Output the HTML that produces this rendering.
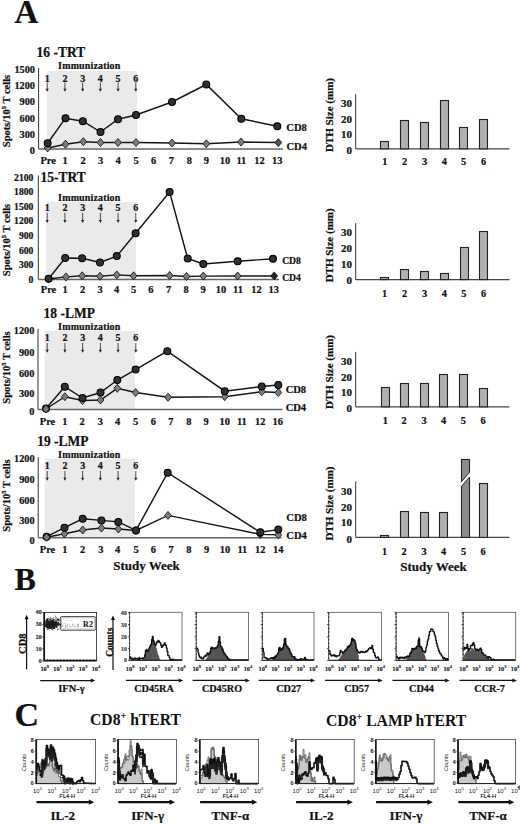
<!DOCTYPE html>
<html><head><meta charset="utf-8"><style>
html,body{margin:0;padding:0;background:#fff;}
svg{display:block;}
</style></head><body>
<svg width="520" height="824" viewBox="0 0 520 824">
<rect width="520" height="824" fill="#fff"/>
<text x="14.50" y="22.89" font-size="33" text-anchor="start" font-weight="bold" font-family="'Liberation Serif', serif" fill="#111" stroke="#111" stroke-width="0.22" >A</text>
<text x="0" y="0" transform="translate(36.60,56.59) scale(1,1.1)" font-size="13.5" text-anchor="start" font-weight="bold" font-family="'Liberation Serif', serif" fill="#111" stroke="#111" stroke-width="0.22" >16 -TRT</text>
<rect x="46.80" y="71.00" width="90.20" height="78.00" fill="#eaeaea" stroke="none" stroke-width="1" />
<line x1="38.60" y1="68.00" x2="38.60" y2="149.00" stroke="#333" stroke-width="1" />
<line x1="38.60" y1="149.00" x2="283.00" y2="149.00" stroke="#666" stroke-width="1.6" />
<text x="35.00" y="73.30" font-size="10.3" text-anchor="end" font-weight="bold" font-family="'Liberation Serif', serif" fill="#111" stroke="#111" stroke-width="0.22" >1500</text>
<text x="35.00" y="89.30" font-size="10.3" text-anchor="end" font-weight="bold" font-family="'Liberation Serif', serif" fill="#111" stroke="#111" stroke-width="0.22" >1200</text>
<text x="35.00" y="105.40" font-size="10.3" text-anchor="end" font-weight="bold" font-family="'Liberation Serif', serif" fill="#111" stroke="#111" stroke-width="0.22" >900</text>
<text x="35.00" y="121.50" font-size="10.3" text-anchor="end" font-weight="bold" font-family="'Liberation Serif', serif" fill="#111" stroke="#111" stroke-width="0.22" >600</text>
<text x="35.00" y="137.50" font-size="10.3" text-anchor="end" font-weight="bold" font-family="'Liberation Serif', serif" fill="#111" stroke="#111" stroke-width="0.22" >300</text>
<text x="35.00" y="153.70" font-size="10.3" text-anchor="end" font-weight="bold" font-family="'Liberation Serif', serif" fill="#111" stroke="#111" stroke-width="0.22" >0</text>
<text x="48.10" y="163.54" font-size="10.4" text-anchor="middle" font-weight="bold" font-family="'Liberation Serif', serif" fill="#111" stroke="#111" stroke-width="0.22" >Pre</text>
<text x="65.10" y="163.54" font-size="10.4" text-anchor="middle" font-weight="bold" font-family="'Liberation Serif', serif" fill="#111" stroke="#111" stroke-width="0.22" >1</text>
<text x="83.00" y="163.54" font-size="10.4" text-anchor="middle" font-weight="bold" font-family="'Liberation Serif', serif" fill="#111" stroke="#111" stroke-width="0.22" >2</text>
<text x="100.50" y="163.54" font-size="10.4" text-anchor="middle" font-weight="bold" font-family="'Liberation Serif', serif" fill="#111" stroke="#111" stroke-width="0.22" >3</text>
<text x="118.00" y="163.54" font-size="10.4" text-anchor="middle" font-weight="bold" font-family="'Liberation Serif', serif" fill="#111" stroke="#111" stroke-width="0.22" >4</text>
<text x="136.00" y="163.54" font-size="10.4" text-anchor="middle" font-weight="bold" font-family="'Liberation Serif', serif" fill="#111" stroke="#111" stroke-width="0.22" >5</text>
<text x="153.70" y="163.54" font-size="10.4" text-anchor="middle" font-weight="bold" font-family="'Liberation Serif', serif" fill="#111" stroke="#111" stroke-width="0.22" >6</text>
<text x="171.30" y="163.54" font-size="10.4" text-anchor="middle" font-weight="bold" font-family="'Liberation Serif', serif" fill="#111" stroke="#111" stroke-width="0.22" >7</text>
<text x="189.30" y="163.54" font-size="10.4" text-anchor="middle" font-weight="bold" font-family="'Liberation Serif', serif" fill="#111" stroke="#111" stroke-width="0.22" >8</text>
<text x="206.30" y="163.54" font-size="10.4" text-anchor="middle" font-weight="bold" font-family="'Liberation Serif', serif" fill="#111" stroke="#111" stroke-width="0.22" >9</text>
<text x="225.00" y="163.54" font-size="10.4" text-anchor="middle" font-weight="bold" font-family="'Liberation Serif', serif" fill="#111" stroke="#111" stroke-width="0.22" >10</text>
<text x="241.30" y="163.54" font-size="10.4" text-anchor="middle" font-weight="bold" font-family="'Liberation Serif', serif" fill="#111" stroke="#111" stroke-width="0.22" >11</text>
<text x="259.50" y="163.54" font-size="10.4" text-anchor="middle" font-weight="bold" font-family="'Liberation Serif', serif" fill="#111" stroke="#111" stroke-width="0.22" >12</text>
<text x="277.20" y="163.54" font-size="10.4" text-anchor="middle" font-weight="bold" font-family="'Liberation Serif', serif" fill="#111" stroke="#111" stroke-width="0.22" >13</text>
<text x="89.30" y="68.90" font-size="10" text-anchor="middle" font-weight="bold" font-family="'Liberation Serif', serif" fill="#111" stroke="#111" stroke-width="0.22" letter-spacing="0.15">Immunization</text>
<text x="47.20" y="81.70" font-size="10" text-anchor="middle" font-weight="bold" font-family="'Liberation Serif', serif" fill="#111" stroke="#111" stroke-width="0.22" >1</text>
<line x1="47.20" y1="82.50" x2="47.20" y2="89.20" stroke="#222" stroke-width="0.8" />
<path d="M45.60,88.70 L48.80,88.70 L47.20,91.70 Z" fill="#222"/>
<text x="64.92" y="81.70" font-size="10" text-anchor="middle" font-weight="bold" font-family="'Liberation Serif', serif" fill="#111" stroke="#111" stroke-width="0.22" >2</text>
<line x1="64.92" y1="82.50" x2="64.92" y2="89.20" stroke="#222" stroke-width="0.8" />
<path d="M63.32,88.70 L66.52,88.70 L64.92,91.70 Z" fill="#222"/>
<text x="82.64" y="81.70" font-size="10" text-anchor="middle" font-weight="bold" font-family="'Liberation Serif', serif" fill="#111" stroke="#111" stroke-width="0.22" >3</text>
<line x1="82.64" y1="82.50" x2="82.64" y2="89.20" stroke="#222" stroke-width="0.8" />
<path d="M81.04,88.70 L84.24,88.70 L82.64,91.70 Z" fill="#222"/>
<text x="100.36" y="81.70" font-size="10" text-anchor="middle" font-weight="bold" font-family="'Liberation Serif', serif" fill="#111" stroke="#111" stroke-width="0.22" >4</text>
<line x1="100.36" y1="82.50" x2="100.36" y2="89.20" stroke="#222" stroke-width="0.8" />
<path d="M98.76,88.70 L101.96,88.70 L100.36,91.70 Z" fill="#222"/>
<text x="118.08" y="81.70" font-size="10" text-anchor="middle" font-weight="bold" font-family="'Liberation Serif', serif" fill="#111" stroke="#111" stroke-width="0.22" >5</text>
<line x1="118.08" y1="82.50" x2="118.08" y2="89.20" stroke="#222" stroke-width="0.8" />
<path d="M116.48,88.70 L119.68,88.70 L118.08,91.70 Z" fill="#222"/>
<text x="135.80" y="81.70" font-size="10" text-anchor="middle" font-weight="bold" font-family="'Liberation Serif', serif" fill="#111" stroke="#111" stroke-width="0.22" >6</text>
<line x1="135.80" y1="82.50" x2="135.80" y2="89.20" stroke="#222" stroke-width="0.8" />
<path d="M134.20,88.70 L137.40,88.70 L135.80,91.70 Z" fill="#222"/>
<polyline points="47.60,148.00 65.50,144.20 83.30,141.70 100.50,142.50 118.00,142.50 136.00,142.50 172.00,143.00 206.30,143.75 241.00,142.00 278.30,142.50" fill="none" stroke="#151515" stroke-width="1.45"/>
<polyline points="47.60,143.25 65.50,118.20 82.85,121.20 100.50,132.00 118.00,119.25 136.00,115.00 172.00,102.00 206.30,84.50 241.30,118.80 277.30,126.30" fill="none" stroke="#151515" stroke-width="1.45"/>
<path d="M47.60,144.00 L51.00,148.00 L47.60,152.00 L44.20,148.00 Z" fill="#7d7d7d" stroke="#1a1a1a" stroke-width="0.9"/>
<path d="M65.50,140.20 L68.90,144.20 L65.50,148.20 L62.10,144.20 Z" fill="#7d7d7d" stroke="#1a1a1a" stroke-width="0.9"/>
<path d="M83.30,137.70 L86.70,141.70 L83.30,145.70 L79.90,141.70 Z" fill="#7d7d7d" stroke="#1a1a1a" stroke-width="0.9"/>
<path d="M100.50,138.50 L103.90,142.50 L100.50,146.50 L97.10,142.50 Z" fill="#7d7d7d" stroke="#1a1a1a" stroke-width="0.9"/>
<path d="M118.00,138.50 L121.40,142.50 L118.00,146.50 L114.60,142.50 Z" fill="#7d7d7d" stroke="#1a1a1a" stroke-width="0.9"/>
<path d="M136.00,138.50 L139.40,142.50 L136.00,146.50 L132.60,142.50 Z" fill="#7d7d7d" stroke="#1a1a1a" stroke-width="0.9"/>
<path d="M172.00,139.00 L175.40,143.00 L172.00,147.00 L168.60,143.00 Z" fill="#7d7d7d" stroke="#1a1a1a" stroke-width="0.9"/>
<path d="M206.30,139.75 L209.70,143.75 L206.30,147.75 L202.90,143.75 Z" fill="#7d7d7d" stroke="#1a1a1a" stroke-width="0.9"/>
<path d="M241.00,138.00 L244.40,142.00 L241.00,146.00 L237.60,142.00 Z" fill="#7d7d7d" stroke="#1a1a1a" stroke-width="0.9"/>
<path d="M278.30,138.50 L281.70,142.50 L278.30,146.50 L274.90,142.50 Z" fill="#555" stroke="#1a1a1a" stroke-width="0.9"/>
<circle cx="47.60" cy="143.25" r="3.45" fill="#303030" stroke="#000" stroke-width="1.1"/>
<circle cx="65.50" cy="118.20" r="3.45" fill="#303030" stroke="#000" stroke-width="1.1"/>
<circle cx="82.85" cy="121.20" r="3.45" fill="#303030" stroke="#000" stroke-width="1.1"/>
<circle cx="100.50" cy="132.00" r="3.45" fill="#303030" stroke="#000" stroke-width="1.1"/>
<circle cx="118.00" cy="119.25" r="3.45" fill="#303030" stroke="#000" stroke-width="1.1"/>
<circle cx="136.00" cy="115.00" r="3.45" fill="#303030" stroke="#000" stroke-width="1.1"/>
<circle cx="172.00" cy="102.00" r="3.45" fill="#303030" stroke="#000" stroke-width="1.1"/>
<circle cx="206.30" cy="84.50" r="3.45" fill="#303030" stroke="#000" stroke-width="1.1"/>
<circle cx="241.30" cy="118.80" r="3.45" fill="#303030" stroke="#000" stroke-width="1.1"/>
<circle cx="277.30" cy="126.30" r="3.45" fill="#303030" stroke="#000" stroke-width="1.1"/>
<text x="286.30" y="131.47" font-size="10.5" text-anchor="start" font-weight="bold" font-family="'Liberation Serif', serif" fill="#111" stroke="#111" stroke-width="0.22" >CD8</text>
<text x="286.50" y="149.57" font-size="10.5" text-anchor="start" font-weight="bold" font-family="'Liberation Serif', serif" fill="#111" stroke="#111" stroke-width="0.22" >CD4</text>
<text x="0" y="0" transform="translate(10.07,111.00) rotate(-90)" font-size="10.5" text-anchor="middle" font-weight="bold" font-family="'Liberation Serif', serif" fill="#111" stroke="#111" stroke-width="0.22" >Spots/10<tspan font-size="6.5" dy="-4">5</tspan><tspan dy="4"> T cells</tspan></text>
<text x="0" y="0" transform="translate(40.60,182.19) scale(1,1.1)" font-size="13.5" text-anchor="start" font-weight="bold" font-family="'Liberation Serif', serif" fill="#111" stroke="#111" stroke-width="0.22" >15-TRT</text>
<rect x="46.30" y="202.00" width="89.70" height="77.50" fill="#eaeaea" stroke="none" stroke-width="1" />
<line x1="38.30" y1="175.50" x2="38.30" y2="279.50" stroke="#333" stroke-width="1" />
<line x1="38.30" y1="279.50" x2="279.00" y2="279.50" stroke="#666" stroke-width="1.6" />
<text x="33.30" y="180.96" font-size="9.6" text-anchor="end" font-weight="bold" font-family="'Liberation Serif', serif" fill="#111" stroke="#111" stroke-width="0.22" >2100</text>
<text x="33.30" y="195.16" font-size="9.6" text-anchor="end" font-weight="bold" font-family="'Liberation Serif', serif" fill="#111" stroke="#111" stroke-width="0.22" >1800</text>
<text x="33.30" y="209.86" font-size="9.6" text-anchor="end" font-weight="bold" font-family="'Liberation Serif', serif" fill="#111" stroke="#111" stroke-width="0.22" >1500</text>
<text x="33.30" y="224.26" font-size="9.6" text-anchor="end" font-weight="bold" font-family="'Liberation Serif', serif" fill="#111" stroke="#111" stroke-width="0.22" >1200</text>
<text x="33.30" y="239.26" font-size="9.6" text-anchor="end" font-weight="bold" font-family="'Liberation Serif', serif" fill="#111" stroke="#111" stroke-width="0.22" >900</text>
<text x="33.30" y="253.56" font-size="9.6" text-anchor="end" font-weight="bold" font-family="'Liberation Serif', serif" fill="#111" stroke="#111" stroke-width="0.22" >600</text>
<text x="33.30" y="268.46" font-size="9.6" text-anchor="end" font-weight="bold" font-family="'Liberation Serif', serif" fill="#111" stroke="#111" stroke-width="0.22" >300</text>
<text x="33.30" y="283.06" font-size="9.6" text-anchor="end" font-weight="bold" font-family="'Liberation Serif', serif" fill="#111" stroke="#111" stroke-width="0.22" >0</text>
<text x="48.50" y="293.04" font-size="10.4" text-anchor="middle" font-weight="bold" font-family="'Liberation Serif', serif" fill="#111" stroke="#111" stroke-width="0.22" >Pre</text>
<text x="65.00" y="293.04" font-size="10.4" text-anchor="middle" font-weight="bold" font-family="'Liberation Serif', serif" fill="#111" stroke="#111" stroke-width="0.22" >1</text>
<text x="82.50" y="293.04" font-size="10.4" text-anchor="middle" font-weight="bold" font-family="'Liberation Serif', serif" fill="#111" stroke="#111" stroke-width="0.22" >2</text>
<text x="100.00" y="293.04" font-size="10.4" text-anchor="middle" font-weight="bold" font-family="'Liberation Serif', serif" fill="#111" stroke="#111" stroke-width="0.22" >3</text>
<text x="116.60" y="293.04" font-size="10.4" text-anchor="middle" font-weight="bold" font-family="'Liberation Serif', serif" fill="#111" stroke="#111" stroke-width="0.22" >4</text>
<text x="133.60" y="293.04" font-size="10.4" text-anchor="middle" font-weight="bold" font-family="'Liberation Serif', serif" fill="#111" stroke="#111" stroke-width="0.22" >5</text>
<text x="150.80" y="293.04" font-size="10.4" text-anchor="middle" font-weight="bold" font-family="'Liberation Serif', serif" fill="#111" stroke="#111" stroke-width="0.22" >6</text>
<text x="168.50" y="293.04" font-size="10.4" text-anchor="middle" font-weight="bold" font-family="'Liberation Serif', serif" fill="#111" stroke="#111" stroke-width="0.22" >7</text>
<text x="186.00" y="293.04" font-size="10.4" text-anchor="middle" font-weight="bold" font-family="'Liberation Serif', serif" fill="#111" stroke="#111" stroke-width="0.22" >8</text>
<text x="203.00" y="293.04" font-size="10.4" text-anchor="middle" font-weight="bold" font-family="'Liberation Serif', serif" fill="#111" stroke="#111" stroke-width="0.22" >9</text>
<text x="221.00" y="293.04" font-size="10.4" text-anchor="middle" font-weight="bold" font-family="'Liberation Serif', serif" fill="#111" stroke="#111" stroke-width="0.22" >10</text>
<text x="238.00" y="293.04" font-size="10.4" text-anchor="middle" font-weight="bold" font-family="'Liberation Serif', serif" fill="#111" stroke="#111" stroke-width="0.22" >11</text>
<text x="256.50" y="293.04" font-size="10.4" text-anchor="middle" font-weight="bold" font-family="'Liberation Serif', serif" fill="#111" stroke="#111" stroke-width="0.22" >12</text>
<text x="273.80" y="293.04" font-size="10.4" text-anchor="middle" font-weight="bold" font-family="'Liberation Serif', serif" fill="#111" stroke="#111" stroke-width="0.22" >13</text>
<text x="89.30" y="201.40" font-size="10" text-anchor="middle" font-weight="bold" font-family="'Liberation Serif', serif" fill="#111" stroke="#111" stroke-width="0.22" letter-spacing="0.15">Immunization</text>
<text x="47.20" y="210.90" font-size="10" text-anchor="middle" font-weight="bold" font-family="'Liberation Serif', serif" fill="#111" stroke="#111" stroke-width="0.22" >1</text>
<line x1="47.20" y1="212.80" x2="47.20" y2="220.50" stroke="#222" stroke-width="0.8" />
<path d="M45.60,220.00 L48.80,220.00 L47.20,223.00 Z" fill="#222"/>
<text x="64.92" y="210.90" font-size="10" text-anchor="middle" font-weight="bold" font-family="'Liberation Serif', serif" fill="#111" stroke="#111" stroke-width="0.22" >2</text>
<line x1="64.92" y1="212.80" x2="64.92" y2="220.50" stroke="#222" stroke-width="0.8" />
<path d="M63.32,220.00 L66.52,220.00 L64.92,223.00 Z" fill="#222"/>
<text x="82.64" y="210.90" font-size="10" text-anchor="middle" font-weight="bold" font-family="'Liberation Serif', serif" fill="#111" stroke="#111" stroke-width="0.22" >3</text>
<line x1="82.64" y1="212.80" x2="82.64" y2="220.50" stroke="#222" stroke-width="0.8" />
<path d="M81.04,220.00 L84.24,220.00 L82.64,223.00 Z" fill="#222"/>
<text x="100.36" y="210.90" font-size="10" text-anchor="middle" font-weight="bold" font-family="'Liberation Serif', serif" fill="#111" stroke="#111" stroke-width="0.22" >4</text>
<line x1="100.36" y1="212.80" x2="100.36" y2="220.50" stroke="#222" stroke-width="0.8" />
<path d="M98.76,220.00 L101.96,220.00 L100.36,223.00 Z" fill="#222"/>
<text x="118.08" y="210.90" font-size="10" text-anchor="middle" font-weight="bold" font-family="'Liberation Serif', serif" fill="#111" stroke="#111" stroke-width="0.22" >5</text>
<line x1="118.08" y1="212.80" x2="118.08" y2="220.50" stroke="#222" stroke-width="0.8" />
<path d="M116.48,220.00 L119.68,220.00 L118.08,223.00 Z" fill="#222"/>
<text x="135.80" y="210.90" font-size="10" text-anchor="middle" font-weight="bold" font-family="'Liberation Serif', serif" fill="#111" stroke="#111" stroke-width="0.22" >6</text>
<line x1="135.80" y1="212.80" x2="135.80" y2="220.50" stroke="#222" stroke-width="0.8" />
<path d="M134.20,220.00 L137.40,220.00 L135.80,223.00 Z" fill="#222"/>
<polyline points="48.60,279.00 66.00,276.90 82.20,275.80 100.00,276.25 116.80,274.90 133.60,275.80 169.60,275.50 186.50,276.50 203.30,276.10 237.70,276.00 274.20,275.90" fill="none" stroke="#151515" stroke-width="1.45"/>
<polyline points="48.60,278.75 65.20,258.00 82.10,258.20 100.00,262.50 116.80,256.10 135.60,233.30 169.60,192.00 187.70,258.50 203.30,264.00 237.70,261.30 273.00,258.80" fill="none" stroke="#151515" stroke-width="1.45"/>
<path d="M48.60,275.00 L52.00,279.00 L48.60,283.00 L45.20,279.00 Z" fill="#7d7d7d" stroke="#1a1a1a" stroke-width="0.9"/>
<path d="M66.00,272.90 L69.40,276.90 L66.00,280.90 L62.60,276.90 Z" fill="#7d7d7d" stroke="#1a1a1a" stroke-width="0.9"/>
<path d="M82.20,271.80 L85.60,275.80 L82.20,279.80 L78.80,275.80 Z" fill="#7d7d7d" stroke="#1a1a1a" stroke-width="0.9"/>
<path d="M100.00,272.25 L103.40,276.25 L100.00,280.25 L96.60,276.25 Z" fill="#7d7d7d" stroke="#1a1a1a" stroke-width="0.9"/>
<path d="M116.80,270.90 L120.20,274.90 L116.80,278.90 L113.40,274.90 Z" fill="#7d7d7d" stroke="#1a1a1a" stroke-width="0.9"/>
<path d="M133.60,271.80 L137.00,275.80 L133.60,279.80 L130.20,275.80 Z" fill="#7d7d7d" stroke="#1a1a1a" stroke-width="0.9"/>
<path d="M169.60,271.50 L173.00,275.50 L169.60,279.50 L166.20,275.50 Z" fill="#7d7d7d" stroke="#1a1a1a" stroke-width="0.9"/>
<path d="M186.50,272.50 L189.90,276.50 L186.50,280.50 L183.10,276.50 Z" fill="#7d7d7d" stroke="#1a1a1a" stroke-width="0.9"/>
<path d="M203.30,272.10 L206.70,276.10 L203.30,280.10 L199.90,276.10 Z" fill="#7d7d7d" stroke="#1a1a1a" stroke-width="0.9"/>
<path d="M237.70,272.00 L241.10,276.00 L237.70,280.00 L234.30,276.00 Z" fill="#7d7d7d" stroke="#1a1a1a" stroke-width="0.9"/>
<path d="M274.20,271.90 L277.60,275.90 L274.20,279.90 L270.80,275.90 Z" fill="#222" stroke="#1a1a1a" stroke-width="0.9"/>
<circle cx="48.60" cy="278.75" r="3.45" fill="#303030" stroke="#000" stroke-width="1.1"/>
<circle cx="65.20" cy="258.00" r="3.45" fill="#303030" stroke="#000" stroke-width="1.1"/>
<circle cx="82.10" cy="258.20" r="3.45" fill="#303030" stroke="#000" stroke-width="1.1"/>
<circle cx="100.00" cy="262.50" r="3.45" fill="#303030" stroke="#000" stroke-width="1.1"/>
<circle cx="116.80" cy="256.10" r="3.45" fill="#303030" stroke="#000" stroke-width="1.1"/>
<circle cx="135.60" cy="233.30" r="3.45" fill="#303030" stroke="#000" stroke-width="1.1"/>
<circle cx="169.60" cy="192.00" r="3.45" fill="#303030" stroke="#000" stroke-width="1.1"/>
<circle cx="187.70" cy="258.50" r="3.45" fill="#303030" stroke="#000" stroke-width="1.1"/>
<circle cx="203.30" cy="264.00" r="3.45" fill="#303030" stroke="#000" stroke-width="1.1"/>
<circle cx="237.70" cy="261.30" r="3.45" fill="#303030" stroke="#000" stroke-width="1.1"/>
<circle cx="273.00" cy="258.80" r="3.45" fill="#303030" stroke="#000" stroke-width="1.1"/>
<text x="282.20" y="264.06" font-size="9.6" text-anchor="start" font-weight="bold" font-family="'Liberation Serif', serif" fill="#111" stroke="#111" stroke-width="0.22" >CD8</text>
<text x="282.20" y="280.66" font-size="9.6" text-anchor="start" font-weight="bold" font-family="'Liberation Serif', serif" fill="#111" stroke="#111" stroke-width="0.22" >CD4</text>
<text x="0" y="0" transform="translate(10.07,240.00) rotate(-90)" font-size="10.5" text-anchor="middle" font-weight="bold" font-family="'Liberation Serif', serif" fill="#111" stroke="#111" stroke-width="0.22" >Spots/10<tspan font-size="6.5" dy="-4">5</tspan><tspan dy="4"> T cells</tspan></text>
<text x="0" y="0" transform="translate(43.60,317.79) scale(1,1.1)" font-size="13.5" text-anchor="start" font-weight="bold" font-family="'Liberation Serif', serif" fill="#111" stroke="#111" stroke-width="0.22" >18 -LMP</text>
<rect x="44.60" y="331.00" width="90.40" height="78.50" fill="#eaeaea" stroke="none" stroke-width="1" />
<line x1="38.00" y1="329.00" x2="38.00" y2="409.50" stroke="#333" stroke-width="1" />
<line x1="38.00" y1="409.50" x2="282.50" y2="409.50" stroke="#666" stroke-width="1.6" />
<text x="34.40" y="334.00" font-size="10.3" text-anchor="end" font-weight="bold" font-family="'Liberation Serif', serif" fill="#111" stroke="#111" stroke-width="0.22" >1200</text>
<text x="34.40" y="355.50" font-size="10.3" text-anchor="end" font-weight="bold" font-family="'Liberation Serif', serif" fill="#111" stroke="#111" stroke-width="0.22" >900</text>
<text x="34.40" y="376.80" font-size="10.3" text-anchor="end" font-weight="bold" font-family="'Liberation Serif', serif" fill="#111" stroke="#111" stroke-width="0.22" >600</text>
<text x="34.40" y="396.50" font-size="10.3" text-anchor="end" font-weight="bold" font-family="'Liberation Serif', serif" fill="#111" stroke="#111" stroke-width="0.22" >300</text>
<text x="34.40" y="414.80" font-size="10.3" text-anchor="end" font-weight="bold" font-family="'Liberation Serif', serif" fill="#111" stroke="#111" stroke-width="0.22" >0</text>
<text x="47.50" y="424.54" font-size="10.4" text-anchor="middle" font-weight="bold" font-family="'Liberation Serif', serif" fill="#111" stroke="#111" stroke-width="0.22" >Pre</text>
<text x="64.80" y="424.54" font-size="10.4" text-anchor="middle" font-weight="bold" font-family="'Liberation Serif', serif" fill="#111" stroke="#111" stroke-width="0.22" >1</text>
<text x="82.20" y="424.54" font-size="10.4" text-anchor="middle" font-weight="bold" font-family="'Liberation Serif', serif" fill="#111" stroke="#111" stroke-width="0.22" >2</text>
<text x="100.40" y="424.54" font-size="10.4" text-anchor="middle" font-weight="bold" font-family="'Liberation Serif', serif" fill="#111" stroke="#111" stroke-width="0.22" >3</text>
<text x="117.50" y="424.54" font-size="10.4" text-anchor="middle" font-weight="bold" font-family="'Liberation Serif', serif" fill="#111" stroke="#111" stroke-width="0.22" >4</text>
<text x="135.60" y="424.54" font-size="10.4" text-anchor="middle" font-weight="bold" font-family="'Liberation Serif', serif" fill="#111" stroke="#111" stroke-width="0.22" >5</text>
<text x="153.30" y="424.54" font-size="10.4" text-anchor="middle" font-weight="bold" font-family="'Liberation Serif', serif" fill="#111" stroke="#111" stroke-width="0.22" >6</text>
<text x="170.80" y="424.54" font-size="10.4" text-anchor="middle" font-weight="bold" font-family="'Liberation Serif', serif" fill="#111" stroke="#111" stroke-width="0.22" >7</text>
<text x="188.80" y="424.54" font-size="10.4" text-anchor="middle" font-weight="bold" font-family="'Liberation Serif', serif" fill="#111" stroke="#111" stroke-width="0.22" >8</text>
<text x="206.10" y="424.54" font-size="10.4" text-anchor="middle" font-weight="bold" font-family="'Liberation Serif', serif" fill="#111" stroke="#111" stroke-width="0.22" >9</text>
<text x="224.75" y="424.54" font-size="10.4" text-anchor="middle" font-weight="bold" font-family="'Liberation Serif', serif" fill="#111" stroke="#111" stroke-width="0.22" >10</text>
<text x="241.90" y="424.54" font-size="10.4" text-anchor="middle" font-weight="bold" font-family="'Liberation Serif', serif" fill="#111" stroke="#111" stroke-width="0.22" >11</text>
<text x="260.30" y="424.54" font-size="10.4" text-anchor="middle" font-weight="bold" font-family="'Liberation Serif', serif" fill="#111" stroke="#111" stroke-width="0.22" >12</text>
<text x="277.80" y="424.54" font-size="10.4" text-anchor="middle" font-weight="bold" font-family="'Liberation Serif', serif" fill="#111" stroke="#111" stroke-width="0.22" >16</text>
<text x="89.30" y="330.40" font-size="10" text-anchor="middle" font-weight="bold" font-family="'Liberation Serif', serif" fill="#111" stroke="#111" stroke-width="0.22" letter-spacing="0.15">Immunization</text>
<text x="47.20" y="340.70" font-size="10" text-anchor="middle" font-weight="bold" font-family="'Liberation Serif', serif" fill="#111" stroke="#111" stroke-width="0.22" >1</text>
<line x1="47.20" y1="343.00" x2="47.20" y2="350.30" stroke="#222" stroke-width="0.8" />
<path d="M45.60,349.80 L48.80,349.80 L47.20,352.80 Z" fill="#222"/>
<text x="64.92" y="340.70" font-size="10" text-anchor="middle" font-weight="bold" font-family="'Liberation Serif', serif" fill="#111" stroke="#111" stroke-width="0.22" >2</text>
<line x1="64.92" y1="343.00" x2="64.92" y2="350.30" stroke="#222" stroke-width="0.8" />
<path d="M63.32,349.80 L66.52,349.80 L64.92,352.80 Z" fill="#222"/>
<text x="82.64" y="340.70" font-size="10" text-anchor="middle" font-weight="bold" font-family="'Liberation Serif', serif" fill="#111" stroke="#111" stroke-width="0.22" >3</text>
<line x1="82.64" y1="343.00" x2="82.64" y2="350.30" stroke="#222" stroke-width="0.8" />
<path d="M81.04,349.80 L84.24,349.80 L82.64,352.80 Z" fill="#222"/>
<text x="100.36" y="340.70" font-size="10" text-anchor="middle" font-weight="bold" font-family="'Liberation Serif', serif" fill="#111" stroke="#111" stroke-width="0.22" >4</text>
<line x1="100.36" y1="343.00" x2="100.36" y2="350.30" stroke="#222" stroke-width="0.8" />
<path d="M98.76,349.80 L101.96,349.80 L100.36,352.80 Z" fill="#222"/>
<text x="118.08" y="340.70" font-size="10" text-anchor="middle" font-weight="bold" font-family="'Liberation Serif', serif" fill="#111" stroke="#111" stroke-width="0.22" >5</text>
<line x1="118.08" y1="343.00" x2="118.08" y2="350.30" stroke="#222" stroke-width="0.8" />
<path d="M116.48,349.80 L119.68,349.80 L118.08,352.80 Z" fill="#222"/>
<text x="135.80" y="340.70" font-size="10" text-anchor="middle" font-weight="bold" font-family="'Liberation Serif', serif" fill="#111" stroke="#111" stroke-width="0.22" >6</text>
<line x1="135.80" y1="343.00" x2="135.80" y2="350.30" stroke="#222" stroke-width="0.8" />
<path d="M134.20,349.80 L137.40,349.80 L135.80,352.80 Z" fill="#222"/>
<polyline points="46.00,409.00 64.80,396.70 82.50,400.50 100.50,400.00 117.30,388.30 135.60,392.50 168.00,397.30 224.75,396.70 261.80,391.80 278.30,392.50" fill="none" stroke="#151515" stroke-width="1.45"/>
<polyline points="46.00,408.50 64.80,386.70 82.50,398.00 100.50,392.50 117.30,380.00 135.60,369.60 167.30,351.20 224.75,391.20 261.80,386.50 278.30,385.00" fill="none" stroke="#151515" stroke-width="1.45"/>
<path d="M46.00,405.00 L49.40,409.00 L46.00,413.00 L42.60,409.00 Z" fill="#7d7d7d" stroke="#1a1a1a" stroke-width="0.9"/>
<path d="M64.80,392.70 L68.20,396.70 L64.80,400.70 L61.40,396.70 Z" fill="#7d7d7d" stroke="#1a1a1a" stroke-width="0.9"/>
<path d="M82.50,396.50 L85.90,400.50 L82.50,404.50 L79.10,400.50 Z" fill="#7d7d7d" stroke="#1a1a1a" stroke-width="0.9"/>
<path d="M100.50,396.00 L103.90,400.00 L100.50,404.00 L97.10,400.00 Z" fill="#7d7d7d" stroke="#1a1a1a" stroke-width="0.9"/>
<path d="M117.30,384.30 L120.70,388.30 L117.30,392.30 L113.90,388.30 Z" fill="#7d7d7d" stroke="#1a1a1a" stroke-width="0.9"/>
<path d="M135.60,388.50 L139.00,392.50 L135.60,396.50 L132.20,392.50 Z" fill="#7d7d7d" stroke="#1a1a1a" stroke-width="0.9"/>
<path d="M168.00,393.30 L171.40,397.30 L168.00,401.30 L164.60,397.30 Z" fill="#7d7d7d" stroke="#1a1a1a" stroke-width="0.9"/>
<path d="M224.75,392.70 L228.15,396.70 L224.75,400.70 L221.35,396.70 Z" fill="#7d7d7d" stroke="#1a1a1a" stroke-width="0.9"/>
<path d="M261.80,387.80 L265.20,391.80 L261.80,395.80 L258.40,391.80 Z" fill="#7d7d7d" stroke="#1a1a1a" stroke-width="0.9"/>
<path d="M278.30,388.50 L281.70,392.50 L278.30,396.50 L274.90,392.50 Z" fill="#7d7d7d" stroke="#1a1a1a" stroke-width="0.9"/>
<circle cx="46.00" cy="408.50" r="3.45" fill="#303030" stroke="#000" stroke-width="1.1"/>
<circle cx="64.80" cy="386.70" r="3.45" fill="#303030" stroke="#000" stroke-width="1.1"/>
<circle cx="82.50" cy="398.00" r="3.45" fill="#303030" stroke="#000" stroke-width="1.1"/>
<circle cx="100.50" cy="392.50" r="3.45" fill="#303030" stroke="#000" stroke-width="1.1"/>
<circle cx="117.30" cy="380.00" r="3.45" fill="#303030" stroke="#000" stroke-width="1.1"/>
<circle cx="135.60" cy="369.60" r="3.45" fill="#303030" stroke="#000" stroke-width="1.1"/>
<circle cx="167.30" cy="351.20" r="3.45" fill="#303030" stroke="#000" stroke-width="1.1"/>
<circle cx="224.75" cy="391.20" r="3.45" fill="#303030" stroke="#000" stroke-width="1.1"/>
<circle cx="261.80" cy="386.50" r="3.45" fill="#303030" stroke="#000" stroke-width="1.1"/>
<circle cx="278.30" cy="385.00" r="3.45" fill="#303030" stroke="#000" stroke-width="1.1"/>
<path d="M46.00,405.00 L49.40,409.00 L46.00,413.00 L42.60,409.00 Z" fill="#7d7d7d" stroke="#1a1a1a" stroke-width="0.9"/>
<text x="285.70" y="392.57" font-size="10.5" text-anchor="start" font-weight="bold" font-family="'Liberation Serif', serif" fill="#111" stroke="#111" stroke-width="0.22" >CD8</text>
<text x="285.70" y="411.27" font-size="10.5" text-anchor="start" font-weight="bold" font-family="'Liberation Serif', serif" fill="#111" stroke="#111" stroke-width="0.22" >CD4</text>
<text x="0" y="0" transform="translate(10.07,367.50) rotate(-90)" font-size="10.5" text-anchor="middle" font-weight="bold" font-family="'Liberation Serif', serif" fill="#111" stroke="#111" stroke-width="0.22" >Spots/10<tspan font-size="6.5" dy="-4">5</tspan><tspan dy="4"> T cells</tspan></text>
<text x="0" y="0" transform="translate(37.20,446.39) scale(1,1.1)" font-size="13.5" text-anchor="start" font-weight="bold" font-family="'Liberation Serif', serif" fill="#111" stroke="#111" stroke-width="0.22" >19 -LMP</text>
<rect x="44.60" y="458.70" width="90.40" height="79.30" fill="#eaeaea" stroke="none" stroke-width="1" />
<line x1="38.20" y1="457.00" x2="38.20" y2="537.80" stroke="#333" stroke-width="1" />
<line x1="38.20" y1="537.80" x2="281.50" y2="537.80" stroke="#666" stroke-width="1.6" />
<text x="34.60" y="462.30" font-size="10.3" text-anchor="end" font-weight="bold" font-family="'Liberation Serif', serif" fill="#111" stroke="#111" stroke-width="0.22" >1200</text>
<text x="34.60" y="483.00" font-size="10.3" text-anchor="end" font-weight="bold" font-family="'Liberation Serif', serif" fill="#111" stroke="#111" stroke-width="0.22" >900</text>
<text x="34.60" y="504.00" font-size="10.3" text-anchor="end" font-weight="bold" font-family="'Liberation Serif', serif" fill="#111" stroke="#111" stroke-width="0.22" >600</text>
<text x="34.60" y="524.00" font-size="10.3" text-anchor="end" font-weight="bold" font-family="'Liberation Serif', serif" fill="#111" stroke="#111" stroke-width="0.22" >300</text>
<text x="34.60" y="543.50" font-size="10.3" text-anchor="end" font-weight="bold" font-family="'Liberation Serif', serif" fill="#111" stroke="#111" stroke-width="0.22" >0</text>
<text x="47.50" y="553.04" font-size="10.4" text-anchor="middle" font-weight="bold" font-family="'Liberation Serif', serif" fill="#111" stroke="#111" stroke-width="0.22" >Pre</text>
<text x="64.80" y="553.04" font-size="10.4" text-anchor="middle" font-weight="bold" font-family="'Liberation Serif', serif" fill="#111" stroke="#111" stroke-width="0.22" >1</text>
<text x="82.70" y="553.04" font-size="10.4" text-anchor="middle" font-weight="bold" font-family="'Liberation Serif', serif" fill="#111" stroke="#111" stroke-width="0.22" >2</text>
<text x="100.80" y="553.04" font-size="10.4" text-anchor="middle" font-weight="bold" font-family="'Liberation Serif', serif" fill="#111" stroke="#111" stroke-width="0.22" >3</text>
<text x="117.70" y="553.04" font-size="10.4" text-anchor="middle" font-weight="bold" font-family="'Liberation Serif', serif" fill="#111" stroke="#111" stroke-width="0.22" >4</text>
<text x="136.00" y="553.04" font-size="10.4" text-anchor="middle" font-weight="bold" font-family="'Liberation Serif', serif" fill="#111" stroke="#111" stroke-width="0.22" >5</text>
<text x="153.30" y="553.04" font-size="10.4" text-anchor="middle" font-weight="bold" font-family="'Liberation Serif', serif" fill="#111" stroke="#111" stroke-width="0.22" >6</text>
<text x="171.00" y="553.04" font-size="10.4" text-anchor="middle" font-weight="bold" font-family="'Liberation Serif', serif" fill="#111" stroke="#111" stroke-width="0.22" >7</text>
<text x="188.80" y="553.04" font-size="10.4" text-anchor="middle" font-weight="bold" font-family="'Liberation Serif', serif" fill="#111" stroke="#111" stroke-width="0.22" >8</text>
<text x="206.50" y="553.04" font-size="10.4" text-anchor="middle" font-weight="bold" font-family="'Liberation Serif', serif" fill="#111" stroke="#111" stroke-width="0.22" >9</text>
<text x="225.00" y="553.04" font-size="10.4" text-anchor="middle" font-weight="bold" font-family="'Liberation Serif', serif" fill="#111" stroke="#111" stroke-width="0.22" >10</text>
<text x="242.30" y="553.04" font-size="10.4" text-anchor="middle" font-weight="bold" font-family="'Liberation Serif', serif" fill="#111" stroke="#111" stroke-width="0.22" >11</text>
<text x="260.30" y="553.04" font-size="10.4" text-anchor="middle" font-weight="bold" font-family="'Liberation Serif', serif" fill="#111" stroke="#111" stroke-width="0.22" >12</text>
<text x="278.30" y="553.04" font-size="10.4" text-anchor="middle" font-weight="bold" font-family="'Liberation Serif', serif" fill="#111" stroke="#111" stroke-width="0.22" >14</text>
<text x="89.30" y="458.40" font-size="10" text-anchor="middle" font-weight="bold" font-family="'Liberation Serif', serif" fill="#111" stroke="#111" stroke-width="0.22" letter-spacing="0.15">Immunization</text>
<text x="47.20" y="468.60" font-size="10" text-anchor="middle" font-weight="bold" font-family="'Liberation Serif', serif" fill="#111" stroke="#111" stroke-width="0.22" >1</text>
<line x1="47.20" y1="471.00" x2="47.20" y2="478.30" stroke="#222" stroke-width="0.8" />
<path d="M45.60,477.80 L48.80,477.80 L47.20,480.80 Z" fill="#222"/>
<text x="64.92" y="468.60" font-size="10" text-anchor="middle" font-weight="bold" font-family="'Liberation Serif', serif" fill="#111" stroke="#111" stroke-width="0.22" >2</text>
<line x1="64.92" y1="471.00" x2="64.92" y2="478.30" stroke="#222" stroke-width="0.8" />
<path d="M63.32,477.80 L66.52,477.80 L64.92,480.80 Z" fill="#222"/>
<text x="82.64" y="468.60" font-size="10" text-anchor="middle" font-weight="bold" font-family="'Liberation Serif', serif" fill="#111" stroke="#111" stroke-width="0.22" >3</text>
<line x1="82.64" y1="471.00" x2="82.64" y2="478.30" stroke="#222" stroke-width="0.8" />
<path d="M81.04,477.80 L84.24,477.80 L82.64,480.80 Z" fill="#222"/>
<text x="100.36" y="468.60" font-size="10" text-anchor="middle" font-weight="bold" font-family="'Liberation Serif', serif" fill="#111" stroke="#111" stroke-width="0.22" >4</text>
<line x1="100.36" y1="471.00" x2="100.36" y2="478.30" stroke="#222" stroke-width="0.8" />
<path d="M98.76,477.80 L101.96,477.80 L100.36,480.80 Z" fill="#222"/>
<text x="118.08" y="468.60" font-size="10" text-anchor="middle" font-weight="bold" font-family="'Liberation Serif', serif" fill="#111" stroke="#111" stroke-width="0.22" >5</text>
<line x1="118.08" y1="471.00" x2="118.08" y2="478.30" stroke="#222" stroke-width="0.8" />
<path d="M116.48,477.80 L119.68,477.80 L118.08,480.80 Z" fill="#222"/>
<text x="135.80" y="468.60" font-size="10" text-anchor="middle" font-weight="bold" font-family="'Liberation Serif', serif" fill="#111" stroke="#111" stroke-width="0.22" >6</text>
<line x1="135.80" y1="471.00" x2="135.80" y2="478.30" stroke="#222" stroke-width="0.8" />
<path d="M134.20,477.80 L137.40,477.80 L135.80,480.80 Z" fill="#222"/>
<polyline points="46.60,537.20 64.50,533.80 82.70,530.00 101.40,528.10 118.30,529.00 136.00,530.40 168.00,515.40 260.30,534.40 278.30,534.80" fill="none" stroke="#151515" stroke-width="1.45"/>
<polyline points="46.60,536.70 64.50,527.70 82.70,518.80 101.40,520.40 118.30,521.90 136.00,530.40 167.70,472.70 260.30,532.30 278.30,529.60" fill="none" stroke="#151515" stroke-width="1.45"/>
<path d="M46.60,533.20 L50.00,537.20 L46.60,541.20 L43.20,537.20 Z" fill="#7d7d7d" stroke="#1a1a1a" stroke-width="0.9"/>
<path d="M64.50,529.80 L67.90,533.80 L64.50,537.80 L61.10,533.80 Z" fill="#7d7d7d" stroke="#1a1a1a" stroke-width="0.9"/>
<path d="M82.70,526.00 L86.10,530.00 L82.70,534.00 L79.30,530.00 Z" fill="#7d7d7d" stroke="#1a1a1a" stroke-width="0.9"/>
<path d="M101.40,524.10 L104.80,528.10 L101.40,532.10 L98.00,528.10 Z" fill="#7d7d7d" stroke="#1a1a1a" stroke-width="0.9"/>
<path d="M118.30,525.00 L121.70,529.00 L118.30,533.00 L114.90,529.00 Z" fill="#7d7d7d" stroke="#1a1a1a" stroke-width="0.9"/>
<path d="M136.00,526.40 L139.40,530.40 L136.00,534.40 L132.60,530.40 Z" fill="#222" stroke="#1a1a1a" stroke-width="0.9"/>
<path d="M168.00,511.40 L171.40,515.40 L168.00,519.40 L164.60,515.40 Z" fill="#7d7d7d" stroke="#1a1a1a" stroke-width="0.9"/>
<path d="M260.30,530.40 L263.70,534.40 L260.30,538.40 L256.90,534.40 Z" fill="#333" stroke="#1a1a1a" stroke-width="0.9"/>
<path d="M278.30,530.80 L281.70,534.80 L278.30,538.80 L274.90,534.80 Z" fill="#7d7d7d" stroke="#1a1a1a" stroke-width="0.9"/>
<circle cx="46.60" cy="536.70" r="3.45" fill="#303030" stroke="#000" stroke-width="1.1"/>
<circle cx="64.50" cy="527.70" r="3.45" fill="#303030" stroke="#000" stroke-width="1.1"/>
<circle cx="82.70" cy="518.80" r="3.45" fill="#303030" stroke="#000" stroke-width="1.1"/>
<circle cx="101.40" cy="520.40" r="3.45" fill="#303030" stroke="#000" stroke-width="1.1"/>
<circle cx="118.30" cy="521.90" r="3.45" fill="#303030" stroke="#000" stroke-width="1.1"/>
<circle cx="136.00" cy="530.40" r="3.45" fill="#303030" stroke="#000" stroke-width="1.1"/>
<circle cx="167.70" cy="472.70" r="3.45" fill="#303030" stroke="#000" stroke-width="1.1"/>
<circle cx="260.30" cy="532.30" r="3.45" fill="#303030" stroke="#000" stroke-width="1.1"/>
<circle cx="278.30" cy="529.60" r="3.45" fill="#303030" stroke="#000" stroke-width="1.1"/>
<path d="M46.60,533.20 L50.00,537.20 L46.60,541.20 L43.20,537.20 Z" fill="#7d7d7d" stroke="#1a1a1a" stroke-width="0.9"/>
<text x="286.30" y="520.57" font-size="10.5" text-anchor="start" font-weight="bold" font-family="'Liberation Serif', serif" fill="#111" stroke="#111" stroke-width="0.22" >CD8</text>
<text x="286.30" y="539.07" font-size="10.5" text-anchor="start" font-weight="bold" font-family="'Liberation Serif', serif" fill="#111" stroke="#111" stroke-width="0.22" >CD4</text>
<text x="0" y="0" transform="translate(10.07,495.50) rotate(-90)" font-size="10.5" text-anchor="middle" font-weight="bold" font-family="'Liberation Serif', serif" fill="#111" stroke="#111" stroke-width="0.22" >Spots/10<tspan font-size="6.5" dy="-4">5</tspan><tspan dy="4"> T cells</tspan></text>
<line x1="355.70" y1="94.20" x2="355.70" y2="148.80" stroke="#333" stroke-width="1" />
<line x1="355.70" y1="148.80" x2="509.50" y2="148.80" stroke="#444" stroke-width="1.3" />
<text x="352.00" y="106.74" font-size="11" text-anchor="end" font-weight="bold" font-family="'Liberation Serif', serif" fill="#111" stroke="#111" stroke-width="0.22" >30</text>
<text x="352.00" y="122.64" font-size="11" text-anchor="end" font-weight="bold" font-family="'Liberation Serif', serif" fill="#111" stroke="#111" stroke-width="0.22" >20</text>
<text x="352.00" y="138.04" font-size="11" text-anchor="end" font-weight="bold" font-family="'Liberation Serif', serif" fill="#111" stroke="#111" stroke-width="0.22" >10</text>
<text x="352.00" y="153.54" font-size="11" text-anchor="end" font-weight="bold" font-family="'Liberation Serif', serif" fill="#111" stroke="#111" stroke-width="0.22" >0</text>
<text x="384.90" y="165.00" font-size="10.3" text-anchor="middle" font-weight="bold" font-family="'Liberation Serif', serif" fill="#111" stroke="#111" stroke-width="0.22" >1</text>
<rect x="380.50" y="141.50" width="8.00" height="7.30" fill="#b0b0b0" stroke="#222" stroke-width="1.1" />
<text x="404.70" y="165.00" font-size="10.3" text-anchor="middle" font-weight="bold" font-family="'Liberation Serif', serif" fill="#111" stroke="#111" stroke-width="0.22" >2</text>
<rect x="400.50" y="120.50" width="8.00" height="28.30" fill="#b0b0b0" stroke="#222" stroke-width="1.1" />
<text x="424.50" y="165.00" font-size="10.3" text-anchor="middle" font-weight="bold" font-family="'Liberation Serif', serif" fill="#111" stroke="#111" stroke-width="0.22" >3</text>
<rect x="420.50" y="122.50" width="8.00" height="26.30" fill="#b0b0b0" stroke="#222" stroke-width="1.1" />
<text x="444.40" y="165.00" font-size="10.3" text-anchor="middle" font-weight="bold" font-family="'Liberation Serif', serif" fill="#111" stroke="#111" stroke-width="0.22" >4</text>
<rect x="440.50" y="100.50" width="8.00" height="48.30" fill="#b0b0b0" stroke="#222" stroke-width="1.1" />
<text x="463.70" y="165.00" font-size="10.3" text-anchor="middle" font-weight="bold" font-family="'Liberation Serif', serif" fill="#111" stroke="#111" stroke-width="0.22" >5</text>
<rect x="459.50" y="127.50" width="8.00" height="21.30" fill="#b0b0b0" stroke="#222" stroke-width="1.1" />
<text x="483.70" y="165.00" font-size="10.3" text-anchor="middle" font-weight="bold" font-family="'Liberation Serif', serif" fill="#111" stroke="#111" stroke-width="0.22" >6</text>
<rect x="479.50" y="119.50" width="8.00" height="29.30" fill="#b0b0b0" stroke="#222" stroke-width="1.1" />
<text x="0" y="0" transform="translate(332.74,115.00) rotate(-90)" font-size="11" text-anchor="middle" font-weight="bold" font-family="'Liberation Serif', serif" fill="#111" stroke="#111" stroke-width="0.22" >DTH Size (mm)</text>
<line x1="355.70" y1="223.00" x2="355.70" y2="279.60" stroke="#333" stroke-width="1" />
<line x1="355.70" y1="279.60" x2="509.50" y2="279.60" stroke="#444" stroke-width="1.3" />
<text x="352.00" y="236.44" font-size="11" text-anchor="end" font-weight="bold" font-family="'Liberation Serif', serif" fill="#111" stroke="#111" stroke-width="0.22" >30</text>
<text x="352.00" y="252.24" font-size="11" text-anchor="end" font-weight="bold" font-family="'Liberation Serif', serif" fill="#111" stroke="#111" stroke-width="0.22" >20</text>
<text x="352.00" y="267.94" font-size="11" text-anchor="end" font-weight="bold" font-family="'Liberation Serif', serif" fill="#111" stroke="#111" stroke-width="0.22" >10</text>
<text x="352.00" y="283.94" font-size="11" text-anchor="end" font-weight="bold" font-family="'Liberation Serif', serif" fill="#111" stroke="#111" stroke-width="0.22" >0</text>
<text x="384.60" y="296.50" font-size="10.3" text-anchor="middle" font-weight="bold" font-family="'Liberation Serif', serif" fill="#111" stroke="#111" stroke-width="0.22" >1</text>
<rect x="380.50" y="277.50" width="8.00" height="2.10" fill="#b0b0b0" stroke="#222" stroke-width="1.1" />
<text x="404.70" y="296.50" font-size="10.3" text-anchor="middle" font-weight="bold" font-family="'Liberation Serif', serif" fill="#111" stroke="#111" stroke-width="0.22" >2</text>
<rect x="400.50" y="269.50" width="8.00" height="10.10" fill="#b0b0b0" stroke="#222" stroke-width="1.1" />
<text x="424.60" y="296.50" font-size="10.3" text-anchor="middle" font-weight="bold" font-family="'Liberation Serif', serif" fill="#111" stroke="#111" stroke-width="0.22" >3</text>
<rect x="420.50" y="271.50" width="8.00" height="8.10" fill="#b0b0b0" stroke="#222" stroke-width="1.1" />
<text x="444.30" y="296.50" font-size="10.3" text-anchor="middle" font-weight="bold" font-family="'Liberation Serif', serif" fill="#111" stroke="#111" stroke-width="0.22" >4</text>
<rect x="440.50" y="273.50" width="8.00" height="6.10" fill="#b0b0b0" stroke="#222" stroke-width="1.1" />
<text x="463.90" y="296.50" font-size="10.3" text-anchor="middle" font-weight="bold" font-family="'Liberation Serif', serif" fill="#111" stroke="#111" stroke-width="0.22" >5</text>
<rect x="460.50" y="247.50" width="8.00" height="32.10" fill="#b0b0b0" stroke="#222" stroke-width="1.1" />
<text x="483.70" y="296.50" font-size="10.3" text-anchor="middle" font-weight="bold" font-family="'Liberation Serif', serif" fill="#111" stroke="#111" stroke-width="0.22" >6</text>
<rect x="479.50" y="231.50" width="8.00" height="48.10" fill="#b0b0b0" stroke="#222" stroke-width="1.1" />
<text x="0" y="0" transform="translate(332.74,245.30) rotate(-90)" font-size="11" text-anchor="middle" font-weight="bold" font-family="'Liberation Serif', serif" fill="#111" stroke="#111" stroke-width="0.22" >DTH Size (mm)</text>
<line x1="355.70" y1="351.90" x2="355.70" y2="406.80" stroke="#333" stroke-width="1" />
<line x1="355.70" y1="406.80" x2="509.50" y2="406.80" stroke="#444" stroke-width="1.3" />
<text x="352.00" y="365.24" font-size="11" text-anchor="end" font-weight="bold" font-family="'Liberation Serif', serif" fill="#111" stroke="#111" stroke-width="0.22" >30</text>
<text x="352.00" y="381.04" font-size="11" text-anchor="end" font-weight="bold" font-family="'Liberation Serif', serif" fill="#111" stroke="#111" stroke-width="0.22" >20</text>
<text x="352.00" y="396.44" font-size="11" text-anchor="end" font-weight="bold" font-family="'Liberation Serif', serif" fill="#111" stroke="#111" stroke-width="0.22" >10</text>
<text x="352.00" y="412.24" font-size="11" text-anchor="end" font-weight="bold" font-family="'Liberation Serif', serif" fill="#111" stroke="#111" stroke-width="0.22" >0</text>
<text x="385.40" y="424.00" font-size="10.3" text-anchor="middle" font-weight="bold" font-family="'Liberation Serif', serif" fill="#111" stroke="#111" stroke-width="0.22" >1</text>
<rect x="381.50" y="387.50" width="8.00" height="19.30" fill="#b0b0b0" stroke="#222" stroke-width="1.1" />
<text x="404.10" y="424.00" font-size="10.3" text-anchor="middle" font-weight="bold" font-family="'Liberation Serif', serif" fill="#111" stroke="#111" stroke-width="0.22" >2</text>
<rect x="400.50" y="383.50" width="8.00" height="23.30" fill="#b0b0b0" stroke="#222" stroke-width="1.1" />
<text x="424.20" y="424.00" font-size="10.3" text-anchor="middle" font-weight="bold" font-family="'Liberation Serif', serif" fill="#111" stroke="#111" stroke-width="0.22" >3</text>
<rect x="420.50" y="383.50" width="8.00" height="23.30" fill="#b0b0b0" stroke="#222" stroke-width="1.1" />
<text x="443.70" y="424.00" font-size="10.3" text-anchor="middle" font-weight="bold" font-family="'Liberation Serif', serif" fill="#111" stroke="#111" stroke-width="0.22" >4</text>
<rect x="439.50" y="374.50" width="8.00" height="32.30" fill="#b0b0b0" stroke="#222" stroke-width="1.1" />
<text x="463.30" y="424.00" font-size="10.3" text-anchor="middle" font-weight="bold" font-family="'Liberation Serif', serif" fill="#111" stroke="#111" stroke-width="0.22" >5</text>
<rect x="459.50" y="374.50" width="8.00" height="32.30" fill="#b0b0b0" stroke="#222" stroke-width="1.1" />
<text x="483.20" y="424.00" font-size="10.3" text-anchor="middle" font-weight="bold" font-family="'Liberation Serif', serif" fill="#111" stroke="#111" stroke-width="0.22" >6</text>
<rect x="479.50" y="388.50" width="8.00" height="18.30" fill="#b0b0b0" stroke="#222" stroke-width="1.1" />
<text x="0" y="0" transform="translate(332.74,372.00) rotate(-90)" font-size="11" text-anchor="middle" font-weight="bold" font-family="'Liberation Serif', serif" fill="#111" stroke="#111" stroke-width="0.22" >DTH Size (mm)</text>
<line x1="355.70" y1="481.30" x2="355.70" y2="537.40" stroke="#333" stroke-width="1" />
<line x1="355.70" y1="537.40" x2="509.50" y2="537.40" stroke="#444" stroke-width="1.3" />
<text x="352.00" y="495.24" font-size="11" text-anchor="end" font-weight="bold" font-family="'Liberation Serif', serif" fill="#111" stroke="#111" stroke-width="0.22" >30</text>
<text x="352.00" y="511.04" font-size="11" text-anchor="end" font-weight="bold" font-family="'Liberation Serif', serif" fill="#111" stroke="#111" stroke-width="0.22" >20</text>
<text x="352.00" y="526.44" font-size="11" text-anchor="end" font-weight="bold" font-family="'Liberation Serif', serif" fill="#111" stroke="#111" stroke-width="0.22" >10</text>
<text x="352.00" y="542.74" font-size="11" text-anchor="end" font-weight="bold" font-family="'Liberation Serif', serif" fill="#111" stroke="#111" stroke-width="0.22" >0</text>
<text x="384.70" y="555.00" font-size="10.3" text-anchor="middle" font-weight="bold" font-family="'Liberation Serif', serif" fill="#111" stroke="#111" stroke-width="0.22" >1</text>
<rect x="380.50" y="535.50" width="8.00" height="1.90" fill="#b0b0b0" stroke="#222" stroke-width="1.1" />
<text x="404.00" y="555.00" font-size="10.3" text-anchor="middle" font-weight="bold" font-family="'Liberation Serif', serif" fill="#111" stroke="#111" stroke-width="0.22" >2</text>
<rect x="400.50" y="511.50" width="8.00" height="25.90" fill="#b0b0b0" stroke="#222" stroke-width="1.1" />
<text x="424.20" y="555.00" font-size="10.3" text-anchor="middle" font-weight="bold" font-family="'Liberation Serif', serif" fill="#111" stroke="#111" stroke-width="0.22" >3</text>
<rect x="420.50" y="512.50" width="8.00" height="24.90" fill="#b0b0b0" stroke="#222" stroke-width="1.1" />
<text x="443.70" y="555.00" font-size="10.3" text-anchor="middle" font-weight="bold" font-family="'Liberation Serif', serif" fill="#111" stroke="#111" stroke-width="0.22" >4</text>
<rect x="439.50" y="512.50" width="8.00" height="24.90" fill="#b0b0b0" stroke="#222" stroke-width="1.1" />
<text x="463.70" y="555.00" font-size="10.3" text-anchor="middle" font-weight="bold" font-family="'Liberation Serif', serif" fill="#111" stroke="#111" stroke-width="0.22" >5</text>
<rect x="461.50" y="459.50" width="8.00" height="77.90" fill="#8c8c8c" stroke="#222" stroke-width="1.1" />
<text x="483.20" y="555.00" font-size="10.3" text-anchor="middle" font-weight="bold" font-family="'Liberation Serif', serif" fill="#111" stroke="#111" stroke-width="0.22" >6</text>
<rect x="479.50" y="483.50" width="8.00" height="53.90" fill="#b0b0b0" stroke="#222" stroke-width="1.1" />
<text x="0" y="0" transform="translate(332.74,503.50) rotate(-90)" font-size="11" text-anchor="middle" font-weight="bold" font-family="'Liberation Serif', serif" fill="#111" stroke="#111" stroke-width="0.22" >DTH Size (mm)</text>
<path d="M459.5,484.0 L471.5,470.1 L471.5,474.7 L459.5,488.6 Z" fill="#fff"/>
<path d="M461,482.3 L469.8,472.1 M461,486.9 L469.8,476.7" stroke="#1a1a1a" stroke-width="0.9"/>
<text x="146.50" y="570.42" font-size="13" text-anchor="middle" font-weight="bold" font-family="'Liberation Serif', serif" fill="#111" stroke="#111" stroke-width="0.22" >Study Week</text>
<text x="433.50" y="571.42" font-size="13" text-anchor="middle" font-weight="bold" font-family="'Liberation Serif', serif" fill="#111" stroke="#111" stroke-width="0.22" >Study Week</text>
<text x="14.50" y="589.76" font-size="32" text-anchor="start" font-weight="bold" font-family="'Liberation Serif', serif" fill="#111" stroke="#111" stroke-width="0.22" >B</text>
<text x="14.50" y="725.72" font-size="34" text-anchor="start" font-weight="bold" font-family="'Liberation Serif', serif" fill="#111" stroke="#111" stroke-width="0.22" >C</text>
<rect x="44.20" y="612.50" width="52.40" height="48.10" fill="none" stroke="#333" stroke-width="0.9" />
<line x1="43.70" y1="660.60" x2="96.60" y2="660.60" stroke="#111" stroke-width="1.9" />
<line x1="44.20" y1="612.50" x2="44.20" y2="660.60" stroke="#111" stroke-width="1.7" />
<text x="41.60" y="614.47" font-size="5.8" text-anchor="end" font-weight="bold" font-family="'Liberation Serif', serif" fill="#333" stroke="#333" stroke-width="0.22" >40</text>
<line x1="42.40" y1="612.50" x2="44.20" y2="612.50" stroke="#222" stroke-width="0.9" />
<text x="41.60" y="626.47" font-size="5.8" text-anchor="end" font-weight="bold" font-family="'Liberation Serif', serif" fill="#333" stroke="#333" stroke-width="0.22" >30</text>
<line x1="42.40" y1="624.50" x2="44.20" y2="624.50" stroke="#222" stroke-width="0.9" />
<text x="41.60" y="638.97" font-size="5.8" text-anchor="end" font-weight="bold" font-family="'Liberation Serif', serif" fill="#333" stroke="#333" stroke-width="0.22" >20</text>
<line x1="42.40" y1="637.00" x2="44.20" y2="637.00" stroke="#222" stroke-width="0.9" />
<text x="41.60" y="650.77" font-size="5.8" text-anchor="end" font-weight="bold" font-family="'Liberation Serif', serif" fill="#333" stroke="#333" stroke-width="0.22" >10</text>
<line x1="42.40" y1="648.80" x2="44.20" y2="648.80" stroke="#222" stroke-width="0.9" />
<text x="41.60" y="662.77" font-size="5.8" text-anchor="end" font-weight="bold" font-family="'Liberation Serif', serif" fill="#333" stroke="#333" stroke-width="0.22" >0</text>
<line x1="42.40" y1="660.80" x2="44.20" y2="660.80" stroke="#222" stroke-width="0.9" />
<text x="44.70" y="670.84" font-size="6.3" text-anchor="middle" font-weight="bold" font-family="'Liberation Serif', serif" fill="#222" stroke="#222" stroke-width="0.15">10<tspan font-size="4.41" dy="-2.52">0</tspan></text>
<text x="57.50" y="670.84" font-size="6.3" text-anchor="middle" font-weight="bold" font-family="'Liberation Serif', serif" fill="#222" stroke="#222" stroke-width="0.15">10<tspan font-size="4.41" dy="-2.52">1</tspan></text>
<text x="70.30" y="670.84" font-size="6.3" text-anchor="middle" font-weight="bold" font-family="'Liberation Serif', serif" fill="#222" stroke="#222" stroke-width="0.15">10<tspan font-size="4.41" dy="-2.52">2</tspan></text>
<text x="83.10" y="670.84" font-size="6.3" text-anchor="middle" font-weight="bold" font-family="'Liberation Serif', serif" fill="#222" stroke="#222" stroke-width="0.15">10<tspan font-size="4.41" dy="-2.52">3</tspan></text>
<text x="95.90" y="670.84" font-size="6.3" text-anchor="middle" font-weight="bold" font-family="'Liberation Serif', serif" fill="#222" stroke="#222" stroke-width="0.15">10<tspan font-size="4.41" dy="-2.52">4</tspan></text>
<line x1="47.48" y1="658.80" x2="47.48" y2="660.60" stroke="#222" stroke-width="0.6" />
<line x1="50.75" y1="658.80" x2="50.75" y2="660.60" stroke="#222" stroke-width="0.6" />
<line x1="54.03" y1="658.80" x2="54.03" y2="660.60" stroke="#222" stroke-width="0.6" />
<line x1="57.30" y1="658.80" x2="57.30" y2="660.60" stroke="#222" stroke-width="0.6" />
<line x1="60.58" y1="658.80" x2="60.58" y2="660.60" stroke="#222" stroke-width="0.6" />
<line x1="63.85" y1="658.80" x2="63.85" y2="660.60" stroke="#222" stroke-width="0.6" />
<line x1="67.12" y1="658.80" x2="67.12" y2="660.60" stroke="#222" stroke-width="0.6" />
<line x1="70.40" y1="658.80" x2="70.40" y2="660.60" stroke="#222" stroke-width="0.6" />
<line x1="73.67" y1="658.80" x2="73.67" y2="660.60" stroke="#222" stroke-width="0.6" />
<line x1="76.95" y1="658.80" x2="76.95" y2="660.60" stroke="#222" stroke-width="0.6" />
<line x1="80.22" y1="658.80" x2="80.22" y2="660.60" stroke="#222" stroke-width="0.6" />
<line x1="83.50" y1="658.80" x2="83.50" y2="660.60" stroke="#222" stroke-width="0.6" />
<line x1="86.78" y1="658.80" x2="86.78" y2="660.60" stroke="#222" stroke-width="0.6" />
<line x1="90.05" y1="658.80" x2="90.05" y2="660.60" stroke="#222" stroke-width="0.6" />
<line x1="93.32" y1="658.80" x2="93.32" y2="660.60" stroke="#222" stroke-width="0.6" />
<rect x="60.3" y="616.6" width="35.6" height="13.6" rx="1.6" fill="none" stroke="#444" stroke-width="1"/>
<rect x="61.5" y="617.8" width="33.2" height="11.2" rx="1" fill="none" stroke="#aaa" stroke-width="0.7"/>
<text x="88.00" y="627.32" font-size="8.0" text-anchor="middle" font-weight="bold" font-family="'Liberation Serif', serif" fill="#222" stroke="#222" stroke-width="0.1" >R2</text>
<rect x="50.84" y="626.23" width="1.2" height="1.2" fill="#1e1e1e"/>
<rect x="47.15" y="625.68" width="1.2" height="1.2" fill="#1e1e1e"/>
<rect x="49.57" y="623.05" width="1.2" height="1.2" fill="#1e1e1e"/>
<rect x="57.34" y="623.93" width="1.2" height="1.2" fill="#1e1e1e"/>
<rect x="50.35" y="625.13" width="1.2" height="1.2" fill="#1e1e1e"/>
<rect x="54.56" y="623.54" width="1.2" height="1.2" fill="#1e1e1e"/>
<rect x="52.62" y="621.56" width="1.2" height="1.2" fill="#1e1e1e"/>
<rect x="49.18" y="622.68" width="1.2" height="1.2" fill="#1e1e1e"/>
<rect x="45.70" y="620.43" width="1.2" height="1.2" fill="#1e1e1e"/>
<rect x="49.88" y="622.93" width="1.2" height="1.2" fill="#1e1e1e"/>
<rect x="50.75" y="620.80" width="1.2" height="1.2" fill="#1e1e1e"/>
<rect x="50.21" y="624.10" width="1.2" height="1.2" fill="#1e1e1e"/>
<rect x="53.20" y="621.82" width="1.2" height="1.2" fill="#1e1e1e"/>
<rect x="49.06" y="619.37" width="1.2" height="1.2" fill="#1e1e1e"/>
<rect x="48.69" y="618.99" width="1.2" height="1.2" fill="#1e1e1e"/>
<rect x="45.39" y="625.91" width="1.2" height="1.2" fill="#1e1e1e"/>
<rect x="51.68" y="622.94" width="1.2" height="1.2" fill="#1e1e1e"/>
<rect x="52.15" y="624.71" width="1.2" height="1.2" fill="#1e1e1e"/>
<rect x="54.26" y="623.12" width="1.2" height="1.2" fill="#1e1e1e"/>
<rect x="48.37" y="622.33" width="1.2" height="1.2" fill="#1e1e1e"/>
<rect x="46.95" y="623.51" width="1.2" height="1.2" fill="#1e1e1e"/>
<rect x="47.67" y="625.84" width="1.2" height="1.2" fill="#1e1e1e"/>
<rect x="47.07" y="619.20" width="1.2" height="1.2" fill="#1e1e1e"/>
<rect x="57.35" y="618.54" width="1.2" height="1.2" fill="#1e1e1e"/>
<rect x="49.48" y="622.50" width="1.2" height="1.2" fill="#1e1e1e"/>
<rect x="56.46" y="619.43" width="1.2" height="1.2" fill="#1e1e1e"/>
<rect x="54.36" y="622.06" width="1.2" height="1.2" fill="#1e1e1e"/>
<rect x="49.94" y="622.19" width="1.2" height="1.2" fill="#1e1e1e"/>
<rect x="52.81" y="621.21" width="1.2" height="1.2" fill="#1e1e1e"/>
<rect x="50.22" y="624.34" width="1.2" height="1.2" fill="#1e1e1e"/>
<rect x="57.12" y="618.55" width="1.2" height="1.2" fill="#1e1e1e"/>
<rect x="55.99" y="625.59" width="1.2" height="1.2" fill="#1e1e1e"/>
<rect x="48.76" y="624.24" width="1.2" height="1.2" fill="#1e1e1e"/>
<rect x="48.82" y="627.06" width="1.2" height="1.2" fill="#1e1e1e"/>
<rect x="51.25" y="623.15" width="1.2" height="1.2" fill="#1e1e1e"/>
<rect x="49.68" y="623.18" width="1.2" height="1.2" fill="#1e1e1e"/>
<rect x="49.86" y="621.75" width="1.2" height="1.2" fill="#1e1e1e"/>
<rect x="57.91" y="619.59" width="1.2" height="1.2" fill="#1e1e1e"/>
<rect x="49.97" y="624.38" width="1.2" height="1.2" fill="#1e1e1e"/>
<rect x="49.76" y="623.29" width="1.2" height="1.2" fill="#1e1e1e"/>
<rect x="51.70" y="625.63" width="1.2" height="1.2" fill="#1e1e1e"/>
<rect x="48.89" y="622.82" width="1.2" height="1.2" fill="#1e1e1e"/>
<rect x="57.49" y="624.71" width="1.2" height="1.2" fill="#1e1e1e"/>
<rect x="46.95" y="628.48" width="1.2" height="1.2" fill="#1e1e1e"/>
<rect x="53.29" y="622.36" width="1.2" height="1.2" fill="#1e1e1e"/>
<rect x="46.27" y="624.23" width="1.2" height="1.2" fill="#1e1e1e"/>
<rect x="47.50" y="621.38" width="1.2" height="1.2" fill="#1e1e1e"/>
<rect x="45.83" y="622.54" width="1.2" height="1.2" fill="#1e1e1e"/>
<rect x="54.49" y="622.69" width="1.2" height="1.2" fill="#1e1e1e"/>
<rect x="45.28" y="625.00" width="1.2" height="1.2" fill="#1e1e1e"/>
<rect x="50.74" y="625.37" width="1.2" height="1.2" fill="#1e1e1e"/>
<rect x="54.83" y="623.25" width="1.2" height="1.2" fill="#1e1e1e"/>
<rect x="49.98" y="623.50" width="1.2" height="1.2" fill="#1e1e1e"/>
<rect x="46.42" y="625.00" width="1.2" height="1.2" fill="#1e1e1e"/>
<rect x="55.44" y="623.97" width="1.2" height="1.2" fill="#1e1e1e"/>
<rect x="49.65" y="623.05" width="1.2" height="1.2" fill="#1e1e1e"/>
<rect x="47.69" y="621.91" width="1.2" height="1.2" fill="#1e1e1e"/>
<rect x="49.06" y="621.83" width="1.2" height="1.2" fill="#1e1e1e"/>
<rect x="48.93" y="620.29" width="1.2" height="1.2" fill="#1e1e1e"/>
<rect x="51.76" y="623.70" width="1.2" height="1.2" fill="#1e1e1e"/>
<rect x="46.35" y="618.77" width="1.2" height="1.2" fill="#1e1e1e"/>
<rect x="50.47" y="625.92" width="1.2" height="1.2" fill="#1e1e1e"/>
<rect x="47.86" y="622.59" width="1.2" height="1.2" fill="#1e1e1e"/>
<rect x="48.45" y="624.97" width="1.2" height="1.2" fill="#1e1e1e"/>
<rect x="47.20" y="625.67" width="1.2" height="1.2" fill="#1e1e1e"/>
<rect x="49.41" y="625.54" width="1.2" height="1.2" fill="#1e1e1e"/>
<rect x="50.62" y="623.11" width="1.2" height="1.2" fill="#1e1e1e"/>
<rect x="45.18" y="622.16" width="1.2" height="1.2" fill="#1e1e1e"/>
<rect x="49.56" y="624.99" width="1.2" height="1.2" fill="#1e1e1e"/>
<rect x="51.38" y="622.14" width="1.2" height="1.2" fill="#1e1e1e"/>
<rect x="51.98" y="625.67" width="1.2" height="1.2" fill="#1e1e1e"/>
<rect x="49.97" y="622.68" width="1.2" height="1.2" fill="#1e1e1e"/>
<rect x="49.08" y="625.30" width="1.2" height="1.2" fill="#1e1e1e"/>
<rect x="52.44" y="621.65" width="1.2" height="1.2" fill="#1e1e1e"/>
<rect x="51.85" y="622.59" width="1.2" height="1.2" fill="#1e1e1e"/>
<rect x="47.80" y="626.20" width="1.2" height="1.2" fill="#1e1e1e"/>
<rect x="53.46" y="622.08" width="1.2" height="1.2" fill="#1e1e1e"/>
<rect x="50.79" y="624.65" width="1.2" height="1.2" fill="#1e1e1e"/>
<rect x="48.20" y="623.35" width="1.2" height="1.2" fill="#1e1e1e"/>
<rect x="52.90" y="619.84" width="1.2" height="1.2" fill="#1e1e1e"/>
<rect x="51.68" y="625.15" width="1.2" height="1.2" fill="#1e1e1e"/>
<rect x="52.32" y="620.78" width="1.2" height="1.2" fill="#1e1e1e"/>
<rect x="51.65" y="621.79" width="1.2" height="1.2" fill="#1e1e1e"/>
<rect x="52.55" y="624.87" width="1.2" height="1.2" fill="#1e1e1e"/>
<rect x="51.28" y="621.99" width="1.2" height="1.2" fill="#1e1e1e"/>
<rect x="48.37" y="625.39" width="1.2" height="1.2" fill="#1e1e1e"/>
<rect x="47.26" y="624.64" width="1.2" height="1.2" fill="#1e1e1e"/>
<rect x="52.34" y="623.01" width="1.2" height="1.2" fill="#1e1e1e"/>
<rect x="59.12" y="623.75" width="1.2" height="1.2" fill="#1e1e1e"/>
<rect x="58.23" y="619.37" width="1.2" height="1.2" fill="#1e1e1e"/>
<rect x="52.79" y="622.94" width="1.2" height="1.2" fill="#1e1e1e"/>
<rect x="50.31" y="619.60" width="1.2" height="1.2" fill="#1e1e1e"/>
<rect x="48.24" y="621.43" width="1.2" height="1.2" fill="#1e1e1e"/>
<rect x="49.70" y="625.46" width="1.2" height="1.2" fill="#1e1e1e"/>
<rect x="50.69" y="624.38" width="1.2" height="1.2" fill="#1e1e1e"/>
<rect x="47.99" y="622.69" width="1.2" height="1.2" fill="#1e1e1e"/>
<rect x="50.90" y="623.01" width="1.2" height="1.2" fill="#1e1e1e"/>
<rect x="55.05" y="621.76" width="1.2" height="1.2" fill="#1e1e1e"/>
<rect x="57.31" y="621.54" width="1.2" height="1.2" fill="#1e1e1e"/>
<rect x="54.31" y="621.98" width="1.2" height="1.2" fill="#1e1e1e"/>
<rect x="56.43" y="623.89" width="1.2" height="1.2" fill="#1e1e1e"/>
<rect x="51.93" y="625.16" width="1.2" height="1.2" fill="#1e1e1e"/>
<rect x="48.21" y="621.41" width="1.2" height="1.2" fill="#1e1e1e"/>
<rect x="47.99" y="622.36" width="1.2" height="1.2" fill="#1e1e1e"/>
<rect x="50.39" y="627.78" width="1.2" height="1.2" fill="#1e1e1e"/>
<rect x="49.07" y="624.72" width="1.2" height="1.2" fill="#1e1e1e"/>
<rect x="53.53" y="626.87" width="1.2" height="1.2" fill="#1e1e1e"/>
<rect x="56.25" y="621.80" width="1.2" height="1.2" fill="#1e1e1e"/>
<rect x="50.70" y="623.37" width="1.2" height="1.2" fill="#1e1e1e"/>
<rect x="45.54" y="620.58" width="1.2" height="1.2" fill="#1e1e1e"/>
<rect x="53.22" y="624.12" width="1.2" height="1.2" fill="#1e1e1e"/>
<rect x="49.99" y="626.15" width="1.2" height="1.2" fill="#1e1e1e"/>
<rect x="46.89" y="624.71" width="1.2" height="1.2" fill="#1e1e1e"/>
<rect x="50.54" y="623.48" width="1.2" height="1.2" fill="#1e1e1e"/>
<rect x="52.27" y="623.97" width="1.2" height="1.2" fill="#1e1e1e"/>
<rect x="51.46" y="624.16" width="1.2" height="1.2" fill="#1e1e1e"/>
<rect x="57.48" y="622.95" width="1.2" height="1.2" fill="#1e1e1e"/>
<rect x="54.14" y="624.88" width="1.2" height="1.2" fill="#1e1e1e"/>
<rect x="49.24" y="625.27" width="1.2" height="1.2" fill="#1e1e1e"/>
<rect x="47.41" y="626.04" width="1.2" height="1.2" fill="#1e1e1e"/>
<rect x="47.59" y="622.57" width="1.2" height="1.2" fill="#1e1e1e"/>
<rect x="51.66" y="625.35" width="1.2" height="1.2" fill="#1e1e1e"/>
<rect x="53.77" y="625.48" width="1.2" height="1.2" fill="#1e1e1e"/>
<rect x="49.75" y="621.59" width="1.2" height="1.2" fill="#1e1e1e"/>
<rect x="52.48" y="624.23" width="1.2" height="1.2" fill="#1e1e1e"/>
<rect x="47.07" y="625.64" width="1.2" height="1.2" fill="#1e1e1e"/>
<rect x="51.22" y="621.59" width="1.2" height="1.2" fill="#1e1e1e"/>
<rect x="52.09" y="620.82" width="1.2" height="1.2" fill="#1e1e1e"/>
<rect x="47.34" y="624.44" width="1.2" height="1.2" fill="#1e1e1e"/>
<rect x="45.64" y="625.15" width="1.2" height="1.2" fill="#1e1e1e"/>
<rect x="47.88" y="623.98" width="1.2" height="1.2" fill="#1e1e1e"/>
<rect x="53.91" y="624.56" width="1.2" height="1.2" fill="#1e1e1e"/>
<rect x="53.71" y="622.81" width="1.2" height="1.2" fill="#1e1e1e"/>
<rect x="55.60" y="621.38" width="1.2" height="1.2" fill="#1e1e1e"/>
<rect x="50.19" y="625.94" width="1.2" height="1.2" fill="#1e1e1e"/>
<rect x="55.22" y="626.29" width="1.2" height="1.2" fill="#1e1e1e"/>
<rect x="46.56" y="619.86" width="1.2" height="1.2" fill="#1e1e1e"/>
<rect x="51.91" y="620.59" width="1.2" height="1.2" fill="#1e1e1e"/>
<rect x="50.03" y="620.91" width="1.2" height="1.2" fill="#1e1e1e"/>
<rect x="54.32" y="625.29" width="1.2" height="1.2" fill="#1e1e1e"/>
<rect x="52.50" y="623.64" width="1.2" height="1.2" fill="#1e1e1e"/>
<rect x="50.66" y="622.98" width="1.2" height="1.2" fill="#1e1e1e"/>
<rect x="51.88" y="624.12" width="1.2" height="1.2" fill="#1e1e1e"/>
<rect x="52.15" y="622.70" width="1.2" height="1.2" fill="#1e1e1e"/>
<rect x="57.34" y="624.19" width="1.2" height="1.2" fill="#1e1e1e"/>
<rect x="55.52" y="626.39" width="1.2" height="1.2" fill="#1e1e1e"/>
<rect x="47.34" y="620.06" width="1.2" height="1.2" fill="#1e1e1e"/>
<rect x="55.03" y="622.79" width="1.2" height="1.2" fill="#1e1e1e"/>
<rect x="50.80" y="623.06" width="1.2" height="1.2" fill="#1e1e1e"/>
<rect x="50.97" y="621.10" width="1.2" height="1.2" fill="#1e1e1e"/>
<rect x="50.13" y="622.63" width="1.2" height="1.2" fill="#1e1e1e"/>
<rect x="50.45" y="618.70" width="1.2" height="1.2" fill="#1e1e1e"/>
<rect x="53.45" y="624.30" width="1.2" height="1.2" fill="#1e1e1e"/>
<rect x="50.61" y="624.92" width="1.2" height="1.2" fill="#1e1e1e"/>
<rect x="50.50" y="626.51" width="1.2" height="1.2" fill="#1e1e1e"/>
<rect x="50.58" y="621.50" width="1.2" height="1.2" fill="#1e1e1e"/>
<rect x="48.06" y="625.16" width="1.2" height="1.2" fill="#1e1e1e"/>
<rect x="48.29" y="625.37" width="1.2" height="1.2" fill="#1e1e1e"/>
<rect x="54.17" y="624.84" width="1.2" height="1.2" fill="#1e1e1e"/>
<rect x="54.16" y="623.23" width="1.2" height="1.2" fill="#1e1e1e"/>
<rect x="50.47" y="622.36" width="1.2" height="1.2" fill="#1e1e1e"/>
<rect x="48.30" y="620.31" width="1.2" height="1.2" fill="#1e1e1e"/>
<rect x="48.50" y="621.35" width="1.2" height="1.2" fill="#1e1e1e"/>
<rect x="45.36" y="623.91" width="1.2" height="1.2" fill="#1e1e1e"/>
<rect x="52.14" y="622.88" width="1.2" height="1.2" fill="#1e1e1e"/>
<rect x="55.43" y="625.58" width="1.2" height="1.2" fill="#1e1e1e"/>
<rect x="54.26" y="622.33" width="1.2" height="1.2" fill="#1e1e1e"/>
<rect x="45.13" y="624.77" width="1.2" height="1.2" fill="#1e1e1e"/>
<rect x="51.61" y="625.12" width="1.2" height="1.2" fill="#1e1e1e"/>
<rect x="52.00" y="626.25" width="1.2" height="1.2" fill="#1e1e1e"/>
<rect x="49.46" y="625.00" width="1.2" height="1.2" fill="#1e1e1e"/>
<rect x="47.28" y="618.75" width="1.2" height="1.2" fill="#1e1e1e"/>
<rect x="48.90" y="626.75" width="1.2" height="1.2" fill="#1e1e1e"/>
<rect x="48.05" y="622.76" width="1.2" height="1.2" fill="#1e1e1e"/>
<rect x="50.66" y="624.04" width="1.2" height="1.2" fill="#1e1e1e"/>
<rect x="46.99" y="623.87" width="1.2" height="1.2" fill="#1e1e1e"/>
<rect x="52.10" y="625.35" width="1.2" height="1.2" fill="#1e1e1e"/>
<rect x="47.78" y="626.86" width="1.2" height="1.2" fill="#1e1e1e"/>
<rect x="57.37" y="628.67" width="1.2" height="1.2" fill="#1e1e1e"/>
<rect x="45.67" y="623.96" width="1.2" height="1.2" fill="#1e1e1e"/>
<rect x="52.50" y="621.19" width="1.2" height="1.2" fill="#1e1e1e"/>
<rect x="52.76" y="621.94" width="1.2" height="1.2" fill="#1e1e1e"/>
<rect x="49.56" y="618.29" width="1.2" height="1.2" fill="#1e1e1e"/>
<rect x="47.95" y="623.91" width="1.2" height="1.2" fill="#1e1e1e"/>
<rect x="51.05" y="626.92" width="1.2" height="1.2" fill="#1e1e1e"/>
<rect x="46.39" y="618.87" width="1.2" height="1.2" fill="#1e1e1e"/>
<rect x="52.13" y="622.36" width="1.2" height="1.2" fill="#1e1e1e"/>
<rect x="51.53" y="625.11" width="1.2" height="1.2" fill="#1e1e1e"/>
<rect x="52.66" y="626.63" width="1.2" height="1.2" fill="#1e1e1e"/>
<rect x="55.37" y="620.10" width="1.2" height="1.2" fill="#1e1e1e"/>
<rect x="50.27" y="627.80" width="1.2" height="1.2" fill="#1e1e1e"/>
<rect x="49.03" y="625.63" width="1.2" height="1.2" fill="#1e1e1e"/>
<rect x="50.30" y="622.72" width="1.2" height="1.2" fill="#1e1e1e"/>
<rect x="56.20" y="625.79" width="1.2" height="1.2" fill="#1e1e1e"/>
<rect x="49.62" y="625.50" width="1.2" height="1.2" fill="#1e1e1e"/>
<rect x="45.77" y="622.08" width="1.2" height="1.2" fill="#1e1e1e"/>
<rect x="53.75" y="623.68" width="1.2" height="1.2" fill="#1e1e1e"/>
<rect x="46.68" y="624.54" width="1.2" height="1.2" fill="#1e1e1e"/>
<rect x="51.68" y="626.30" width="1.2" height="1.2" fill="#1e1e1e"/>
<rect x="53.94" y="623.02" width="1.2" height="1.2" fill="#1e1e1e"/>
<rect x="48.76" y="623.31" width="1.2" height="1.2" fill="#1e1e1e"/>
<rect x="49.67" y="626.67" width="1.2" height="1.2" fill="#1e1e1e"/>
<rect x="56.22" y="626.45" width="1.2" height="1.2" fill="#1e1e1e"/>
<rect x="51.87" y="623.09" width="1.2" height="1.2" fill="#1e1e1e"/>
<rect x="53.75" y="622.87" width="1.2" height="1.2" fill="#1e1e1e"/>
<rect x="51.35" y="620.10" width="1.2" height="1.2" fill="#1e1e1e"/>
<rect x="48.97" y="626.62" width="1.2" height="1.2" fill="#1e1e1e"/>
<rect x="46.80" y="620.47" width="1.2" height="1.2" fill="#1e1e1e"/>
<rect x="49.91" y="627.10" width="1.2" height="1.2" fill="#1e1e1e"/>
<rect x="55.72" y="622.84" width="1.2" height="1.2" fill="#1e1e1e"/>
<rect x="48.78" y="623.37" width="1.2" height="1.2" fill="#1e1e1e"/>
<rect x="47.15" y="623.68" width="1.2" height="1.2" fill="#1e1e1e"/>
<rect x="49.42" y="620.50" width="1.2" height="1.2" fill="#1e1e1e"/>
<rect x="48.41" y="623.06" width="1.2" height="1.2" fill="#1e1e1e"/>
<rect x="47.40" y="621.25" width="1.2" height="1.2" fill="#1e1e1e"/>
<rect x="53.76" y="627.58" width="1.2" height="1.2" fill="#1e1e1e"/>
<rect x="49.47" y="622.71" width="1.2" height="1.2" fill="#1e1e1e"/>
<rect x="52.31" y="623.12" width="1.2" height="1.2" fill="#1e1e1e"/>
<rect x="47.68" y="626.52" width="1.2" height="1.2" fill="#1e1e1e"/>
<rect x="46.75" y="622.06" width="1.2" height="1.2" fill="#1e1e1e"/>
<rect x="48.11" y="621.74" width="1.2" height="1.2" fill="#1e1e1e"/>
<rect x="49.64" y="624.81" width="1.2" height="1.2" fill="#1e1e1e"/>
<rect x="55.69" y="624.99" width="1.2" height="1.2" fill="#1e1e1e"/>
<rect x="50.63" y="620.97" width="1.2" height="1.2" fill="#1e1e1e"/>
<rect x="50.28" y="621.62" width="1.2" height="1.2" fill="#1e1e1e"/>
<rect x="50.15" y="625.65" width="1.2" height="1.2" fill="#1e1e1e"/>
<rect x="51.24" y="623.16" width="1.2" height="1.2" fill="#1e1e1e"/>
<rect x="47.79" y="623.55" width="1.2" height="1.2" fill="#1e1e1e"/>
<rect x="50.90" y="621.65" width="1.2" height="1.2" fill="#1e1e1e"/>
<rect x="48.68" y="625.45" width="1.2" height="1.2" fill="#1e1e1e"/>
<rect x="46.30" y="626.85" width="1.2" height="1.2" fill="#1e1e1e"/>
<rect x="52.68" y="624.68" width="1.2" height="1.2" fill="#1e1e1e"/>
<rect x="51.93" y="624.20" width="1.2" height="1.2" fill="#1e1e1e"/>
<rect x="51.55" y="620.27" width="1.2" height="1.2" fill="#1e1e1e"/>
<rect x="51.43" y="624.85" width="1.2" height="1.2" fill="#1e1e1e"/>
<rect x="45.36" y="625.33" width="1.2" height="1.2" fill="#1e1e1e"/>
<rect x="52.90" y="620.40" width="1.2" height="1.2" fill="#1e1e1e"/>
<rect x="48.80" y="622.95" width="1.2" height="1.2" fill="#1e1e1e"/>
<rect x="48.60" y="624.42" width="1.2" height="1.2" fill="#1e1e1e"/>
<rect x="45.90" y="623.13" width="1.2" height="1.2" fill="#1e1e1e"/>
<rect x="51.31" y="625.12" width="1.2" height="1.2" fill="#1e1e1e"/>
<rect x="50.68" y="623.09" width="1.2" height="1.2" fill="#1e1e1e"/>
<rect x="52.99" y="619.42" width="1.2" height="1.2" fill="#1e1e1e"/>
<rect x="53.86" y="622.95" width="1.2" height="1.2" fill="#1e1e1e"/>
<rect x="46.00" y="622.70" width="1.2" height="1.2" fill="#1e1e1e"/>
<rect x="49.32" y="621.97" width="1.2" height="1.2" fill="#1e1e1e"/>
<rect x="53.14" y="621.74" width="1.2" height="1.2" fill="#1e1e1e"/>
<rect x="45.84" y="621.59" width="1.2" height="1.2" fill="#1e1e1e"/>
<rect x="56.68" y="623.65" width="1.2" height="1.2" fill="#1e1e1e"/>
<rect x="48.30" y="621.52" width="1.2" height="1.2" fill="#1e1e1e"/>
<rect x="46.54" y="623.25" width="1.2" height="1.2" fill="#1e1e1e"/>
<rect x="52.04" y="626.02" width="1.2" height="1.2" fill="#1e1e1e"/>
<rect x="54.63" y="624.17" width="1.2" height="1.2" fill="#1e1e1e"/>
<rect x="48.13" y="621.79" width="1.2" height="1.2" fill="#1e1e1e"/>
<rect x="52.01" y="622.89" width="1.2" height="1.2" fill="#1e1e1e"/>
<rect x="51.82" y="620.77" width="1.2" height="1.2" fill="#1e1e1e"/>
<rect x="53.73" y="624.22" width="1.2" height="1.2" fill="#1e1e1e"/>
<rect x="50.65" y="624.44" width="1.2" height="1.2" fill="#1e1e1e"/>
<rect x="47.27" y="627.41" width="1.2" height="1.2" fill="#1e1e1e"/>
<rect x="49.84" y="622.54" width="1.2" height="1.2" fill="#1e1e1e"/>
<rect x="53.57" y="621.39" width="1.2" height="1.2" fill="#1e1e1e"/>
<rect x="55.62" y="622.12" width="1.2" height="1.2" fill="#1e1e1e"/>
<rect x="50.29" y="621.68" width="1.2" height="1.2" fill="#1e1e1e"/>
<rect x="53.41" y="619.04" width="1.2" height="1.2" fill="#1e1e1e"/>
<rect x="52.99" y="621.88" width="1.2" height="1.2" fill="#1e1e1e"/>
<rect x="50.68" y="621.18" width="1.2" height="1.2" fill="#1e1e1e"/>
<rect x="51.32" y="623.99" width="1.2" height="1.2" fill="#1e1e1e"/>
<rect x="52.62" y="624.26" width="1.2" height="1.2" fill="#1e1e1e"/>
<rect x="52.74" y="625.69" width="1.2" height="1.2" fill="#1e1e1e"/>
<rect x="49.10" y="621.12" width="1.2" height="1.2" fill="#1e1e1e"/>
<rect x="45.90" y="625.03" width="1.2" height="1.2" fill="#1e1e1e"/>
<rect x="49.15" y="625.81" width="1.2" height="1.2" fill="#1e1e1e"/>
<rect x="50.66" y="621.47" width="1.2" height="1.2" fill="#1e1e1e"/>
<rect x="53.76" y="627.68" width="1.2" height="1.2" fill="#1e1e1e"/>
<rect x="49.85" y="621.63" width="1.2" height="1.2" fill="#1e1e1e"/>
<rect x="47.45" y="625.47" width="1.2" height="1.2" fill="#1e1e1e"/>
<rect x="48.39" y="622.75" width="1.2" height="1.2" fill="#1e1e1e"/>
<rect x="52.96" y="623.62" width="1.2" height="1.2" fill="#1e1e1e"/>
<rect x="50.91" y="622.46" width="1.2" height="1.2" fill="#1e1e1e"/>
<rect x="48.20" y="623.94" width="1.2" height="1.2" fill="#1e1e1e"/>
<rect x="51.06" y="624.84" width="1.2" height="1.2" fill="#1e1e1e"/>
<rect x="48.70" y="624.32" width="1.2" height="1.2" fill="#1e1e1e"/>
<rect x="52.21" y="623.77" width="1.2" height="1.2" fill="#1e1e1e"/>
<rect x="52.55" y="625.72" width="1.2" height="1.2" fill="#1e1e1e"/>
<rect x="51.21" y="623.76" width="1.2" height="1.2" fill="#1e1e1e"/>
<rect x="47.01" y="624.29" width="1.2" height="1.2" fill="#1e1e1e"/>
<rect x="50.16" y="622.95" width="1.2" height="1.2" fill="#1e1e1e"/>
<rect x="47.53" y="624.81" width="1.2" height="1.2" fill="#1e1e1e"/>
<rect x="59.71" y="624.51" width="1.2" height="1.2" fill="#1e1e1e"/>
<rect x="50.81" y="624.52" width="1.2" height="1.2" fill="#1e1e1e"/>
<rect x="48.37" y="623.80" width="1.2" height="1.2" fill="#1e1e1e"/>
<rect x="48.12" y="622.25" width="1.2" height="1.2" fill="#1e1e1e"/>
<rect x="51.34" y="624.08" width="1.2" height="1.2" fill="#1e1e1e"/>
<rect x="50.10" y="621.93" width="1.2" height="1.2" fill="#1e1e1e"/>
<rect x="51.45" y="621.32" width="1.2" height="1.2" fill="#1e1e1e"/>
<rect x="53.28" y="622.87" width="1.2" height="1.2" fill="#1e1e1e"/>
<rect x="50.50" y="625.25" width="1.2" height="1.2" fill="#1e1e1e"/>
<rect x="52.50" y="620.88" width="1.2" height="1.2" fill="#1e1e1e"/>
<rect x="49.60" y="624.37" width="1.2" height="1.2" fill="#1e1e1e"/>
<rect x="46.58" y="618.55" width="1.2" height="1.2" fill="#1e1e1e"/>
<rect x="50.24" y="623.50" width="1.2" height="1.2" fill="#1e1e1e"/>
<rect x="52.04" y="623.77" width="1.2" height="1.2" fill="#1e1e1e"/>
<rect x="50.97" y="624.10" width="1.2" height="1.2" fill="#1e1e1e"/>
<rect x="55.45" y="624.62" width="1.2" height="1.2" fill="#1e1e1e"/>
<rect x="52.45" y="622.78" width="1.2" height="1.2" fill="#1e1e1e"/>
<rect x="54.54" y="623.21" width="1.2" height="1.2" fill="#1e1e1e"/>
<rect x="53.16" y="619.17" width="1.2" height="1.2" fill="#1e1e1e"/>
<rect x="51.38" y="623.40" width="1.2" height="1.2" fill="#1e1e1e"/>
<rect x="48.84" y="626.30" width="1.2" height="1.2" fill="#1e1e1e"/>
<rect x="51.96" y="623.30" width="1.2" height="1.2" fill="#1e1e1e"/>
<rect x="48.61" y="627.54" width="1.2" height="1.2" fill="#1e1e1e"/>
<rect x="53.19" y="624.98" width="1.2" height="1.2" fill="#1e1e1e"/>
<rect x="47.76" y="626.34" width="1.2" height="1.2" fill="#1e1e1e"/>
<rect x="52.51" y="623.04" width="1.2" height="1.2" fill="#1e1e1e"/>
<rect x="50.12" y="620.19" width="1.2" height="1.2" fill="#1e1e1e"/>
<rect x="52.84" y="621.31" width="1.2" height="1.2" fill="#1e1e1e"/>
<rect x="53.53" y="622.68" width="1.2" height="1.2" fill="#1e1e1e"/>
<rect x="48.27" y="624.37" width="1.2" height="1.2" fill="#1e1e1e"/>
<rect x="51.26" y="621.24" width="1.2" height="1.2" fill="#1e1e1e"/>
<rect x="50.23" y="624.87" width="1.2" height="1.2" fill="#1e1e1e"/>
<rect x="49.60" y="620.78" width="1.2" height="1.2" fill="#1e1e1e"/>
<rect x="49.63" y="621.59" width="1.2" height="1.2" fill="#1e1e1e"/>
<rect x="48.43" y="623.70" width="1.2" height="1.2" fill="#1e1e1e"/>
<rect x="50.31" y="623.16" width="1.2" height="1.2" fill="#1e1e1e"/>
<rect x="49.78" y="622.75" width="1.2" height="1.2" fill="#1e1e1e"/>
<rect x="51.06" y="627.63" width="1.2" height="1.2" fill="#1e1e1e"/>
<rect x="45.87" y="620.24" width="1.2" height="1.2" fill="#1e1e1e"/>
<rect x="53.23" y="621.95" width="1.2" height="1.2" fill="#1e1e1e"/>
<rect x="55.16" y="621.54" width="1.2" height="1.2" fill="#1e1e1e"/>
<rect x="48.76" y="625.35" width="1.2" height="1.2" fill="#1e1e1e"/>
<rect x="53.77" y="624.53" width="1.2" height="1.2" fill="#1e1e1e"/>
<rect x="52.13" y="623.33" width="1.2" height="1.2" fill="#1e1e1e"/>
<rect x="48.92" y="623.17" width="1.2" height="1.2" fill="#1e1e1e"/>
<rect x="55.05" y="625.08" width="1.2" height="1.2" fill="#1e1e1e"/>
<rect x="50.57" y="624.26" width="1.2" height="1.2" fill="#1e1e1e"/>
<rect x="53.47" y="626.07" width="1.2" height="1.2" fill="#1e1e1e"/>
<rect x="50.03" y="623.44" width="1.2" height="1.2" fill="#1e1e1e"/>
<rect x="51.68" y="629.05" width="1.2" height="1.2" fill="#1e1e1e"/>
<rect x="51.36" y="626.25" width="1.2" height="1.2" fill="#1e1e1e"/>
<rect x="45.47" y="621.34" width="1.2" height="1.2" fill="#1e1e1e"/>
<rect x="48.23" y="623.30" width="1.2" height="1.2" fill="#1e1e1e"/>
<rect x="51.14" y="624.37" width="1.2" height="1.2" fill="#1e1e1e"/>
<rect x="51.30" y="622.69" width="1.2" height="1.2" fill="#1e1e1e"/>
<rect x="59.77" y="624.42" width="1.2" height="1.2" fill="#1e1e1e"/>
<rect x="52.89" y="627.82" width="1.2" height="1.2" fill="#1e1e1e"/>
<rect x="53.96" y="624.81" width="1.2" height="1.2" fill="#1e1e1e"/>
<rect x="51.65" y="627.49" width="1.2" height="1.2" fill="#1e1e1e"/>
<rect x="46.64" y="621.60" width="1.2" height="1.2" fill="#1e1e1e"/>
<rect x="51.02" y="619.36" width="1.2" height="1.2" fill="#1e1e1e"/>
<rect x="47.72" y="625.95" width="1.2" height="1.2" fill="#1e1e1e"/>
<rect x="48.86" y="623.94" width="1.2" height="1.2" fill="#1e1e1e"/>
<rect x="52.97" y="621.18" width="1.2" height="1.2" fill="#1e1e1e"/>
<rect x="51.47" y="622.29" width="1.2" height="1.2" fill="#1e1e1e"/>
<rect x="46.60" y="623.03" width="1.2" height="1.2" fill="#1e1e1e"/>
<rect x="50.30" y="622.77" width="1.2" height="1.2" fill="#1e1e1e"/>
<rect x="48.15" y="625.59" width="1.2" height="1.2" fill="#1e1e1e"/>
<rect x="54.61" y="624.76" width="1.2" height="1.2" fill="#1e1e1e"/>
<rect x="50.15" y="621.41" width="1.2" height="1.2" fill="#1e1e1e"/>
<rect x="47.57" y="621.30" width="1.2" height="1.2" fill="#1e1e1e"/>
<rect x="51.25" y="625.50" width="1.2" height="1.2" fill="#1e1e1e"/>
<rect x="53.75" y="623.55" width="1.2" height="1.2" fill="#1e1e1e"/>
<rect x="49.13" y="623.97" width="1.2" height="1.2" fill="#1e1e1e"/>
<rect x="50.93" y="624.84" width="1.2" height="1.2" fill="#1e1e1e"/>
<rect x="55.76" y="622.18" width="1.2" height="1.2" fill="#1e1e1e"/>
<rect x="57.96" y="619.23" width="1.2" height="1.2" fill="#1e1e1e"/>
<rect x="46.84" y="623.11" width="1.2" height="1.2" fill="#1e1e1e"/>
<rect x="57.87" y="622.15" width="1.2" height="1.2" fill="#1e1e1e"/>
<rect x="54.44" y="622.85" width="1.2" height="1.2" fill="#1e1e1e"/>
<rect x="51.04" y="621.48" width="1.2" height="1.2" fill="#1e1e1e"/>
<rect x="58.60" y="623.52" width="1.2" height="1.2" fill="#1e1e1e"/>
<rect x="48.31" y="628.33" width="1.2" height="1.2" fill="#1e1e1e"/>
<rect x="51.15" y="624.46" width="1.2" height="1.2" fill="#1e1e1e"/>
<rect x="49.98" y="621.87" width="1.2" height="1.2" fill="#1e1e1e"/>
<rect x="45.40" y="623.23" width="1.2" height="1.2" fill="#1e1e1e"/>
<rect x="56.26" y="624.48" width="1.2" height="1.2" fill="#1e1e1e"/>
<rect x="49.88" y="625.81" width="1.2" height="1.2" fill="#1e1e1e"/>
<rect x="47.18" y="626.46" width="1.2" height="1.2" fill="#1e1e1e"/>
<rect x="50.44" y="621.87" width="1.2" height="1.2" fill="#1e1e1e"/>
<rect x="52.92" y="624.67" width="1.2" height="1.2" fill="#1e1e1e"/>
<rect x="49.27" y="624.05" width="1.2" height="1.2" fill="#1e1e1e"/>
<rect x="53.99" y="626.52" width="1.2" height="1.2" fill="#1e1e1e"/>
<rect x="47.48" y="618.13" width="1.2" height="1.2" fill="#1e1e1e"/>
<rect x="57.80" y="623.05" width="1.2" height="1.2" fill="#1e1e1e"/>
<rect x="49.01" y="624.49" width="1.2" height="1.2" fill="#1e1e1e"/>
<rect x="48.98" y="625.77" width="1.2" height="1.2" fill="#1e1e1e"/>
<rect x="46.06" y="623.17" width="1.2" height="1.2" fill="#1e1e1e"/>
<rect x="46.02" y="626.77" width="1.2" height="1.2" fill="#1e1e1e"/>
<rect x="49.62" y="625.89" width="1.2" height="1.2" fill="#1e1e1e"/>
<rect x="55.45" y="621.11" width="1.2" height="1.2" fill="#1e1e1e"/>
<rect x="49.71" y="625.10" width="1.2" height="1.2" fill="#1e1e1e"/>
<rect x="50.68" y="623.32" width="1.2" height="1.2" fill="#1e1e1e"/>
<rect x="53.50" y="625.50" width="1.2" height="1.2" fill="#1e1e1e"/>
<rect x="48.39" y="623.32" width="1.2" height="1.2" fill="#1e1e1e"/>
<rect x="52.81" y="624.04" width="1.2" height="1.2" fill="#1e1e1e"/>
<rect x="51.01" y="621.27" width="1.2" height="1.2" fill="#1e1e1e"/>
<rect x="56.76" y="623.12" width="1.2" height="1.2" fill="#1e1e1e"/>
<rect x="51.45" y="623.53" width="1.2" height="1.2" fill="#1e1e1e"/>
<rect x="50.73" y="623.91" width="1.2" height="1.2" fill="#1e1e1e"/>
<rect x="51.32" y="618.29" width="1" height="1" fill="#888"/>
<rect x="52.46" y="618.83" width="1" height="1" fill="#888"/>
<rect x="47.94" y="618.16" width="1" height="1" fill="#888"/>
<rect x="55.02" y="619.34" width="1" height="1" fill="#888"/>
<rect x="51.18" y="618.48" width="1" height="1" fill="#888"/>
<rect x="51.30" y="618.86" width="1" height="1" fill="#888"/>
<rect x="53.27" y="617.30" width="1" height="1" fill="#888"/>
<rect x="55.09" y="616.14" width="1" height="1" fill="#888"/>
<rect x="49.47" y="619.83" width="1" height="1" fill="#888"/>
<rect x="54.90" y="620.02" width="1" height="1" fill="#888"/>
<rect x="52.09" y="619.24" width="1" height="1" fill="#888"/>
<rect x="49.80" y="617.17" width="1" height="1" fill="#888"/>
<rect x="48.69" y="620.21" width="1" height="1" fill="#888"/>
<rect x="55.97" y="618.68" width="1" height="1" fill="#888"/>
<rect x="56.06" y="616.76" width="1" height="1" fill="#888"/>
<rect x="56.29" y="618.86" width="1" height="1" fill="#888"/>
<rect x="55.14" y="617.51" width="1" height="1" fill="#888"/>
<rect x="52.18" y="617.75" width="1" height="1" fill="#888"/>
<rect x="48.71" y="619.24" width="1" height="1" fill="#888"/>
<rect x="56.92" y="620.16" width="1" height="1" fill="#888"/>
<rect x="52.47" y="617.56" width="1" height="1" fill="#888"/>
<rect x="51.55" y="619.11" width="1" height="1" fill="#888"/>
<rect x="55.03" y="615.60" width="1" height="1" fill="#888"/>
<rect x="48.55" y="619.39" width="1" height="1" fill="#888"/>
<rect x="50.15" y="617.28" width="1" height="1" fill="#888"/>
<rect x="55.51" y="618.33" width="1" height="1" fill="#888"/>
<rect x="55.28" y="620.00" width="1" height="1" fill="#888"/>
<rect x="47.31" y="617.81" width="1" height="1" fill="#888"/>
<rect x="52.75" y="617.18" width="1" height="1" fill="#888"/>
<rect x="49.80" y="618.07" width="1" height="1" fill="#888"/>
<rect x="72.77" y="625.37" width="0.9" height="0.9" fill="#999"/>
<rect x="72.04" y="623.96" width="0.9" height="0.9" fill="#999"/>
<rect x="66.68" y="619.84" width="0.9" height="0.9" fill="#999"/>
<rect x="77.29" y="624.07" width="0.9" height="0.9" fill="#999"/>
<rect x="71.58" y="626.18" width="0.9" height="0.9" fill="#999"/>
<rect x="63.26" y="629.16" width="0.9" height="0.9" fill="#999"/>
<rect x="66.90" y="625.40" width="0.9" height="0.9" fill="#999"/>
<rect x="64.88" y="622.81" width="0.9" height="0.9" fill="#999"/>
<rect x="77.10" y="626.30" width="0.9" height="0.9" fill="#999"/>
<rect x="67.07" y="623.84" width="0.9" height="0.9" fill="#999"/>
<rect x="65.08" y="625.63" width="0.9" height="0.9" fill="#999"/>
<rect x="77.64" y="625.73" width="0.9" height="0.9" fill="#999"/>
<rect x="61.43" y="624.69" width="0.9" height="0.9" fill="#999"/>
<rect x="61.43" y="625.96" width="0.9" height="0.9" fill="#999"/>
<rect x="69.47" y="624.32" width="0.9" height="0.9" fill="#999"/>
<rect x="71.36" y="620.30" width="0.9" height="0.9" fill="#999"/>
<rect x="74.72" y="626.29" width="0.9" height="0.9" fill="#999"/>
<rect x="77.30" y="624.56" width="0.9" height="0.9" fill="#999"/>
<rect x="61.25" y="624.22" width="0.9" height="0.9" fill="#999"/>
<rect x="64.82" y="627.01" width="0.9" height="0.9" fill="#999"/>
<rect x="69.83" y="626.04" width="0.9" height="0.9" fill="#999"/>
<rect x="77.24" y="624.97" width="0.9" height="0.9" fill="#999"/>
<rect x="62.60" y="625.64" width="0.9" height="0.9" fill="#999"/>
<rect x="77.87" y="623.73" width="0.9" height="0.9" fill="#999"/>
<rect x="72.14" y="623.76" width="0.9" height="0.9" fill="#999"/>
<rect x="60.98" y="623.53" width="0.9" height="0.9" fill="#999"/>
<rect x="73.67" y="625.14" width="0.9" height="0.9" fill="#999"/>
<rect x="74.81" y="625.78" width="0.9" height="0.9" fill="#999"/>
<rect x="75.75" y="629.84" width="0.9" height="0.9" fill="#999"/>
<rect x="69.62" y="626.19" width="0.9" height="0.9" fill="#999"/>
<rect x="66.88" y="626.21" width="0.9" height="0.9" fill="#999"/>
<rect x="77.78" y="625.86" width="0.9" height="0.9" fill="#999"/>
<rect x="65.05" y="625.34" width="0.9" height="0.9" fill="#999"/>
<rect x="62.28" y="625.41" width="0.9" height="0.9" fill="#999"/>
<rect x="66.34" y="625.26" width="0.9" height="0.9" fill="#999"/>
<line x1="26.60" y1="618.70" x2="26.60" y2="669.20" stroke="#111" stroke-width="1.2" />
<path d="M24.60,619.20 L28.60,619.20 L26.60,614.70 Z" fill="#111"/>
<text x="0" y="0" transform="translate(25.67,643.70) rotate(-90)" font-size="10.5" text-anchor="middle" font-weight="bold" font-family="'Liberation Serif', serif" fill="#111" stroke="#111" stroke-width="0.22" >CD8</text>
<line x1="40.20" y1="680.60" x2="91.30" y2="680.60" stroke="#111" stroke-width="1.2" />
<path d="M90.80,678.60 L90.80,682.60 L95.30,680.60 Z" fill="#111"/>
<text x="71.50" y="692.37" font-size="10.5" text-anchor="middle" font-weight="bold" font-family="'Liberation Serif', serif" fill="#111" stroke="#111" stroke-width="0.22" >IFN-&#947;</text>
<rect x="129.60" y="612.30" width="52.40" height="48.00" fill="none" stroke="#555" stroke-width="0.8" />
<path d="M144.00,660.30 L144.00,659.23 L144.70,659.23 L144.70,655.70 L145.40,655.70 L145.40,651.71 L146.10,651.71 L146.10,648.88 L146.80,648.88 L146.80,649.87 L147.50,649.87 L147.50,650.21 L148.20,650.21 L148.20,650.40 L148.90,650.40 L148.90,648.76 L149.60,648.76 L149.60,648.02 L150.30,648.02 L150.30,646.17 L151.00,646.17 L151.00,643.98 L151.70,643.98 L151.70,639.76 L152.40,639.76 L152.40,636.31 L153.10,636.31 L153.10,640.05 L153.80,640.05 L153.80,642.68 L154.50,642.68 L154.50,644.05 L155.20,644.05 L155.20,646.79 L155.90,646.79 L155.90,648.59 L156.60,648.59 L156.60,651.37 L157.30,651.37 L157.30,654.62 L158.00,654.62 L158.00,655.72 L158.70,655.72 L158.70,658.12 L159.40,658.12 L159.40,659.93 L160.10,659.93 L160.10,660.01 L160.50,660.01 L160.50,660.30 Z" fill="#555" stroke="#333" stroke-width="0.5" stroke-linejoin="round" />
<path d="M130.00,656.00 L130.00,657.21 L130.70,657.21 L130.70,658.84 L131.40,658.84 L131.40,659.05 L132.10,659.05 L132.10,658.11 L132.80,658.11 L132.80,659.33 L133.50,659.33 L133.50,659.24 L134.20,659.24 L134.20,658.97 L134.90,658.97 L134.90,658.04 L135.60,658.04 L135.60,659.00 L136.30,659.00 L136.30,658.74 L137.00,658.74 L137.00,658.54 L137.70,658.54 L137.70,659.88 L138.40,659.88 L138.40,659.77 L139.10,659.77 L139.10,657.46 L139.80,657.46 L139.80,659.12 L140.50,659.12 L140.50,658.67 L141.20,658.67 L141.20,658.30 L141.90,658.30 L141.90,658.20 L142.60,658.20 L142.60,659.18 L143.30,659.18 L143.30,657.93 L144.00,657.93 L144.00,657.59 L144.70,657.59 L144.70,654.97 L145.40,654.97 L145.40,650.78 L146.10,650.78 L146.10,649.90 L146.80,649.90 L146.80,650.91 L147.50,650.91 L147.50,651.42 L148.20,651.42 L148.20,650.14 L148.90,650.14 L148.90,648.11 L149.60,648.11 L149.60,646.97 L150.30,646.97 L150.30,645.22 L151.00,645.22 L151.00,644.22 L151.70,644.22 L151.70,639.32 L152.40,639.32 L152.40,636.41 L153.10,636.41 L153.10,640.46 L153.80,640.46 L153.80,642.06 L154.50,642.06 L154.50,644.45 L155.20,644.45 L155.20,645.51 L155.90,645.51 L155.90,643.82 L156.60,643.82 L156.60,641.90 L157.30,641.90 L157.30,642.13 L158.00,642.13 L158.00,640.47 L158.70,640.47 L158.70,641.14 L159.40,641.14 L159.40,642.40 L160.10,642.40 L160.10,642.92 L160.80,642.92 L160.80,645.29 L161.50,645.29 L161.50,647.40 L162.20,647.40 L162.20,646.43 L162.90,646.43 L162.90,644.99 L163.60,644.99 L163.60,644.94 L164.30,644.94 L164.30,642.84 L165.00,642.84 L165.00,644.55 L165.70,644.55 L165.70,645.28 L166.40,645.28 L166.40,648.09 L167.10,648.09 L167.10,651.39 L167.80,651.39 L167.80,655.49 L168.50,655.49 L168.50,655.69 L169.20,655.69 L169.20,657.31 L169.90,657.31 L169.90,659.38 L170.60,659.38 L170.60,660.30 L171.30,660.30 L171.30,659.50 L172.00,659.50 L172.00,659.53 L172.70,659.53 L172.70,659.23 L173.40,659.23 L173.40,659.87 L174.10,659.87 L174.10,659.94 L174.80,659.94 L174.80,660.00 L175.50,660.00 L175.50,660.00 L176.20,660.00 L176.20,660.00 L176.90,660.00 L176.90,660.00 L177.60,660.00 L177.60,660.00 L178.30,660.00 L178.30,660.00 L179.00,660.00 L179.00,660.00 L179.70,660.00 L179.70,660.00 L180.40,660.00 L180.40,660.00 L181.10,660.00 L181.10,660.00 L181.80,660.00 L181.80,660.00 L182.00,660.00 L182.00,660.00" fill="none" stroke="#111" stroke-width="1.35" stroke-linejoin="round" />
<line x1="129.60" y1="660.30" x2="182.00" y2="660.30" stroke="#222" stroke-width="1.0" />
<line x1="129.60" y1="612.30" x2="129.60" y2="660.30" stroke="#333" stroke-width="1.1" stroke-dasharray="2.6,1.1"/>
<line x1="128.00" y1="612.60" x2="129.60" y2="612.60" stroke="#333" stroke-width="0.9" />
<line x1="128.00" y1="624.60" x2="129.60" y2="624.60" stroke="#333" stroke-width="0.9" />
<line x1="128.00" y1="637.00" x2="129.60" y2="637.00" stroke="#333" stroke-width="0.9" />
<line x1="128.00" y1="648.60" x2="129.60" y2="648.60" stroke="#333" stroke-width="0.9" />
<line x1="128.00" y1="660.30" x2="129.60" y2="660.30" stroke="#333" stroke-width="0.9" />
<text x="126.80" y="614.57" font-size="5.8" text-anchor="end" font-weight="bold" font-family="'Liberation Serif', serif" fill="#444" stroke="#444" stroke-width="0.22" >40</text>
<text x="126.80" y="626.57" font-size="5.8" text-anchor="end" font-weight="bold" font-family="'Liberation Serif', serif" fill="#444" stroke="#444" stroke-width="0.22" >30</text>
<text x="126.80" y="638.97" font-size="5.8" text-anchor="end" font-weight="bold" font-family="'Liberation Serif', serif" fill="#444" stroke="#444" stroke-width="0.22" >20</text>
<text x="126.80" y="650.57" font-size="5.8" text-anchor="end" font-weight="bold" font-family="'Liberation Serif', serif" fill="#444" stroke="#444" stroke-width="0.22" >10</text>
<text x="126.80" y="662.27" font-size="5.8" text-anchor="end" font-weight="bold" font-family="'Liberation Serif', serif" fill="#444" stroke="#444" stroke-width="0.22" >0</text>
<text x="130.10" y="670.64" font-size="6.3" text-anchor="middle" font-weight="bold" font-family="'Liberation Serif', serif" fill="#222" stroke="#222" stroke-width="0.15">10<tspan font-size="4.41" dy="-2.52">0</tspan></text>
<text x="142.90" y="670.64" font-size="6.3" text-anchor="middle" font-weight="bold" font-family="'Liberation Serif', serif" fill="#222" stroke="#222" stroke-width="0.15">10<tspan font-size="4.41" dy="-2.52">1</tspan></text>
<text x="155.70" y="670.64" font-size="6.3" text-anchor="middle" font-weight="bold" font-family="'Liberation Serif', serif" fill="#222" stroke="#222" stroke-width="0.15">10<tspan font-size="4.41" dy="-2.52">2</tspan></text>
<text x="168.50" y="670.64" font-size="6.3" text-anchor="middle" font-weight="bold" font-family="'Liberation Serif', serif" fill="#222" stroke="#222" stroke-width="0.15">10<tspan font-size="4.41" dy="-2.52">3</tspan></text>
<text x="181.30" y="670.64" font-size="6.3" text-anchor="middle" font-weight="bold" font-family="'Liberation Serif', serif" fill="#222" stroke="#222" stroke-width="0.15">10<tspan font-size="4.41" dy="-2.52">4</tspan></text>
<line x1="126.00" y1="680.40" x2="179.20" y2="680.40" stroke="#111" stroke-width="1.2" />
<path d="M178.70,678.40 L178.70,682.40 L183.20,680.40 Z" fill="#111"/>
<text x="154.00" y="692.47" font-size="10.2" text-anchor="middle" font-weight="bold" font-family="'Liberation Serif', serif" fill="#111" stroke="#111" stroke-width="0.22" >CD45RA</text>
<rect x="196.20" y="612.30" width="52.40" height="48.00" fill="none" stroke="#555" stroke-width="0.8" />
<path d="M206.00,660.30 L206.00,658.89 L206.70,658.89 L206.70,658.67 L207.40,658.67 L207.40,657.01 L208.10,657.01 L208.10,654.77 L208.80,654.77 L208.80,653.98 L209.50,653.98 L209.50,652.67 L210.20,652.67 L210.20,651.29 L210.90,651.29 L210.90,649.65 L211.60,649.65 L211.60,648.35 L212.30,648.35 L212.30,648.33 L213.00,648.33 L213.00,649.87 L213.70,649.87 L213.70,649.23 L214.40,649.23 L214.40,649.61 L215.10,649.61 L215.10,647.73 L215.80,647.73 L215.80,648.01 L216.50,648.01 L216.50,647.48 L217.20,647.48 L217.20,645.43 L217.90,645.43 L217.90,644.80 L218.60,644.80 L218.60,640.03 L219.30,640.03 L219.30,637.54 L220.00,637.54 L220.00,643.36 L220.70,643.36 L220.70,646.78 L221.40,646.78 L221.40,648.12 L222.10,648.12 L222.10,647.74 L222.80,647.74 L222.80,649.47 L223.50,649.47 L223.50,651.98 L224.20,651.98 L224.20,653.17 L224.90,653.17 L224.90,654.56 L225.60,654.56 L225.60,655.98 L226.30,655.98 L226.30,657.12 L227.00,657.12 L227.00,657.43 L227.70,657.43 L227.70,658.05 L228.40,658.05 L228.40,658.66 L229.10,658.66 L229.10,659.80 L229.80,659.80 L229.80,660.21 L230.00,660.21 L230.00,660.30 Z" fill="#555" stroke="#333" stroke-width="0.5" stroke-linejoin="round" />
<path d="M196.60,648.00 L196.60,648.19 L197.30,648.19 L197.30,649.01 L198.00,649.01 L198.00,652.68 L198.70,652.68 L198.70,655.05 L199.40,655.05 L199.40,656.89 L200.10,656.89 L200.10,657.87 L200.80,657.87 L200.80,657.27 L201.50,657.27 L201.50,658.27 L202.20,658.27 L202.20,658.76 L202.90,658.76 L202.90,658.77 L203.60,658.77 L203.60,656.88 L204.30,656.88 L204.30,656.86 L205.00,656.86 L205.00,655.42 L205.70,655.42 L205.70,656.03 L206.40,656.03 L206.40,655.03 L207.10,655.03 L207.10,652.98 L207.80,652.98 L207.80,654.49 L208.50,654.49 L208.50,654.10 L209.20,654.10 L209.20,653.06 L209.90,653.06 L209.90,651.89 L210.60,651.89 L210.60,648.46 L211.30,648.46 L211.30,647.09 L212.00,647.09 L212.00,648.54 L212.70,648.54 L212.70,647.82 L213.40,647.82 L213.40,648.42 L214.10,648.42 L214.10,648.80 L214.80,648.80 L214.80,647.81 L215.50,647.81 L215.50,648.25 L216.20,648.25 L216.20,647.45 L216.90,647.45 L216.90,647.17 L217.60,647.17 L217.60,645.29 L218.30,645.29 L218.30,641.63 L219.00,641.63 L219.00,636.63 L219.70,636.63 L219.70,642.07 L220.40,642.07 L220.40,646.34 L221.10,646.34 L221.10,646.57 L221.80,646.57 L221.80,648.78 L222.50,648.78 L222.50,650.16 L223.20,650.16 L223.20,651.95 L223.90,651.95 L223.90,653.80 L224.60,653.80 L224.60,654.21 L225.30,654.21 L225.30,655.06 L226.00,655.06 L226.00,656.22 L226.70,656.22 L226.70,656.67 L227.40,656.67 L227.40,658.72 L228.10,658.72 L228.10,658.43 L228.80,658.43 L228.80,659.93 L229.50,659.93 L229.50,659.44 L230.20,659.44 L230.20,659.81 L230.90,659.81 L230.90,659.81 L231.60,659.81 L231.60,659.82 L232.30,659.82 L232.30,659.83 L233.00,659.83 L233.00,659.84 L233.70,659.84 L233.70,659.84 L234.40,659.84 L234.40,659.85 L235.10,659.85 L235.10,659.86 L235.80,659.86 L235.80,659.87 L236.50,659.87 L236.50,659.88 L237.20,659.88 L237.20,659.88 L237.90,659.88 L237.90,659.89 L238.60,659.89 L238.60,659.90 L239.30,659.90 L239.30,659.91 L240.00,659.91 L240.00,659.91 L240.70,659.91 L240.70,659.92 L241.40,659.92 L241.40,659.93 L242.10,659.93 L242.10,659.94 L242.80,659.94 L242.80,659.95 L243.50,659.95 L243.50,659.95 L244.20,659.95 L244.20,659.96 L244.90,659.96 L244.90,659.97 L245.60,659.97 L245.60,659.98 L246.30,659.98 L246.30,659.99 L247.00,659.99 L247.00,659.99 L247.70,659.99 L247.70,660.00 L248.00,660.00 L248.00,660.00" fill="none" stroke="#111" stroke-width="1.35" stroke-linejoin="round" />
<line x1="196.20" y1="660.30" x2="248.60" y2="660.30" stroke="#222" stroke-width="1.0" />
<line x1="196.20" y1="612.30" x2="196.20" y2="660.30" stroke="#333" stroke-width="1.1" stroke-dasharray="2.6,1.1"/>
<line x1="194.60" y1="612.60" x2="196.20" y2="612.60" stroke="#333" stroke-width="0.9" />
<line x1="194.60" y1="624.60" x2="196.20" y2="624.60" stroke="#333" stroke-width="0.9" />
<line x1="194.60" y1="637.00" x2="196.20" y2="637.00" stroke="#333" stroke-width="0.9" />
<line x1="194.60" y1="648.60" x2="196.20" y2="648.60" stroke="#333" stroke-width="0.9" />
<line x1="194.60" y1="660.30" x2="196.20" y2="660.30" stroke="#333" stroke-width="0.9" />
<text x="196.70" y="670.64" font-size="6.3" text-anchor="middle" font-weight="bold" font-family="'Liberation Serif', serif" fill="#222" stroke="#222" stroke-width="0.15">10<tspan font-size="4.41" dy="-2.52">0</tspan></text>
<text x="209.50" y="670.64" font-size="6.3" text-anchor="middle" font-weight="bold" font-family="'Liberation Serif', serif" fill="#222" stroke="#222" stroke-width="0.15">10<tspan font-size="4.41" dy="-2.52">1</tspan></text>
<text x="222.30" y="670.64" font-size="6.3" text-anchor="middle" font-weight="bold" font-family="'Liberation Serif', serif" fill="#222" stroke="#222" stroke-width="0.15">10<tspan font-size="4.41" dy="-2.52">2</tspan></text>
<text x="235.10" y="670.64" font-size="6.3" text-anchor="middle" font-weight="bold" font-family="'Liberation Serif', serif" fill="#222" stroke="#222" stroke-width="0.15">10<tspan font-size="4.41" dy="-2.52">3</tspan></text>
<text x="247.90" y="670.64" font-size="6.3" text-anchor="middle" font-weight="bold" font-family="'Liberation Serif', serif" fill="#222" stroke="#222" stroke-width="0.15">10<tspan font-size="4.41" dy="-2.52">4</tspan></text>
<line x1="192.60" y1="680.40" x2="245.80" y2="680.40" stroke="#111" stroke-width="1.2" />
<path d="M245.30,678.40 L245.30,682.40 L249.80,680.40 Z" fill="#111"/>
<text x="222.00" y="692.47" font-size="10.2" text-anchor="middle" font-weight="bold" font-family="'Liberation Serif', serif" fill="#111" stroke="#111" stroke-width="0.22" >CD45RO</text>
<rect x="262.30" y="612.30" width="51.70" height="48.00" fill="none" stroke="#555" stroke-width="0.8" />
<path d="M274.00,660.30 L274.00,660.30 L274.70,660.30 L274.70,659.52 L275.40,659.52 L275.40,656.85 L276.10,656.85 L276.10,655.84 L276.80,655.84 L276.80,656.13 L277.50,656.13 L277.50,654.14 L278.20,654.14 L278.20,651.44 L278.90,651.44 L278.90,648.21 L279.60,648.21 L279.60,648.94 L280.30,648.94 L280.30,649.90 L281.00,649.90 L281.00,650.64 L281.70,650.64 L281.70,648.44 L282.40,648.44 L282.40,647.48 L283.10,647.48 L283.10,645.95 L283.80,645.95 L283.80,644.10 L284.50,644.10 L284.50,638.50 L285.20,638.50 L285.20,641.89 L285.90,641.89 L285.90,645.44 L286.60,645.44 L286.60,646.26 L287.30,646.26 L287.30,646.94 L288.00,646.94 L288.00,647.61 L288.70,647.61 L288.70,648.86 L289.40,648.86 L289.40,650.91 L290.10,650.91 L290.10,651.90 L290.80,651.90 L290.80,653.51 L291.50,653.51 L291.50,656.00 L292.20,656.00 L292.20,656.50 L292.90,656.50 L292.90,657.01 L293.60,657.01 L293.60,656.86 L294.30,656.86 L294.30,656.92 L295.00,656.92 L295.00,658.01 L295.70,658.01 L295.70,658.31 L296.40,658.31 L296.40,659.63 L297.10,659.63 L297.10,660.12 L297.50,660.12 L297.50,660.30 Z" fill="#555" stroke="#333" stroke-width="0.5" stroke-linejoin="round" />
<path d="M262.60,648.00 L262.60,648.44 L263.30,648.44 L263.30,652.05 L264.00,652.05 L264.00,657.48 L264.70,657.48 L264.70,657.32 L265.40,657.32 L265.40,657.69 L266.10,657.69 L266.10,658.67 L266.80,658.67 L266.80,658.36 L267.50,658.36 L267.50,659.45 L268.20,659.45 L268.20,659.10 L268.90,659.10 L268.90,658.82 L269.60,658.82 L269.60,658.63 L270.30,658.63 L270.30,658.85 L271.00,658.85 L271.00,657.72 L271.70,657.72 L271.70,658.37 L272.40,658.37 L272.40,657.76 L273.10,657.76 L273.10,659.39 L273.80,659.39 L273.80,657.20 L274.50,657.20 L274.50,658.21 L275.20,658.21 L275.20,655.91 L275.90,655.91 L275.90,656.59 L276.60,656.59 L276.60,655.16 L277.30,655.16 L277.30,654.24 L278.00,654.24 L278.00,652.62 L278.70,652.62 L278.70,648.23 L279.40,648.23 L279.40,647.51 L280.10,647.51 L280.10,650.35 L280.80,650.35 L280.80,650.41 L281.50,650.41 L281.50,648.56 L282.20,648.56 L282.20,649.09 L282.90,649.09 L282.90,647.55 L283.60,647.55 L283.60,644.25 L284.30,644.25 L284.30,639.18 L285.00,639.18 L285.00,638.54 L285.70,638.54 L285.70,644.66 L286.40,644.66 L286.40,646.34 L287.10,646.34 L287.10,646.33 L287.80,646.33 L287.80,648.52 L288.50,648.52 L288.50,648.36 L289.20,648.36 L289.20,649.89 L289.90,649.89 L289.90,652.56 L290.60,652.56 L290.60,653.06 L291.30,653.06 L291.30,654.67 L292.00,654.67 L292.00,656.54 L292.70,656.54 L292.70,656.72 L293.40,656.72 L293.40,656.96 L294.10,656.96 L294.10,656.62 L294.80,656.62 L294.80,658.61 L295.50,658.61 L295.50,659.64 L296.20,659.64 L296.20,660.16 L296.90,660.16 L296.90,659.98 L297.60,659.98 L297.60,659.46 L298.30,659.46 L298.30,659.44 L299.00,659.44 L299.00,660.12 L299.70,660.12 L299.70,660.04 L300.40,660.04 L300.40,658.77 L301.10,658.77 L301.10,659.00 L301.80,659.00 L301.80,659.25 L302.50,659.25 L302.50,659.53 L303.20,659.53 L303.20,659.91 L303.90,659.91 L303.90,658.88 L304.60,658.88 L304.60,657.49 L305.30,657.49 L305.30,659.63 L306.00,659.63 L306.00,659.22 L306.70,659.22 L306.70,659.80 L307.40,659.80 L307.40,659.82 L308.10,659.82 L308.10,659.84 L308.80,659.84 L308.80,659.86 L309.50,659.86 L309.50,659.88 L310.20,659.88 L310.20,659.90 L310.90,659.90 L310.90,659.92 L311.60,659.92 L311.60,659.94 L312.30,659.94 L312.30,659.96 L313.00,659.96 L313.00,659.98 L313.70,659.98 L313.70,660.00 L314.00,660.00 L314.00,660.00" fill="none" stroke="#111" stroke-width="1.35" stroke-linejoin="round" />
<line x1="262.30" y1="660.30" x2="314.00" y2="660.30" stroke="#222" stroke-width="1.0" />
<line x1="262.30" y1="612.30" x2="262.30" y2="660.30" stroke="#333" stroke-width="1.1" stroke-dasharray="2.6,1.1"/>
<line x1="260.70" y1="612.60" x2="262.30" y2="612.60" stroke="#333" stroke-width="0.9" />
<line x1="260.70" y1="624.60" x2="262.30" y2="624.60" stroke="#333" stroke-width="0.9" />
<line x1="260.70" y1="637.00" x2="262.30" y2="637.00" stroke="#333" stroke-width="0.9" />
<line x1="260.70" y1="648.60" x2="262.30" y2="648.60" stroke="#333" stroke-width="0.9" />
<line x1="260.70" y1="660.30" x2="262.30" y2="660.30" stroke="#333" stroke-width="0.9" />
<text x="262.80" y="670.64" font-size="6.3" text-anchor="middle" font-weight="bold" font-family="'Liberation Serif', serif" fill="#222" stroke="#222" stroke-width="0.15">10<tspan font-size="4.41" dy="-2.52">0</tspan></text>
<text x="275.43" y="670.64" font-size="6.3" text-anchor="middle" font-weight="bold" font-family="'Liberation Serif', serif" fill="#222" stroke="#222" stroke-width="0.15">10<tspan font-size="4.41" dy="-2.52">1</tspan></text>
<text x="288.05" y="670.64" font-size="6.3" text-anchor="middle" font-weight="bold" font-family="'Liberation Serif', serif" fill="#222" stroke="#222" stroke-width="0.15">10<tspan font-size="4.41" dy="-2.52">2</tspan></text>
<text x="300.68" y="670.64" font-size="6.3" text-anchor="middle" font-weight="bold" font-family="'Liberation Serif', serif" fill="#222" stroke="#222" stroke-width="0.15">10<tspan font-size="4.41" dy="-2.52">3</tspan></text>
<text x="313.30" y="670.64" font-size="6.3" text-anchor="middle" font-weight="bold" font-family="'Liberation Serif', serif" fill="#222" stroke="#222" stroke-width="0.15">10<tspan font-size="4.41" dy="-2.52">4</tspan></text>
<line x1="258.70" y1="680.40" x2="311.20" y2="680.40" stroke="#111" stroke-width="1.2" />
<path d="M310.70,678.40 L310.70,682.40 L315.20,680.40 Z" fill="#111"/>
<text x="288.70" y="692.47" font-size="10.2" text-anchor="middle" font-weight="bold" font-family="'Liberation Serif', serif" fill="#111" stroke="#111" stroke-width="0.22" >CD27</text>
<rect x="328.70" y="612.30" width="52.70" height="48.00" fill="none" stroke="#555" stroke-width="0.8" />
<path d="M338.80,660.30 L338.80,659.25 L339.50,659.25 L339.50,658.64 L340.20,658.64 L340.20,657.17 L340.90,657.17 L340.90,656.43 L341.60,656.43 L341.60,655.31 L342.30,655.31 L342.30,653.35 L343.00,653.35 L343.00,652.32 L343.70,652.32 L343.70,652.87 L344.40,652.87 L344.40,650.90 L345.10,650.90 L345.10,649.97 L345.80,649.97 L345.80,650.47 L346.50,650.47 L346.50,648.66 L347.20,648.66 L347.20,648.45 L347.90,648.45 L347.90,646.94 L348.60,646.94 L348.60,646.38 L349.30,646.38 L349.30,644.71 L350.00,644.71 L350.00,644.78 L350.70,644.78 L350.70,644.21 L351.40,644.21 L351.40,640.09 L352.10,640.09 L352.10,638.23 L352.80,638.23 L352.80,640.44 L353.50,640.44 L353.50,640.21 L354.20,640.21 L354.20,640.85 L354.90,640.85 L354.90,641.63 L355.60,641.63 L355.60,645.22 L356.30,645.22 L356.30,648.58 L357.00,648.58 L357.00,652.97 L357.70,652.97 L357.70,655.28 L358.40,655.28 L358.40,659.37 L358.80,659.37 L358.80,660.30 Z" fill="#555" stroke="#333" stroke-width="0.5" stroke-linejoin="round" />
<path d="M329.20,650.00 L329.20,650.55 L329.90,650.55 L329.90,653.64 L330.60,653.64 L330.60,654.92 L331.30,654.92 L331.30,656.09 L332.00,656.09 L332.00,655.44 L332.70,655.44 L332.70,655.49 L333.40,655.49 L333.40,655.02 L334.10,655.02 L334.10,654.92 L334.80,654.92 L334.80,656.44 L335.50,656.44 L335.50,655.56 L336.20,655.56 L336.20,656.85 L336.90,656.85 L336.90,655.91 L337.60,655.91 L337.60,655.84 L338.30,655.84 L338.30,655.90 L339.00,655.90 L339.00,655.31 L339.70,655.31 L339.70,652.97 L340.40,652.97 L340.40,650.37 L341.10,650.37 L341.10,651.57 L341.80,651.57 L341.80,651.91 L342.50,651.91 L342.50,653.40 L343.20,653.40 L343.20,652.42 L343.90,652.42 L343.90,651.57 L344.60,651.57 L344.60,650.78 L345.30,650.78 L345.30,649.91 L346.00,649.91 L346.00,649.67 L346.70,649.67 L346.70,648.65 L347.40,648.65 L347.40,646.79 L348.10,646.79 L348.10,647.41 L348.80,647.41 L348.80,645.87 L349.50,645.87 L349.50,645.67 L350.20,645.67 L350.20,644.45 L350.90,644.45 L350.90,642.40 L351.60,642.40 L351.60,638.75 L352.30,638.75 L352.30,638.31 L353.00,638.31 L353.00,640.39 L353.70,640.39 L353.70,639.98 L354.40,639.98 L354.40,640.92 L355.10,640.92 L355.10,643.30 L355.80,643.30 L355.80,647.82 L356.50,647.82 L356.50,649.87 L357.20,649.87 L357.20,650.88 L357.90,650.88 L357.90,652.62 L358.60,652.62 L358.60,652.22 L359.30,652.22 L359.30,653.08 L360.00,653.08 L360.00,652.23 L360.70,652.23 L360.70,651.31 L361.40,651.31 L361.40,651.35 L362.10,651.35 L362.10,652.23 L362.80,652.23 L362.80,651.80 L363.50,651.80 L363.50,652.40 L364.20,652.40 L364.20,652.59 L364.90,652.59 L364.90,651.99 L365.60,651.99 L365.60,651.27 L366.30,651.27 L366.30,651.93 L367.00,651.93 L367.00,650.76 L367.70,650.76 L367.70,649.89 L368.40,649.89 L368.40,648.93 L369.10,648.93 L369.10,648.49 L369.80,648.49 L369.80,647.58 L370.50,647.58 L370.50,648.60 L371.20,648.60 L371.20,648.47 L371.90,648.47 L371.90,645.48 L372.60,645.48 L372.60,649.17 L373.30,649.17 L373.30,652.35 L374.00,652.35 L374.00,652.93 L374.70,652.93 L374.70,655.54 L375.40,655.54 L375.40,657.33 L376.10,657.33 L376.10,657.74 L376.80,657.74 L376.80,657.64 L377.50,657.64 L377.50,657.03 L378.20,657.03 L378.20,658.15 L378.90,658.15 L378.90,659.71 L379.60,659.71 L379.60,660.30 L380.30,660.30 L380.30,660.30 L381.00,660.30 L381.00,659.93 L381.40,659.93 L381.40,660.00" fill="none" stroke="#111" stroke-width="1.35" stroke-linejoin="round" />
<line x1="328.70" y1="660.30" x2="381.40" y2="660.30" stroke="#222" stroke-width="1.0" />
<line x1="328.70" y1="612.30" x2="328.70" y2="660.30" stroke="#333" stroke-width="1.1" stroke-dasharray="2.6,1.1"/>
<line x1="327.10" y1="612.60" x2="328.70" y2="612.60" stroke="#333" stroke-width="0.9" />
<line x1="327.10" y1="624.60" x2="328.70" y2="624.60" stroke="#333" stroke-width="0.9" />
<line x1="327.10" y1="637.00" x2="328.70" y2="637.00" stroke="#333" stroke-width="0.9" />
<line x1="327.10" y1="648.60" x2="328.70" y2="648.60" stroke="#333" stroke-width="0.9" />
<line x1="327.10" y1="660.30" x2="328.70" y2="660.30" stroke="#333" stroke-width="0.9" />
<text x="329.20" y="670.64" font-size="6.3" text-anchor="middle" font-weight="bold" font-family="'Liberation Serif', serif" fill="#222" stroke="#222" stroke-width="0.15">10<tspan font-size="4.41" dy="-2.52">0</tspan></text>
<text x="342.07" y="670.64" font-size="6.3" text-anchor="middle" font-weight="bold" font-family="'Liberation Serif', serif" fill="#222" stroke="#222" stroke-width="0.15">10<tspan font-size="4.41" dy="-2.52">1</tspan></text>
<text x="354.95" y="670.64" font-size="6.3" text-anchor="middle" font-weight="bold" font-family="'Liberation Serif', serif" fill="#222" stroke="#222" stroke-width="0.15">10<tspan font-size="4.41" dy="-2.52">2</tspan></text>
<text x="367.82" y="670.64" font-size="6.3" text-anchor="middle" font-weight="bold" font-family="'Liberation Serif', serif" fill="#222" stroke="#222" stroke-width="0.15">10<tspan font-size="4.41" dy="-2.52">3</tspan></text>
<text x="380.70" y="670.64" font-size="6.3" text-anchor="middle" font-weight="bold" font-family="'Liberation Serif', serif" fill="#222" stroke="#222" stroke-width="0.15">10<tspan font-size="4.41" dy="-2.52">4</tspan></text>
<line x1="325.10" y1="680.40" x2="378.60" y2="680.40" stroke="#111" stroke-width="1.2" />
<path d="M378.10,678.40 L378.10,682.40 L382.60,680.40 Z" fill="#111"/>
<text x="356.60" y="692.47" font-size="10.2" text-anchor="middle" font-weight="bold" font-family="'Liberation Serif', serif" fill="#111" stroke="#111" stroke-width="0.22" >CD57</text>
<rect x="396.10" y="612.30" width="52.30" height="48.00" fill="none" stroke="#555" stroke-width="0.8" />
<path d="M406.80,660.30 L406.80,659.26 L407.50,659.26 L407.50,657.91 L408.20,657.91 L408.20,657.31 L408.90,657.31 L408.90,655.76 L409.60,655.76 L409.60,653.95 L410.30,653.95 L410.30,652.86 L411.00,652.86 L411.00,652.09 L411.70,652.09 L411.70,650.19 L412.40,650.19 L412.40,649.50 L413.10,649.50 L413.10,648.96 L413.80,648.96 L413.80,649.97 L414.50,649.97 L414.50,649.02 L415.20,649.02 L415.20,648.09 L415.90,648.09 L415.90,647.15 L416.60,647.15 L416.60,646.20 L417.30,646.20 L417.30,646.34 L418.00,646.34 L418.00,642.55 L418.70,642.55 L418.70,637.35 L419.40,637.35 L419.40,644.34 L420.10,644.34 L420.10,646.20 L420.80,646.20 L420.80,647.11 L421.50,647.11 L421.50,648.45 L422.20,648.45 L422.20,650.35 L422.90,650.35 L422.90,652.28 L423.60,652.28 L423.60,654.53 L424.30,654.53 L424.30,655.79 L425.00,655.79 L425.00,658.74 L425.70,658.74 L425.70,659.83 L426.10,659.83 L426.10,660.30 Z" fill="#555" stroke="#333" stroke-width="0.5" stroke-linejoin="round" />
<path d="M396.50,657.00 L396.50,656.28 L397.20,656.28 L397.20,657.87 L397.90,657.87 L397.90,658.03 L398.60,658.03 L398.60,658.95 L399.30,658.95 L399.30,657.39 L400.00,657.39 L400.00,657.24 L400.70,657.24 L400.70,658.17 L401.40,658.17 L401.40,657.89 L402.10,657.89 L402.10,657.14 L402.80,657.14 L402.80,658.10 L403.50,658.10 L403.50,657.58 L404.20,657.58 L404.20,658.54 L404.90,658.54 L404.90,657.01 L405.60,657.01 L405.60,656.82 L406.30,656.82 L406.30,657.89 L407.00,657.89 L407.00,656.28 L407.70,656.28 L407.70,655.91 L408.40,655.91 L408.40,657.03 L409.10,657.03 L409.10,656.23 L409.80,656.23 L409.80,653.47 L410.50,653.47 L410.50,652.66 L411.20,652.66 L411.20,651.22 L411.90,651.22 L411.90,648.43 L412.60,648.43 L412.60,649.48 L413.30,649.48 L413.30,648.76 L414.00,648.76 L414.00,649.59 L414.70,649.59 L414.70,648.29 L415.40,648.29 L415.40,647.82 L416.10,647.82 L416.10,648.58 L416.80,648.58 L416.80,646.17 L417.50,646.17 L417.50,646.32 L418.20,646.32 L418.20,640.08 L418.90,640.08 L418.90,639.04 L419.60,639.04 L419.60,646.62 L420.30,646.62 L420.30,647.36 L421.00,647.36 L421.00,646.80 L421.70,646.80 L421.70,648.91 L422.40,648.91 L422.40,650.72 L423.10,650.72 L423.10,651.43 L423.80,651.43 L423.80,651.32 L424.50,651.32 L424.50,652.67 L425.20,652.67 L425.20,651.31 L425.90,651.31 L425.90,647.58 L426.60,647.58 L426.60,645.11 L427.30,645.11 L427.30,641.13 L428.00,641.13 L428.00,638.91 L428.70,638.91 L428.70,635.30 L429.40,635.30 L429.40,631.63 L430.10,631.63 L430.10,631.54 L430.80,631.54 L430.80,628.91 L431.50,628.91 L431.50,629.10 L432.20,629.10 L432.20,629.10 L432.90,629.10 L432.90,631.61 L433.60,631.61 L433.60,631.87 L434.30,631.87 L434.30,634.66 L435.00,634.66 L435.00,636.50 L435.70,636.50 L435.70,640.16 L436.40,640.16 L436.40,643.41 L437.10,643.41 L437.10,645.88 L437.80,645.88 L437.80,648.07 L438.50,648.07 L438.50,650.47 L439.20,650.47 L439.20,651.96 L439.90,651.96 L439.90,653.71 L440.60,653.71 L440.60,654.01 L441.30,654.01 L441.30,655.76 L442.00,655.76 L442.00,656.11 L442.70,656.11 L442.70,658.34 L443.40,658.34 L443.40,659.04 L444.10,659.04 L444.10,657.65 L444.80,657.65 L444.80,658.35 L445.50,658.35 L445.50,659.92 L446.20,659.92 L446.20,659.77 L446.90,659.77 L446.90,658.70 L447.60,658.70 L447.60,659.91 L448.30,659.91 L448.30,659.99 L448.40,659.99 L448.40,660.00" fill="none" stroke="#111" stroke-width="1.35" stroke-linejoin="round" />
<line x1="396.10" y1="660.30" x2="448.40" y2="660.30" stroke="#222" stroke-width="1.0" />
<line x1="396.10" y1="612.30" x2="396.10" y2="660.30" stroke="#333" stroke-width="1.1" stroke-dasharray="2.6,1.1"/>
<line x1="394.50" y1="612.60" x2="396.10" y2="612.60" stroke="#333" stroke-width="0.9" />
<line x1="394.50" y1="624.60" x2="396.10" y2="624.60" stroke="#333" stroke-width="0.9" />
<line x1="394.50" y1="637.00" x2="396.10" y2="637.00" stroke="#333" stroke-width="0.9" />
<line x1="394.50" y1="648.60" x2="396.10" y2="648.60" stroke="#333" stroke-width="0.9" />
<line x1="394.50" y1="660.30" x2="396.10" y2="660.30" stroke="#333" stroke-width="0.9" />
<text x="396.60" y="670.64" font-size="6.3" text-anchor="middle" font-weight="bold" font-family="'Liberation Serif', serif" fill="#222" stroke="#222" stroke-width="0.15">10<tspan font-size="4.41" dy="-2.52">0</tspan></text>
<text x="409.38" y="670.64" font-size="6.3" text-anchor="middle" font-weight="bold" font-family="'Liberation Serif', serif" fill="#222" stroke="#222" stroke-width="0.15">10<tspan font-size="4.41" dy="-2.52">1</tspan></text>
<text x="422.15" y="670.64" font-size="6.3" text-anchor="middle" font-weight="bold" font-family="'Liberation Serif', serif" fill="#222" stroke="#222" stroke-width="0.15">10<tspan font-size="4.41" dy="-2.52">2</tspan></text>
<text x="434.92" y="670.64" font-size="6.3" text-anchor="middle" font-weight="bold" font-family="'Liberation Serif', serif" fill="#222" stroke="#222" stroke-width="0.15">10<tspan font-size="4.41" dy="-2.52">3</tspan></text>
<text x="447.70" y="670.64" font-size="6.3" text-anchor="middle" font-weight="bold" font-family="'Liberation Serif', serif" fill="#222" stroke="#222" stroke-width="0.15">10<tspan font-size="4.41" dy="-2.52">4</tspan></text>
<line x1="392.50" y1="680.40" x2="445.60" y2="680.40" stroke="#111" stroke-width="1.2" />
<path d="M445.10,678.40 L445.10,682.40 L449.60,680.40 Z" fill="#111"/>
<text x="421.50" y="692.47" font-size="10.2" text-anchor="middle" font-weight="bold" font-family="'Liberation Serif', serif" fill="#111" stroke="#111" stroke-width="0.22" >CD44</text>
<rect x="463.10" y="612.30" width="52.60" height="48.00" fill="none" stroke="#555" stroke-width="0.8" />
<path d="M463.60,660.30 L463.60,658.46 L464.30,658.46 L464.30,655.14 L465.00,655.14 L465.00,653.83 L465.70,653.83 L465.70,652.75 L466.40,652.75 L466.40,651.68 L467.10,651.68 L467.10,651.31 L467.80,651.31 L467.80,649.30 L468.50,649.30 L468.50,650.79 L469.20,650.79 L469.20,652.35 L469.90,652.35 L469.90,651.83 L470.60,651.83 L470.60,651.06 L471.30,651.06 L471.30,648.42 L472.00,648.42 L472.00,648.71 L472.70,648.71 L472.70,648.83 L473.40,648.83 L473.40,649.89 L474.10,649.89 L474.10,650.36 L474.80,650.36 L474.80,649.70 L475.50,649.70 L475.50,650.42 L476.20,650.42 L476.20,651.02 L476.90,651.02 L476.90,652.69 L477.60,652.69 L477.60,652.94 L478.30,652.94 L478.30,651.07 L479.00,651.07 L479.00,651.35 L479.70,651.35 L479.70,649.45 L480.40,649.45 L480.40,651.71 L481.10,651.71 L481.10,652.23 L481.80,652.23 L481.80,653.25 L482.50,653.25 L482.50,655.52 L483.20,655.52 L483.20,655.03 L483.90,655.03 L483.90,655.61 L484.60,655.61 L484.60,657.34 L485.30,657.34 L485.30,657.50 L486.00,657.50 L486.00,656.88 L486.70,656.88 L486.70,658.62 L487.40,658.62 L487.40,658.38 L488.10,658.38 L488.10,659.23 L488.80,659.23 L488.80,659.00 L489.50,659.00 L489.50,660.07 L490.00,660.07 L490.00,660.30 Z" fill="#555" stroke="#333" stroke-width="0.5" stroke-linejoin="round" />
<path d="M463.50,648.80 L463.50,649.74 L464.20,649.74 L464.20,647.46 L464.90,647.46 L464.90,648.88 L465.60,648.88 L465.60,647.44 L466.30,647.44 L466.30,648.27 L467.00,648.27 L467.00,644.32 L467.70,644.32 L467.70,648.20 L468.40,648.20 L468.40,650.78 L469.10,650.78 L469.10,649.83 L469.80,649.83 L469.80,648.47 L470.50,648.47 L470.50,645.56 L471.20,645.56 L471.20,645.29 L471.90,645.29 L471.90,645.63 L472.60,645.63 L472.60,643.39 L473.30,643.39 L473.30,642.56 L474.00,642.56 L474.00,645.17 L474.70,645.17 L474.70,648.60 L475.40,648.60 L475.40,649.53 L476.10,649.53 L476.10,650.13 L476.80,650.13 L476.80,649.20 L477.50,649.20 L477.50,651.08 L478.20,651.08 L478.20,650.51 L478.90,650.51 L478.90,649.38 L479.60,649.38 L479.60,648.90 L480.30,648.90 L480.30,648.09 L481.00,648.09 L481.00,649.71 L481.70,649.71 L481.70,652.76 L482.40,652.76 L482.40,652.84 L483.10,652.84 L483.10,653.83 L483.80,653.83 L483.80,655.16 L484.50,655.16 L484.50,655.08 L485.20,655.08 L485.20,655.12 L485.90,655.12 L485.90,656.69 L486.60,656.69 L486.60,657.55 L487.30,657.55 L487.30,656.95 L488.00,656.95 L488.00,658.29 L488.70,658.29 L488.70,656.59 L489.40,656.59 L489.40,657.19 L490.10,657.19 L490.10,657.61 L490.80,657.61 L490.80,659.66 L491.50,659.66 L491.50,659.48 L492.20,659.48 L492.20,659.89 L492.90,659.89 L492.90,659.06 L493.60,659.06 L493.60,659.64 L494.30,659.64 L494.30,660.30 L495.00,660.30 L495.00,659.89 L495.70,659.89 L495.70,660.00 L496.40,660.00 L496.40,660.00 L497.10,660.00 L497.10,660.00 L497.80,660.00 L497.80,660.00 L498.50,660.00 L498.50,660.00 L499.20,660.00 L499.20,660.00 L499.90,660.00 L499.90,660.00 L500.60,660.00 L500.60,660.00 L501.30,660.00 L501.30,660.00 L502.00,660.00 L502.00,660.00 L502.70,660.00 L502.70,660.00 L503.40,660.00 L503.40,660.00 L504.10,660.00 L504.10,660.00 L504.80,660.00 L504.80,660.00 L505.50,660.00 L505.50,660.00 L506.20,660.00 L506.20,660.00 L506.90,660.00 L506.90,660.00 L507.60,660.00 L507.60,660.00 L508.30,660.00 L508.30,660.00 L509.00,660.00 L509.00,660.00 L509.70,660.00 L509.70,660.00 L510.40,660.00 L510.40,660.00 L511.10,660.00 L511.10,660.00 L511.80,660.00 L511.80,660.00 L512.50,660.00 L512.50,660.00 L513.20,660.00 L513.20,660.00 L513.90,660.00 L513.90,660.00 L514.60,660.00 L514.60,660.00 L515.00,660.00 L515.00,660.00" fill="none" stroke="#111" stroke-width="1.35" stroke-linejoin="round" />
<line x1="463.10" y1="660.30" x2="515.70" y2="660.30" stroke="#222" stroke-width="1.0" />
<line x1="463.10" y1="612.30" x2="463.10" y2="660.30" stroke="#333" stroke-width="1.1" stroke-dasharray="2.6,1.1"/>
<line x1="461.50" y1="612.60" x2="463.10" y2="612.60" stroke="#333" stroke-width="0.9" />
<line x1="461.50" y1="624.60" x2="463.10" y2="624.60" stroke="#333" stroke-width="0.9" />
<line x1="461.50" y1="637.00" x2="463.10" y2="637.00" stroke="#333" stroke-width="0.9" />
<line x1="461.50" y1="648.60" x2="463.10" y2="648.60" stroke="#333" stroke-width="0.9" />
<line x1="461.50" y1="660.30" x2="463.10" y2="660.30" stroke="#333" stroke-width="0.9" />
<text x="463.60" y="670.64" font-size="6.3" text-anchor="middle" font-weight="bold" font-family="'Liberation Serif', serif" fill="#222" stroke="#222" stroke-width="0.15">10<tspan font-size="4.41" dy="-2.52">0</tspan></text>
<text x="476.45" y="670.64" font-size="6.3" text-anchor="middle" font-weight="bold" font-family="'Liberation Serif', serif" fill="#222" stroke="#222" stroke-width="0.15">10<tspan font-size="4.41" dy="-2.52">1</tspan></text>
<text x="489.30" y="670.64" font-size="6.3" text-anchor="middle" font-weight="bold" font-family="'Liberation Serif', serif" fill="#222" stroke="#222" stroke-width="0.15">10<tspan font-size="4.41" dy="-2.52">2</tspan></text>
<text x="502.15" y="670.64" font-size="6.3" text-anchor="middle" font-weight="bold" font-family="'Liberation Serif', serif" fill="#222" stroke="#222" stroke-width="0.15">10<tspan font-size="4.41" dy="-2.52">3</tspan></text>
<text x="515.00" y="670.64" font-size="6.3" text-anchor="middle" font-weight="bold" font-family="'Liberation Serif', serif" fill="#222" stroke="#222" stroke-width="0.15">10<tspan font-size="4.41" dy="-2.52">4</tspan></text>
<line x1="459.50" y1="680.40" x2="512.90" y2="680.40" stroke="#111" stroke-width="1.2" />
<path d="M512.40,678.40 L512.40,682.40 L516.90,680.40 Z" fill="#111"/>
<text x="489.60" y="692.47" font-size="10.2" text-anchor="middle" font-weight="bold" font-family="'Liberation Serif', serif" fill="#111" stroke="#111" stroke-width="0.22" >CCR-7</text>
<line x1="113.00" y1="619.50" x2="113.00" y2="669.90" stroke="#111" stroke-width="1.2" />
<path d="M111.00,620.00 L115.00,620.00 L113.00,615.50 Z" fill="#111"/>
<text x="0" y="0" transform="translate(112.66,642.20) rotate(-90)" font-size="9.6" text-anchor="middle" font-weight="bold" font-family="'Liberation Serif', serif" fill="#111" stroke="#111" stroke-width="0.22" >Counts</text>
<text x="90" y="725.24" font-size="15.7" font-weight="bold" font-family="'Liberation Serif', serif" fill="#111">CD8<tspan font-size="10" dy="-6">+</tspan><tspan dy="6"> hTERT</tspan></text>
<text x="326" y="725.64" font-size="15.7" font-weight="bold" font-family="'Liberation Serif', serif" fill="#111">CD8<tspan font-size="10" dy="-6">+</tspan><tspan dy="6"> LAMP hTERT</tspan></text>
<rect x="36.00" y="739.60" width="59.60" height="44.00" fill="none" stroke="#444" stroke-width="0.8" />
<path d="M36.50,783.60 L36.50,775.13 L37.60,775.13 L37.60,772.60 L38.70,772.60 L38.70,768.19 L39.80,768.19 L39.80,767.03 L40.90,767.03 L40.90,761.96 L42.00,761.96 L42.00,761.15 L43.10,761.15 L43.10,759.91 L44.20,759.91 L44.20,763.30 L45.30,763.30 L45.30,765.21 L46.40,765.21 L46.40,766.47 L47.50,766.47 L47.50,763.81 L48.60,763.81 L48.60,766.22 L49.70,766.22 L49.70,755.99 L50.80,755.99 L50.80,756.16 L51.90,756.16 L51.90,766.67 L53.00,766.67 L53.00,768.83 L54.10,768.83 L54.10,763.06 L55.20,763.06 L55.20,772.94 L56.30,772.94 L56.30,767.00 L57.40,767.00 L57.40,766.51 L58.50,766.51 L58.50,776.60 L59.60,776.60 L59.60,777.05 L60.70,777.05 L60.70,779.80 L61.80,779.80 L61.80,780.76 L62.90,780.76 L62.90,783.49 L63.00,783.49 L63.00,783.60 Z" fill="#c9c9c9" stroke="#666" stroke-width="0.8" stroke-linejoin="round" />
<path d="M36.50,783.60 L36.50,773.39 L37.50,773.39 L37.50,769.46 L38.50,769.46 L38.50,772.31 L39.50,772.31 L39.50,764.74 L40.50,764.74 L40.50,765.10 L41.50,765.10 L41.50,759.14 L42.50,759.14 L42.50,759.65 L43.50,759.65 L43.50,762.10 L44.50,762.10 L44.50,758.47 L45.50,758.47 L45.50,766.07 L46.50,766.07 L46.50,762.89 L47.50,762.89 L47.50,765.66 L48.50,765.66 L48.50,763.99 L49.50,763.99 L49.50,761.05 L50.50,761.05 L50.50,760.28 L51.50,760.28 L51.50,759.17 L52.50,759.17 L52.50,768.63 L53.50,768.63 L53.50,771.11 L54.50,771.11 L54.50,768.55 L55.50,768.55 L55.50,769.82 L56.50,769.82 L56.50,773.21 L57.50,773.21 L57.50,769.94 L58.50,769.94 L58.50,774.06 L59.50,774.06 L59.50,771.23 L60.50,771.23 L60.50,781.22 L61.50,781.22 L61.50,783.45 L62.50,783.45 L62.50,783.19 L63.00,783.19 L63.00,783.60" fill="none" stroke="#555" stroke-width="0.8" stroke-linejoin="round" />
<path d="M36.50,770.00 L36.50,768.87 L37.50,768.87 L37.50,763.56 L38.50,763.56 L38.50,766.99 L39.50,766.99 L39.50,770.47 L40.50,770.47 L40.50,772.04 L41.50,772.04 L41.50,770.57 L42.50,770.57 L42.50,760.19 L43.50,760.19 L43.50,763.78 L44.50,763.78 L44.50,762.17 L45.50,762.17 L45.50,758.80 L46.50,758.80 L46.50,745.57 L47.50,745.57 L47.50,749.54 L48.50,749.54 L48.50,750.49 L49.50,750.49 L49.50,753.05 L50.50,753.05 L50.50,744.98 L51.50,744.98 L51.50,755.01 L52.50,755.01 L52.50,747.26 L53.50,747.26 L53.50,749.82 L54.50,749.82 L54.50,753.89 L55.50,753.89 L55.50,758.80 L56.50,758.80 L56.50,762.96 L57.50,762.96 L57.50,765.91 L58.50,765.91 L58.50,770.07 L59.50,770.07 L59.50,765.79 L60.50,765.79 L60.50,765.20 L61.50,765.20 L61.50,774.97 L62.50,774.97 L62.50,775.31 L63.50,775.31 L63.50,776.36 L64.50,776.36 L64.50,779.84 L65.50,779.84 L65.50,779.37 L66.50,779.37 L66.50,779.01 L67.50,779.01 L67.50,778.07 L68.50,778.07 L68.50,778.27 L69.50,778.27 L69.50,779.65 L70.50,779.65 L70.50,778.46 L71.50,778.46 L71.50,779.05 L72.50,779.05 L72.50,782.63 L73.50,782.63 L73.50,783.60 L74.50,783.60 L74.50,783.09 L75.50,783.09 L75.50,783.60 L76.50,783.60 L76.50,782.07 L77.50,782.07 L77.50,781.02 L78.50,781.02 L78.50,780.57 L79.50,780.57 L79.50,781.72 L80.50,781.72 L80.50,779.90 L81.50,779.90 L81.50,777.53 L82.50,777.53 L82.50,780.46 L83.50,780.46 L83.50,783.05 L84.50,783.05 L84.50,783.12 L85.50,783.12 L85.50,783.16 L86.50,783.16 L86.50,783.21 L87.50,783.21 L87.50,783.25 L88.50,783.25 L88.50,783.30 L89.50,783.30 L89.50,783.35 L90.50,783.35 L90.50,783.39 L91.50,783.39 L91.50,783.44 L92.50,783.44 L92.50,783.48 L93.50,783.48 L93.50,783.53 L94.50,783.53 L94.50,783.57 L95.50,783.57 L95.50,783.60 L95.60,783.60 L95.60,783.60" fill="none" stroke="#111" stroke-width="1.6" stroke-linejoin="round" />
<path d="M40.50,773.47 L40.50,775.04 L41.50,775.04 L41.50,773.57 L42.50,773.57 L42.50,763.19 L43.50,763.19 L43.50,766.78 L44.50,766.78 L44.50,765.17 L45.50,765.17 L45.50,761.80 L46.50,761.80 L46.50,748.57 L47.50,748.57 L47.50,752.54 L48.50,752.54 L48.50,753.49 L49.50,753.49 L49.50,756.05 L50.50,756.05 L50.50,747.98 L51.50,747.98 L51.50,758.01 L52.50,758.01 L52.50,750.26 L53.50,750.26 L53.50,752.82 L54.50,752.82 L54.50,756.89 L55.50,756.89 L55.50,761.80 L56.50,761.80 L56.50,765.96 L57.50,765.96 L57.50,768.91" fill="none" stroke="#111" stroke-width="2.2" stroke-linejoin="round" />
<path d="M41.50,778.04 L41.50,776.57 L42.50,776.57 L42.50,766.19 L43.50,766.19 L43.50,769.78 L44.50,769.78 L44.50,768.17 L45.50,768.17 L45.50,764.80 L46.50,764.80 L46.50,751.57 L47.50,751.57 L47.50,755.54 L48.50,755.54 L48.50,756.49 L49.50,756.49 L49.50,759.05 L50.50,759.05 L50.50,750.98 L51.50,750.98 L51.50,761.01 L52.50,761.01 L52.50,753.26 L53.50,753.26 L53.50,755.82 L54.50,755.82 L54.50,759.89 L55.50,759.89 L55.50,764.80 L56.50,764.80 L56.50,768.96" fill="none" stroke="#222" stroke-width="1.6" stroke-linejoin="round" />
<path d="M62.50,776.97 L62.50,777.31 L63.50,777.31 L63.50,778.36 L64.50,778.36 L64.50,781.84 L65.50,781.84 L65.50,781.37 L66.50,781.37 L66.50,781.01 L67.50,781.01 L67.50,780.07 L68.50,780.07 L68.50,780.27 L69.50,780.27 L69.50,781.65 L70.50,781.65 L70.50,780.46 L71.50,780.46 L71.50,781.05 L72.50,781.05 L72.50,783.60 L73.50,783.60 L73.50,783.60" fill="none" stroke="#111" stroke-width="2.2" stroke-linejoin="round" />
<path d="M63.50,779.31 L63.50,780.36 L64.50,780.36 L64.50,783.60 L65.50,783.60 L65.50,783.37 L66.50,783.37 L66.50,783.01 L67.50,783.01 L67.50,782.07 L68.50,782.07 L68.50,782.27 L69.50,782.27 L69.50,783.60 L70.50,783.60 L70.50,782.46 L71.50,782.46 L71.50,783.05 L72.50,783.05 L72.50,783.60" fill="none" stroke="#222" stroke-width="1.6" stroke-linejoin="round" />
<line x1="36.00" y1="783.60" x2="95.60" y2="783.60" stroke="#222" stroke-width="1.0" />
<line x1="36.30" y1="739.60" x2="36.30" y2="783.60" stroke="#111" stroke-width="1.6" />
<text x="33.80" y="742.30" font-size="5.3" text-anchor="end" font-weight="bold" font-family="'Liberation Sans', sans-serif" fill="#222" stroke="#222" stroke-width="0.1" >8</text>
<line x1="34.50" y1="740.50" x2="36.00" y2="740.50" stroke="#333" stroke-width="0.6" />
<text x="33.80" y="753.10" font-size="5.3" text-anchor="end" font-weight="bold" font-family="'Liberation Sans', sans-serif" fill="#222" stroke="#222" stroke-width="0.1" >6</text>
<line x1="34.50" y1="751.30" x2="36.00" y2="751.30" stroke="#333" stroke-width="0.6" />
<text x="33.80" y="763.80" font-size="5.3" text-anchor="end" font-weight="bold" font-family="'Liberation Sans', sans-serif" fill="#222" stroke="#222" stroke-width="0.1" >4</text>
<line x1="34.50" y1="762.00" x2="36.00" y2="762.00" stroke="#333" stroke-width="0.6" />
<text x="33.80" y="774.50" font-size="5.3" text-anchor="end" font-weight="bold" font-family="'Liberation Sans', sans-serif" fill="#222" stroke="#222" stroke-width="0.1" >2</text>
<line x1="34.50" y1="772.70" x2="36.00" y2="772.70" stroke="#333" stroke-width="0.6" />
<text x="33.80" y="785.10" font-size="5.3" text-anchor="end" font-weight="bold" font-family="'Liberation Sans', sans-serif" fill="#222" stroke="#222" stroke-width="0.1" >0</text>
<line x1="34.50" y1="783.30" x2="36.00" y2="783.30" stroke="#333" stroke-width="0.6" />
<text x="37.50" y="792.84" font-size="6" text-anchor="middle" font-weight="normal" font-family="'Liberation Sans', sans-serif" fill="#222">10<tspan font-size="4.20" dy="-2.40">0</tspan></text>
<text x="52.02" y="792.84" font-size="6" text-anchor="middle" font-weight="normal" font-family="'Liberation Sans', sans-serif" fill="#222">10<tspan font-size="4.20" dy="-2.40">1</tspan></text>
<text x="66.55" y="792.84" font-size="6" text-anchor="middle" font-weight="normal" font-family="'Liberation Sans', sans-serif" fill="#222">10<tspan font-size="4.20" dy="-2.40">2</tspan></text>
<text x="81.07" y="792.84" font-size="6" text-anchor="middle" font-weight="normal" font-family="'Liberation Sans', sans-serif" fill="#222">10<tspan font-size="4.20" dy="-2.40">3</tspan></text>
<text x="95.60" y="792.84" font-size="6" text-anchor="middle" font-weight="normal" font-family="'Liberation Sans', sans-serif" fill="#222">10<tspan font-size="4.20" dy="-2.40">4</tspan></text>
<text x="67.30" y="798.20" font-size="5.6" text-anchor="middle" font-weight="normal" font-family="'Liberation Sans', sans-serif" fill="#111" stroke="#111" stroke-width="0.15" >FL4-H</text>
<text x="0" y="0" transform="translate(25.84,762.50) rotate(-90)" font-size="5.4" text-anchor="middle" font-weight="normal" font-family="'Liberation Sans', sans-serif" fill="#222" >Counts</text>
<line x1="36.50" y1="802.20" x2="89.30" y2="802.20" stroke="#111" stroke-width="2.2" />
<path d="M88.80,799.60 L88.80,804.80 L94.30,802.20 Z" fill="#111"/>
<text x="62.80" y="820.02" font-size="13" text-anchor="middle" font-weight="bold" font-family="'Liberation Serif', serif" fill="#111" stroke="#111" stroke-width="0.22" >IL-2</text>
<rect x="117.80" y="739.60" width="58.60" height="44.00" fill="none" stroke="#444" stroke-width="0.8" />
<path d="M118.00,783.60 L118.00,767.06 L119.10,767.06 L119.10,768.94 L120.20,768.94 L120.20,767.26 L121.30,767.26 L121.30,767.68 L122.40,767.68 L122.40,763.17 L123.50,763.17 L123.50,759.51 L124.60,759.51 L124.60,756.58 L125.70,756.58 L125.70,760.43 L126.80,760.43 L126.80,759.67 L127.90,759.67 L127.90,760.06 L129.00,760.06 L129.00,750.15 L130.10,750.15 L130.10,740.50 L131.20,740.50 L131.20,749.91 L132.30,749.91 L132.30,756.43 L133.40,756.43 L133.40,762.20 L134.50,762.20 L134.50,763.21 L135.60,763.21 L135.60,757.87 L136.70,757.87 L136.70,764.39 L137.80,764.39 L137.80,765.88 L138.90,765.88 L138.90,771.93 L140.00,771.93 L140.00,774.59 L141.10,774.59 L141.10,773.42 L142.20,773.42 L142.20,780.95 L143.30,780.95 L143.30,783.60 L144.20,783.60 L144.20,783.60 Z" fill="#c9c9c9" stroke="#666" stroke-width="0.8" stroke-linejoin="round" />
<path d="M118.00,783.60 L118.00,767.81 L119.00,767.81 L119.00,766.73 L120.00,766.73 L120.00,768.79 L121.00,768.79 L121.00,767.77 L122.00,767.77 L122.00,765.66 L123.00,765.66 L123.00,762.91 L124.00,762.91 L124.00,763.20 L125.00,763.20 L125.00,753.94 L126.00,753.94 L126.00,759.84 L127.00,759.84 L127.00,756.01 L128.00,756.01 L128.00,756.51 L129.00,756.51 L129.00,755.24 L130.00,755.24 L130.00,745.63 L131.00,745.63 L131.00,745.87 L132.00,745.87 L132.00,756.66 L133.00,756.66 L133.00,762.72 L134.00,762.72 L134.00,760.89 L135.00,760.89 L135.00,764.77 L136.00,764.77 L136.00,763.31 L137.00,763.31 L137.00,767.37 L138.00,767.37 L138.00,765.73 L139.00,765.73 L139.00,770.04 L140.00,770.04 L140.00,773.37 L141.00,773.37 L141.00,769.08 L142.00,769.08 L142.00,780.10 L143.00,780.10 L143.00,782.91 L144.00,782.91 L144.00,783.33 L144.20,783.33 L144.20,783.60" fill="none" stroke="#555" stroke-width="0.8" stroke-linejoin="round" />
<path d="M118.00,760.00 L118.00,758.01 L119.00,758.01 L119.00,770.68 L120.00,770.68 L120.00,777.61 L121.00,777.61 L121.00,777.17 L122.00,777.17 L122.00,774.79 L123.00,774.79 L123.00,778.73 L124.00,778.73 L124.00,778.43 L125.00,778.43 L125.00,780.77 L126.00,780.77 L126.00,775.37 L127.00,775.37 L127.00,774.14 L128.00,774.14 L128.00,772.13 L129.00,772.13 L129.00,773.74 L130.00,773.74 L130.00,775.19 L131.00,775.19 L131.00,770.43 L132.00,770.43 L132.00,771.28 L133.00,771.28 L133.00,765.12 L134.00,765.12 L134.00,767.44 L135.00,767.44 L135.00,761.27 L136.00,761.27 L136.00,754.90 L137.00,754.90 L137.00,743.62 L138.00,743.62 L138.00,745.36 L139.00,745.36 L139.00,748.75 L140.00,748.75 L140.00,750.38 L141.00,750.38 L141.00,750.33 L142.00,750.33 L142.00,749.53 L143.00,749.53 L143.00,760.29 L144.00,760.29 L144.00,754.28 L145.00,754.28 L145.00,766.46 L146.00,766.46 L146.00,766.34 L147.00,766.34 L147.00,772.92 L148.00,772.92 L148.00,770.71 L149.00,770.71 L149.00,776.08 L150.00,776.08 L150.00,777.72 L151.00,777.72 L151.00,769.43 L152.00,769.43 L152.00,773.01 L153.00,773.01 L153.00,780.31 L154.00,780.31 L154.00,779.07 L155.00,779.07 L155.00,780.70 L156.00,780.70 L156.00,780.59 L157.00,780.59 L157.00,783.60 L158.00,783.60 L158.00,783.60 L159.00,783.60 L159.00,783.60 L160.00,783.60 L160.00,783.60 L161.00,783.60 L161.00,783.60 L162.00,783.60 L162.00,783.60 L163.00,783.60 L163.00,783.60 L164.00,783.60 L164.00,783.60 L165.00,783.60 L165.00,783.60 L166.00,783.60 L166.00,783.60 L167.00,783.60 L167.00,783.60 L168.00,783.60 L168.00,783.60 L169.00,783.60 L169.00,783.60 L170.00,783.60 L170.00,783.60 L171.00,783.60 L171.00,783.60 L172.00,783.60 L172.00,783.60 L173.00,783.60 L173.00,783.60 L174.00,783.60 L174.00,783.60 L175.00,783.60 L175.00,783.60 L176.00,783.60 L176.00,783.60" fill="none" stroke="#111" stroke-width="1.6" stroke-linejoin="round" />
<path d="M134.00,768.62 L134.00,770.94 L135.00,770.94 L135.00,764.77 L136.00,764.77 L136.00,758.40 L137.00,758.40 L137.00,747.12 L138.00,747.12 L138.00,748.86 L139.00,748.86 L139.00,752.25 L140.00,752.25 L140.00,753.88 L141.00,753.88 L141.00,753.83 L142.00,753.83 L142.00,753.03 L143.00,753.03 L143.00,763.79 L144.00,763.79 L144.00,757.78" fill="none" stroke="#111" stroke-width="2.2" stroke-linejoin="round" />
<path d="M135.00,774.44 L135.00,768.27 L136.00,768.27 L136.00,761.90 L137.00,761.90 L137.00,750.62 L138.00,750.62 L138.00,752.36 L139.00,752.36 L139.00,755.75 L140.00,755.75 L140.00,757.38 L141.00,757.38 L141.00,757.33 L142.00,757.33 L142.00,756.53 L143.00,756.53 L143.00,767.29" fill="none" stroke="#222" stroke-width="1.6" stroke-linejoin="round" />
<path d="M118.00,763.00 L118.00,761.01 L119.00,761.01 L119.00,773.68 L120.00,773.68 L120.00,780.61" fill="none" stroke="#111" stroke-width="2.2" stroke-linejoin="round" />
<path d="M119.00,764.01 L119.00,776.68" fill="none" stroke="#222" stroke-width="1.6" stroke-linejoin="round" />
<path d="M151.00,779.72 L151.00,771.43 L152.00,771.43 L152.00,775.01 L153.00,775.01 L153.00,782.31 L154.00,782.31 L154.00,781.07 L155.00,781.07 L155.00,782.70 L156.00,782.70 L156.00,782.59 L157.00,782.59 L157.00,783.60" fill="none" stroke="#111" stroke-width="2.2" stroke-linejoin="round" />
<path d="M152.00,773.43 L152.00,777.01 L153.00,777.01 L153.00,783.60 L154.00,783.60 L154.00,783.07 L155.00,783.07 L155.00,783.60 L156.00,783.60 L156.00,783.60" fill="none" stroke="#222" stroke-width="1.6" stroke-linejoin="round" />
<line x1="117.80" y1="783.60" x2="176.40" y2="783.60" stroke="#222" stroke-width="1.0" />
<line x1="118.10" y1="739.60" x2="118.10" y2="783.60" stroke="#111" stroke-width="1.6" />
<text x="115.60" y="742.30" font-size="5.3" text-anchor="end" font-weight="bold" font-family="'Liberation Sans', sans-serif" fill="#222" stroke="#222" stroke-width="0.1" >8</text>
<line x1="116.30" y1="740.50" x2="117.80" y2="740.50" stroke="#333" stroke-width="0.6" />
<text x="115.60" y="753.10" font-size="5.3" text-anchor="end" font-weight="bold" font-family="'Liberation Sans', sans-serif" fill="#222" stroke="#222" stroke-width="0.1" >6</text>
<line x1="116.30" y1="751.30" x2="117.80" y2="751.30" stroke="#333" stroke-width="0.6" />
<text x="115.60" y="763.80" font-size="5.3" text-anchor="end" font-weight="bold" font-family="'Liberation Sans', sans-serif" fill="#222" stroke="#222" stroke-width="0.1" >4</text>
<line x1="116.30" y1="762.00" x2="117.80" y2="762.00" stroke="#333" stroke-width="0.6" />
<text x="115.60" y="774.50" font-size="5.3" text-anchor="end" font-weight="bold" font-family="'Liberation Sans', sans-serif" fill="#222" stroke="#222" stroke-width="0.1" >2</text>
<line x1="116.30" y1="772.70" x2="117.80" y2="772.70" stroke="#333" stroke-width="0.6" />
<text x="115.60" y="785.10" font-size="5.3" text-anchor="end" font-weight="bold" font-family="'Liberation Sans', sans-serif" fill="#222" stroke="#222" stroke-width="0.1" >0</text>
<line x1="116.30" y1="783.30" x2="117.80" y2="783.30" stroke="#333" stroke-width="0.6" />
<text x="119.30" y="792.84" font-size="6" text-anchor="middle" font-weight="normal" font-family="'Liberation Sans', sans-serif" fill="#222">10<tspan font-size="4.20" dy="-2.40">0</tspan></text>
<text x="133.57" y="792.84" font-size="6" text-anchor="middle" font-weight="normal" font-family="'Liberation Sans', sans-serif" fill="#222">10<tspan font-size="4.20" dy="-2.40">1</tspan></text>
<text x="147.85" y="792.84" font-size="6" text-anchor="middle" font-weight="normal" font-family="'Liberation Sans', sans-serif" fill="#222">10<tspan font-size="4.20" dy="-2.40">2</tspan></text>
<text x="162.12" y="792.84" font-size="6" text-anchor="middle" font-weight="normal" font-family="'Liberation Sans', sans-serif" fill="#222">10<tspan font-size="4.20" dy="-2.40">3</tspan></text>
<text x="176.40" y="792.84" font-size="6" text-anchor="middle" font-weight="normal" font-family="'Liberation Sans', sans-serif" fill="#222">10<tspan font-size="4.20" dy="-2.40">4</tspan></text>
<text x="148.60" y="798.20" font-size="5.6" text-anchor="middle" font-weight="normal" font-family="'Liberation Sans', sans-serif" fill="#111" stroke="#111" stroke-width="0.15" >FL4-H</text>
<text x="0" y="0" transform="translate(107.64,762.50) rotate(-90)" font-size="5.4" text-anchor="middle" font-weight="normal" font-family="'Liberation Sans', sans-serif" fill="#222" >Counts</text>
<line x1="118.30" y1="802.20" x2="170.10" y2="802.20" stroke="#111" stroke-width="2.2" />
<path d="M169.60,799.60 L169.60,804.80 L175.10,802.20 Z" fill="#111"/>
<text x="147.60" y="820.02" font-size="13" text-anchor="middle" font-weight="bold" font-family="'Liberation Serif', serif" fill="#111" stroke="#111" stroke-width="0.22" >IFN-&#947;</text>
<rect x="199.60" y="739.60" width="59.00" height="44.00" fill="none" stroke="#444" stroke-width="0.8" />
<path d="M200.00,783.60 L200.00,777.59 L201.10,777.59 L201.10,778.33 L202.20,778.33 L202.20,772.92 L203.30,772.92 L203.30,771.55 L204.40,771.55 L204.40,768.64 L205.50,768.64 L205.50,764.98 L206.60,764.98 L206.60,763.41 L207.70,763.41 L207.70,763.20 L208.80,763.20 L208.80,759.69 L209.90,759.69 L209.90,760.70 L211.00,760.70 L211.00,750.59 L212.10,750.59 L212.10,747.36 L213.20,747.36 L213.20,749.25 L214.30,749.25 L214.30,756.83 L215.40,756.83 L215.40,758.77 L216.50,758.77 L216.50,762.65 L217.60,762.65 L217.60,765.20 L218.70,765.20 L218.70,762.90 L219.80,762.90 L219.80,772.40 L220.90,772.40 L220.90,772.98 L222.00,772.98 L222.00,773.81 L223.10,773.81 L223.10,776.61 L224.20,776.61 L224.20,777.12 L225.30,777.12 L225.30,781.74 L226.40,781.74 L226.40,782.05 L227.20,782.05 L227.20,783.60 Z" fill="#c9c9c9" stroke="#666" stroke-width="0.8" stroke-linejoin="round" />
<path d="M200.00,783.60 L200.00,775.08 L201.00,775.08 L201.00,775.22 L202.00,775.22 L202.00,775.75 L203.00,775.75 L203.00,770.86 L204.00,770.86 L204.00,768.41 L205.00,768.41 L205.00,764.10 L206.00,764.10 L206.00,764.81 L207.00,764.81 L207.00,760.10 L208.00,760.10 L208.00,756.86 L209.00,756.86 L209.00,762.49 L210.00,762.49 L210.00,758.23 L211.00,758.23 L211.00,748.20 L212.00,748.20 L212.00,749.27 L213.00,749.27 L213.00,747.08 L214.00,747.08 L214.00,756.18 L215.00,756.18 L215.00,756.99 L216.00,756.99 L216.00,760.85 L217.00,760.85 L217.00,763.97 L218.00,763.97 L218.00,762.38 L219.00,762.38 L219.00,763.76 L220.00,763.76 L220.00,770.29 L221.00,770.29 L221.00,775.50 L222.00,775.50 L222.00,774.99 L223.00,774.99 L223.00,775.29 L224.00,775.29 L224.00,778.01 L225.00,778.01 L225.00,777.52 L226.00,777.52 L226.00,780.09 L227.00,780.09 L227.00,783.34 L227.20,783.34 L227.20,783.60" fill="none" stroke="#555" stroke-width="0.8" stroke-linejoin="round" />
<path d="M200.00,773.00 L200.00,770.01 L201.00,770.01 L201.00,769.59 L202.00,769.59 L202.00,769.01 L203.00,769.01 L203.00,765.82 L204.00,765.82 L204.00,772.68 L205.00,772.68 L205.00,776.21 L206.00,776.21 L206.00,767.06 L207.00,767.06 L207.00,764.89 L208.00,764.89 L208.00,773.16 L209.00,773.16 L209.00,772.08 L210.00,772.08 L210.00,759.11 L211.00,759.11 L211.00,762.25 L212.00,762.25 L212.00,759.48 L213.00,759.48 L213.00,762.49 L214.00,762.49 L214.00,758.29 L215.00,758.29 L215.00,765.03 L216.00,765.03 L216.00,767.99 L217.00,767.99 L217.00,760.32 L218.00,760.32 L218.00,757.71 L219.00,757.71 L219.00,763.28 L220.00,763.28 L220.00,762.43 L221.00,762.43 L221.00,768.18 L222.00,768.18 L222.00,755.99 L223.00,755.99 L223.00,747.57 L224.00,747.57 L224.00,756.25 L225.00,756.25 L225.00,763.31 L226.00,763.31 L226.00,772.42 L227.00,772.42 L227.00,776.53 L228.00,776.53 L228.00,779.98 L229.00,779.98 L229.00,778.84 L230.00,778.84 L230.00,777.77 L231.00,777.77 L231.00,773.99 L232.00,773.99 L232.00,779.25 L233.00,779.25 L233.00,780.87 L234.00,780.87 L234.00,778.20 L235.00,778.20 L235.00,773.62 L236.00,773.62 L236.00,783.60 L237.00,783.60 L237.00,783.60 L238.00,783.60 L238.00,780.33 L239.00,780.33 L239.00,783.60 L240.00,783.60 L240.00,783.60 L241.00,783.60 L241.00,783.60 L242.00,783.60 L242.00,783.60 L243.00,783.60 L243.00,783.60 L244.00,783.60 L244.00,783.60 L245.00,783.60 L245.00,783.60 L246.00,783.60 L246.00,783.60 L247.00,783.60 L247.00,783.60 L248.00,783.60 L248.00,783.60 L249.00,783.60 L249.00,783.60 L250.00,783.60 L250.00,783.60 L251.00,783.60 L251.00,783.60 L252.00,783.60 L252.00,783.60 L253.00,783.60 L253.00,783.60 L254.00,783.60 L254.00,783.60 L255.00,783.60 L255.00,783.60 L256.00,783.60 L256.00,783.60 L257.00,783.60 L257.00,783.60 L258.00,783.60 L258.00,783.60" fill="none" stroke="#111" stroke-width="1.6" stroke-linejoin="round" />
<path d="M208.00,767.89 L208.00,776.16 L209.00,776.16 L209.00,775.08 L210.00,775.08 L210.00,762.11 L211.00,762.11 L211.00,765.25 L212.00,765.25 L212.00,762.48 L213.00,762.48 L213.00,765.49 L214.00,765.49 L214.00,761.29 L215.00,761.29 L215.00,768.03 L216.00,768.03 L216.00,770.99 L217.00,770.99 L217.00,763.32 L218.00,763.32 L218.00,760.71 L219.00,760.71 L219.00,766.28 L220.00,766.28 L220.00,765.43 L221.00,765.43 L221.00,771.18 L222.00,771.18 L222.00,758.99 L223.00,758.99 L223.00,750.57 L224.00,750.57 L224.00,759.25 L225.00,759.25 L225.00,766.31 L226.00,766.31 L226.00,775.42 L227.00,775.42 L227.00,779.53" fill="none" stroke="#111" stroke-width="2.2" stroke-linejoin="round" />
<path d="M209.00,779.16 L209.00,778.08 L210.00,778.08 L210.00,765.11 L211.00,765.11 L211.00,768.25 L212.00,768.25 L212.00,765.48 L213.00,765.48 L213.00,768.49 L214.00,768.49 L214.00,764.29 L215.00,764.29 L215.00,771.03 L216.00,771.03 L216.00,773.99 L217.00,773.99 L217.00,766.32 L218.00,766.32 L218.00,763.71 L219.00,763.71 L219.00,769.28 L220.00,769.28 L220.00,768.43 L221.00,768.43 L221.00,774.18 L222.00,774.18 L222.00,761.99 L223.00,761.99 L223.00,753.57 L224.00,753.57 L224.00,762.25 L225.00,762.25 L225.00,769.31 L226.00,769.31 L226.00,778.42" fill="none" stroke="#222" stroke-width="1.6" stroke-linejoin="round" />
<line x1="199.60" y1="783.60" x2="258.60" y2="783.60" stroke="#222" stroke-width="1.0" />
<line x1="199.90" y1="739.60" x2="199.90" y2="783.60" stroke="#111" stroke-width="1.6" />
<text x="197.40" y="742.30" font-size="5.3" text-anchor="end" font-weight="bold" font-family="'Liberation Sans', sans-serif" fill="#222" stroke="#222" stroke-width="0.1" >8</text>
<line x1="198.10" y1="740.50" x2="199.60" y2="740.50" stroke="#333" stroke-width="0.6" />
<text x="197.40" y="753.10" font-size="5.3" text-anchor="end" font-weight="bold" font-family="'Liberation Sans', sans-serif" fill="#222" stroke="#222" stroke-width="0.1" >6</text>
<line x1="198.10" y1="751.30" x2="199.60" y2="751.30" stroke="#333" stroke-width="0.6" />
<text x="197.40" y="763.80" font-size="5.3" text-anchor="end" font-weight="bold" font-family="'Liberation Sans', sans-serif" fill="#222" stroke="#222" stroke-width="0.1" >4</text>
<line x1="198.10" y1="762.00" x2="199.60" y2="762.00" stroke="#333" stroke-width="0.6" />
<text x="197.40" y="774.50" font-size="5.3" text-anchor="end" font-weight="bold" font-family="'Liberation Sans', sans-serif" fill="#222" stroke="#222" stroke-width="0.1" >2</text>
<line x1="198.10" y1="772.70" x2="199.60" y2="772.70" stroke="#333" stroke-width="0.6" />
<text x="197.40" y="785.10" font-size="5.3" text-anchor="end" font-weight="bold" font-family="'Liberation Sans', sans-serif" fill="#222" stroke="#222" stroke-width="0.1" >0</text>
<line x1="198.10" y1="783.30" x2="199.60" y2="783.30" stroke="#333" stroke-width="0.6" />
<text x="201.10" y="792.84" font-size="6" text-anchor="middle" font-weight="normal" font-family="'Liberation Sans', sans-serif" fill="#222">10<tspan font-size="4.20" dy="-2.40">0</tspan></text>
<text x="215.47" y="792.84" font-size="6" text-anchor="middle" font-weight="normal" font-family="'Liberation Sans', sans-serif" fill="#222">10<tspan font-size="4.20" dy="-2.40">1</tspan></text>
<text x="229.85" y="792.84" font-size="6" text-anchor="middle" font-weight="normal" font-family="'Liberation Sans', sans-serif" fill="#222">10<tspan font-size="4.20" dy="-2.40">2</tspan></text>
<text x="244.23" y="792.84" font-size="6" text-anchor="middle" font-weight="normal" font-family="'Liberation Sans', sans-serif" fill="#222">10<tspan font-size="4.20" dy="-2.40">3</tspan></text>
<text x="258.60" y="792.84" font-size="6" text-anchor="middle" font-weight="normal" font-family="'Liberation Sans', sans-serif" fill="#222">10<tspan font-size="4.20" dy="-2.40">4</tspan></text>
<text x="230.60" y="798.20" font-size="5.6" text-anchor="middle" font-weight="normal" font-family="'Liberation Sans', sans-serif" fill="#111" stroke="#111" stroke-width="0.15" >FL4-H</text>
<text x="0" y="0" transform="translate(189.44,762.50) rotate(-90)" font-size="5.4" text-anchor="middle" font-weight="normal" font-family="'Liberation Sans', sans-serif" fill="#222" >Counts</text>
<line x1="200.10" y1="802.20" x2="252.30" y2="802.20" stroke="#111" stroke-width="2.2" />
<path d="M251.80,799.60 L251.80,804.80 L257.30,802.20 Z" fill="#111"/>
<text x="230.40" y="820.02" font-size="13" text-anchor="middle" font-weight="bold" font-family="'Liberation Serif', serif" fill="#111" stroke="#111" stroke-width="0.22" >TNF-&#945;</text>
<rect x="295.60" y="739.60" width="58.60" height="44.00" fill="none" stroke="#444" stroke-width="0.8" />
<path d="M296.00,783.60 L296.00,778.42 L297.10,778.42 L297.10,768.81 L298.20,768.81 L298.20,765.20 L299.30,765.20 L299.30,754.93 L300.40,754.93 L300.40,759.39 L301.50,759.39 L301.50,756.59 L302.60,756.59 L302.60,756.84 L303.70,756.84 L303.70,756.05 L304.80,756.05 L304.80,754.64 L305.90,754.64 L305.90,762.69 L307.00,762.69 L307.00,759.25 L308.10,759.25 L308.10,756.75 L309.20,756.75 L309.20,762.49 L310.30,762.49 L310.30,773.59 L311.40,773.59 L311.40,777.90 L312.50,777.90 L312.50,781.30 L313.60,781.30 L313.60,781.08 L314.70,781.08 L314.70,780.89 L315.80,780.89 L315.80,783.40 L316.00,783.40 L316.00,783.60 Z" fill="#c9c9c9" stroke="#666" stroke-width="0.8" stroke-linejoin="round" />
<path d="M296.00,783.60 L296.00,774.64 L297.00,774.64 L297.00,770.67 L298.00,770.67 L298.00,768.43 L299.00,768.43 L299.00,759.07 L300.00,759.07 L300.00,755.66 L301.00,755.66 L301.00,760.86 L302.00,760.86 L302.00,758.07 L303.00,758.07 L303.00,749.30 L304.00,749.30 L304.00,757.60 L305.00,757.60 L305.00,759.18 L306.00,759.18 L306.00,762.15 L307.00,762.15 L307.00,759.41 L308.00,759.41 L308.00,756.90 L309.00,756.90 L309.00,752.71 L310.00,752.71 L310.00,771.27 L311.00,771.27 L311.00,781.14 L312.00,781.14 L312.00,778.00 L313.00,778.00 L313.00,781.20 L314.00,781.20 L314.00,777.05 L315.00,777.05 L315.00,783.60 L316.00,783.60 L316.00,783.60" fill="none" stroke="#555" stroke-width="0.8" stroke-linejoin="round" />
<path d="M296.00,756.00 L296.00,763.34 L297.00,763.34 L297.00,778.52 L298.00,778.52 L298.00,779.36 L299.00,779.36 L299.00,775.32 L300.00,775.32 L300.00,779.71 L301.00,779.71 L301.00,778.93 L302.00,778.93 L302.00,774.17 L303.00,774.17 L303.00,774.86 L304.00,774.86 L304.00,773.07 L305.00,773.07 L305.00,771.71 L306.00,771.71 L306.00,775.30 L307.00,775.30 L307.00,776.13 L308.00,776.13 L308.00,772.97 L309.00,772.97 L309.00,761.95 L310.00,761.95 L310.00,768.00 L311.00,768.00 L311.00,769.50 L312.00,769.50 L312.00,767.86 L313.00,767.86 L313.00,767.66 L314.00,767.66 L314.00,762.93 L315.00,762.93 L315.00,761.99 L316.00,761.99 L316.00,758.07 L317.00,758.07 L317.00,766.84 L318.00,766.84 L318.00,756.93 L319.00,756.93 L319.00,755.27 L320.00,755.27 L320.00,758.64 L321.00,758.64 L321.00,756.55 L322.00,756.55 L322.00,765.96 L323.00,765.96 L323.00,768.36 L324.00,768.36 L324.00,773.42 L325.00,773.42 L325.00,772.71 L326.00,772.71 L326.00,775.54 L327.00,775.54 L327.00,775.60 L328.00,775.60 L328.00,778.65 L329.00,778.65 L329.00,783.60 L330.00,783.60 L330.00,783.60 L331.00,783.60 L331.00,783.60 L332.00,783.60 L332.00,783.60 L333.00,783.60 L333.00,777.33 L334.00,777.33 L334.00,779.47 L335.00,779.47 L335.00,783.60 L336.00,783.60 L336.00,783.60 L337.00,783.60 L337.00,783.60 L338.00,783.60 L338.00,783.60 L339.00,783.60 L339.00,783.60 L340.00,783.60 L340.00,783.60 L341.00,783.60 L341.00,783.60 L342.00,783.60 L342.00,783.60 L343.00,783.60 L343.00,783.60 L344.00,783.60 L344.00,783.60 L345.00,783.60 L345.00,783.60 L346.00,783.60 L346.00,783.60 L347.00,783.60 L347.00,783.60 L348.00,783.60 L348.00,783.60 L349.00,783.60 L349.00,783.60 L350.00,783.60 L350.00,783.60 L351.00,783.60 L351.00,783.60 L352.00,783.60 L352.00,783.60 L353.00,783.60 L353.00,783.60 L354.00,783.60 L354.00,783.60" fill="none" stroke="#111" stroke-width="1.6" stroke-linejoin="round" />
<path d="M316.00,763.99 L316.00,760.07 L317.00,760.07 L317.00,768.84 L318.00,768.84 L318.00,758.93 L319.00,758.93 L319.00,757.27 L320.00,757.27 L320.00,760.64 L321.00,760.64 L321.00,758.55 L322.00,758.55 L322.00,767.96 L323.00,767.96 L323.00,770.36 L324.00,770.36 L324.00,775.42" fill="none" stroke="#111" stroke-width="2.2" stroke-linejoin="round" />
<path d="M317.00,762.07 L317.00,770.84 L318.00,770.84 L318.00,760.93 L319.00,760.93 L319.00,759.27 L320.00,759.27 L320.00,762.64 L321.00,762.64 L321.00,760.55 L322.00,760.55 L322.00,769.96 L323.00,769.96 L323.00,772.36" fill="none" stroke="#222" stroke-width="1.6" stroke-linejoin="round" />
<path d="M296.00,759.00 L296.00,766.34 L297.00,766.34 L297.00,781.52 L298.00,781.52 L298.00,782.36 L299.00,782.36 L299.00,778.32" fill="none" stroke="#111" stroke-width="2.2" stroke-linejoin="round" />
<path d="M297.00,769.34 L297.00,783.60 L298.00,783.60 L298.00,783.60" fill="none" stroke="#222" stroke-width="1.6" stroke-linejoin="round" />
<line x1="295.60" y1="783.60" x2="354.20" y2="783.60" stroke="#222" stroke-width="1.0" />
<line x1="295.90" y1="739.60" x2="295.90" y2="783.60" stroke="#111" stroke-width="1.6" />
<text x="293.40" y="742.30" font-size="5.3" text-anchor="end" font-weight="bold" font-family="'Liberation Sans', sans-serif" fill="#222" stroke="#222" stroke-width="0.1" >8</text>
<line x1="294.10" y1="740.50" x2="295.60" y2="740.50" stroke="#333" stroke-width="0.6" />
<text x="293.40" y="753.10" font-size="5.3" text-anchor="end" font-weight="bold" font-family="'Liberation Sans', sans-serif" fill="#222" stroke="#222" stroke-width="0.1" >6</text>
<line x1="294.10" y1="751.30" x2="295.60" y2="751.30" stroke="#333" stroke-width="0.6" />
<text x="293.40" y="763.80" font-size="5.3" text-anchor="end" font-weight="bold" font-family="'Liberation Sans', sans-serif" fill="#222" stroke="#222" stroke-width="0.1" >4</text>
<line x1="294.10" y1="762.00" x2="295.60" y2="762.00" stroke="#333" stroke-width="0.6" />
<text x="293.40" y="774.50" font-size="5.3" text-anchor="end" font-weight="bold" font-family="'Liberation Sans', sans-serif" fill="#222" stroke="#222" stroke-width="0.1" >2</text>
<line x1="294.10" y1="772.70" x2="295.60" y2="772.70" stroke="#333" stroke-width="0.6" />
<text x="293.40" y="785.10" font-size="5.3" text-anchor="end" font-weight="bold" font-family="'Liberation Sans', sans-serif" fill="#222" stroke="#222" stroke-width="0.1" >0</text>
<line x1="294.10" y1="783.30" x2="295.60" y2="783.30" stroke="#333" stroke-width="0.6" />
<text x="297.10" y="792.84" font-size="6" text-anchor="middle" font-weight="normal" font-family="'Liberation Sans', sans-serif" fill="#222">10<tspan font-size="4.20" dy="-2.40">0</tspan></text>
<text x="311.38" y="792.84" font-size="6" text-anchor="middle" font-weight="normal" font-family="'Liberation Sans', sans-serif" fill="#222">10<tspan font-size="4.20" dy="-2.40">1</tspan></text>
<text x="325.65" y="792.84" font-size="6" text-anchor="middle" font-weight="normal" font-family="'Liberation Sans', sans-serif" fill="#222">10<tspan font-size="4.20" dy="-2.40">2</tspan></text>
<text x="339.93" y="792.84" font-size="6" text-anchor="middle" font-weight="normal" font-family="'Liberation Sans', sans-serif" fill="#222">10<tspan font-size="4.20" dy="-2.40">3</tspan></text>
<text x="354.20" y="792.84" font-size="6" text-anchor="middle" font-weight="normal" font-family="'Liberation Sans', sans-serif" fill="#222">10<tspan font-size="4.20" dy="-2.40">4</tspan></text>
<text x="326.40" y="798.20" font-size="5.6" text-anchor="middle" font-weight="normal" font-family="'Liberation Sans', sans-serif" fill="#111" stroke="#111" stroke-width="0.15" >FL4-H</text>
<text x="0" y="0" transform="translate(285.44,762.50) rotate(-90)" font-size="5.4" text-anchor="middle" font-weight="normal" font-family="'Liberation Sans', sans-serif" fill="#222" >Counts</text>
<line x1="296.10" y1="802.20" x2="347.90" y2="802.20" stroke="#111" stroke-width="2.2" />
<path d="M347.40,799.60 L347.40,804.80 L352.90,802.20 Z" fill="#111"/>
<text x="321.30" y="820.02" font-size="13" text-anchor="middle" font-weight="bold" font-family="'Liberation Serif', serif" fill="#111" stroke="#111" stroke-width="0.22" >IL-2</text>
<rect x="375.60" y="739.60" width="58.60" height="44.00" fill="none" stroke="#444" stroke-width="0.8" />
<path d="M376.00,783.60 L376.00,775.11 L377.10,775.11 L377.10,769.51 L378.20,769.51 L378.20,764.28 L379.30,764.28 L379.30,754.78 L380.40,754.78 L380.40,758.21 L381.50,758.21 L381.50,761.08 L382.60,761.08 L382.60,757.32 L383.70,757.32 L383.70,753.69 L384.80,753.69 L384.80,757.83 L385.90,757.83 L385.90,757.22 L387.00,757.22 L387.00,758.67 L388.10,758.67 L388.10,761.47 L389.20,761.47 L389.20,757.21 L390.30,757.21 L390.30,764.18 L391.40,764.18 L391.40,771.80 L392.50,771.80 L392.50,774.33 L393.60,774.33 L393.60,775.95 L393.80,775.95 L393.80,783.60 Z" fill="#c9c9c9" stroke="#666" stroke-width="0.8" stroke-linejoin="round" />
<path d="M376.00,783.60 L376.00,773.96 L377.00,773.96 L377.00,769.31 L378.00,769.31 L378.00,762.38 L379.00,762.38 L379.00,757.59 L380.00,757.59 L380.00,760.51 L381.00,760.51 L381.00,760.89 L382.00,760.89 L382.00,760.07 L383.00,760.07 L383.00,754.59 L384.00,754.59 L384.00,753.49 L385.00,753.49 L385.00,753.97 L386.00,753.97 L386.00,755.69 L387.00,755.69 L387.00,759.71 L388.00,759.71 L388.00,760.29 L389.00,760.29 L389.00,756.84 L390.00,756.84 L390.00,754.76 L391.00,754.76 L391.00,769.98 L392.00,769.98 L392.00,770.16 L393.00,770.16 L393.00,780.24 L393.80,780.24 L393.80,783.60" fill="none" stroke="#555" stroke-width="0.8" stroke-linejoin="round" />
<path d="M376.00,760.00 L376.00,777.63 L377.00,777.63 L377.00,777.69 L378.00,777.69 L378.00,777.94 L379.00,777.94 L379.00,778.00 L380.00,778.00 L380.00,777.98 L381.00,777.98 L381.00,777.46 L382.00,777.46 L382.00,778.05 L383.00,778.05 L383.00,777.52 L384.00,777.52 L384.00,777.41 L385.00,777.41 L385.00,777.19 L386.00,777.19 L386.00,777.61 L387.00,777.61 L387.00,777.25 L388.00,777.25 L388.00,777.37 L389.00,777.37 L389.00,777.71 L390.00,777.71 L390.00,777.88 L391.00,777.88 L391.00,777.85 L392.00,777.85 L392.00,777.19 L393.00,777.19 L393.00,777.16 L394.00,777.16 L394.00,777.36 L395.00,777.36 L395.00,777.65 L396.00,777.65 L396.00,777.94 L397.00,777.94 L397.00,777.90 L398.00,777.90 L398.00,777.73 L399.00,777.73 L399.00,774.39 L400.00,774.39 L400.00,771.44 L401.00,771.44 L401.00,765.59 L402.00,765.59 L402.00,761.31 L403.00,761.31 L403.00,761.21 L404.00,761.21 L404.00,761.54 L405.00,761.54 L405.00,761.61 L406.00,761.61 L406.00,761.57 L407.00,761.57 L407.00,763.36 L408.00,763.36 L408.00,766.24 L409.00,766.24 L409.00,769.20 L410.00,769.20 L410.00,772.82 L411.00,772.82 L411.00,775.58 L412.00,775.58 L412.00,777.85 L413.00,777.85 L413.00,777.91 L414.00,777.91 L414.00,777.38 L415.00,777.38 L415.00,777.22 L416.00,777.22 L416.00,778.98 L417.00,778.98 L417.00,783.20 L418.00,783.20 L418.00,783.60 L419.00,783.60 L419.00,783.60 L420.00,783.60 L420.00,783.60 L421.00,783.60 L421.00,783.60 L422.00,783.60 L422.00,783.60 L423.00,783.60 L423.00,783.60 L424.00,783.60 L424.00,783.60 L425.00,783.60 L425.00,783.60 L426.00,783.60 L426.00,783.60 L427.00,783.60 L427.00,783.60 L428.00,783.60 L428.00,783.60 L429.00,783.60 L429.00,783.60 L430.00,783.60 L430.00,783.60 L431.00,783.60 L431.00,783.60 L432.00,783.60 L432.00,783.60 L433.00,783.60 L433.00,783.60 L434.00,783.60 L434.00,783.60" fill="none" stroke="#111" stroke-width="1.6" stroke-linejoin="round" />
<path d="M376.00,761.20 L376.00,778.83 L377.00,778.83 L377.00,778.89 L378.00,778.89 L378.00,779.14 L379.00,779.14 L379.00,779.20 L380.00,779.20 L380.00,779.18 L381.00,779.18 L381.00,778.66 L382.00,778.66 L382.00,779.25 L383.00,779.25 L383.00,778.72 L384.00,778.72 L384.00,778.61 L385.00,778.61 L385.00,778.39 L386.00,778.39 L386.00,778.81 L387.00,778.81 L387.00,778.45 L388.00,778.45 L388.00,778.57 L389.00,778.57 L389.00,778.91 L390.00,778.91 L390.00,779.08 L391.00,779.08 L391.00,779.05 L392.00,779.05 L392.00,778.39 L393.00,778.39 L393.00,778.36 L394.00,778.36 L394.00,778.56 L395.00,778.56 L395.00,778.85 L396.00,778.85 L396.00,779.14 L397.00,779.14 L397.00,779.10 L398.00,779.10 L398.00,778.93" fill="none" stroke="#111" stroke-width="2.2" stroke-linejoin="round" />
<path d="M377.00,780.03 L377.00,780.09 L378.00,780.09 L378.00,780.34 L379.00,780.34 L379.00,780.40 L380.00,780.40 L380.00,780.38 L381.00,780.38 L381.00,779.86 L382.00,779.86 L382.00,780.45 L383.00,780.45 L383.00,779.92 L384.00,779.92 L384.00,779.81 L385.00,779.81 L385.00,779.59 L386.00,779.59 L386.00,780.01 L387.00,780.01 L387.00,779.65 L388.00,779.65 L388.00,779.77 L389.00,779.77 L389.00,780.11 L390.00,780.11 L390.00,780.28 L391.00,780.28 L391.00,780.25 L392.00,780.25 L392.00,779.59 L393.00,779.59 L393.00,779.56 L394.00,779.56 L394.00,779.76 L395.00,779.76 L395.00,780.05 L396.00,780.05 L396.00,780.34 L397.00,780.34 L397.00,780.30" fill="none" stroke="#222" stroke-width="1.6" stroke-linejoin="round" />
<line x1="375.60" y1="783.60" x2="434.20" y2="783.60" stroke="#222" stroke-width="1.0" />
<line x1="375.90" y1="739.60" x2="375.90" y2="783.60" stroke="#111" stroke-width="1.6" />
<text x="373.40" y="742.30" font-size="5.3" text-anchor="end" font-weight="bold" font-family="'Liberation Sans', sans-serif" fill="#222" stroke="#222" stroke-width="0.1" >8</text>
<line x1="374.10" y1="740.50" x2="375.60" y2="740.50" stroke="#333" stroke-width="0.6" />
<text x="373.40" y="753.10" font-size="5.3" text-anchor="end" font-weight="bold" font-family="'Liberation Sans', sans-serif" fill="#222" stroke="#222" stroke-width="0.1" >6</text>
<line x1="374.10" y1="751.30" x2="375.60" y2="751.30" stroke="#333" stroke-width="0.6" />
<text x="373.40" y="763.80" font-size="5.3" text-anchor="end" font-weight="bold" font-family="'Liberation Sans', sans-serif" fill="#222" stroke="#222" stroke-width="0.1" >4</text>
<line x1="374.10" y1="762.00" x2="375.60" y2="762.00" stroke="#333" stroke-width="0.6" />
<text x="373.40" y="774.50" font-size="5.3" text-anchor="end" font-weight="bold" font-family="'Liberation Sans', sans-serif" fill="#222" stroke="#222" stroke-width="0.1" >2</text>
<line x1="374.10" y1="772.70" x2="375.60" y2="772.70" stroke="#333" stroke-width="0.6" />
<text x="373.40" y="785.10" font-size="5.3" text-anchor="end" font-weight="bold" font-family="'Liberation Sans', sans-serif" fill="#222" stroke="#222" stroke-width="0.1" >0</text>
<line x1="374.10" y1="783.30" x2="375.60" y2="783.30" stroke="#333" stroke-width="0.6" />
<text x="377.10" y="792.84" font-size="6" text-anchor="middle" font-weight="normal" font-family="'Liberation Sans', sans-serif" fill="#222">10<tspan font-size="4.20" dy="-2.40">0</tspan></text>
<text x="391.38" y="792.84" font-size="6" text-anchor="middle" font-weight="normal" font-family="'Liberation Sans', sans-serif" fill="#222">10<tspan font-size="4.20" dy="-2.40">1</tspan></text>
<text x="405.65" y="792.84" font-size="6" text-anchor="middle" font-weight="normal" font-family="'Liberation Sans', sans-serif" fill="#222">10<tspan font-size="4.20" dy="-2.40">2</tspan></text>
<text x="419.93" y="792.84" font-size="6" text-anchor="middle" font-weight="normal" font-family="'Liberation Sans', sans-serif" fill="#222">10<tspan font-size="4.20" dy="-2.40">3</tspan></text>
<text x="434.20" y="792.84" font-size="6" text-anchor="middle" font-weight="normal" font-family="'Liberation Sans', sans-serif" fill="#222">10<tspan font-size="4.20" dy="-2.40">4</tspan></text>
<text x="406.40" y="798.20" font-size="5.6" text-anchor="middle" font-weight="normal" font-family="'Liberation Sans', sans-serif" fill="#111" stroke="#111" stroke-width="0.15" >FL4-H</text>
<text x="0" y="0" transform="translate(365.44,762.50) rotate(-90)" font-size="5.4" text-anchor="middle" font-weight="normal" font-family="'Liberation Sans', sans-serif" fill="#222" >Counts</text>
<line x1="376.10" y1="802.20" x2="427.90" y2="802.20" stroke="#111" stroke-width="2.2" />
<path d="M427.40,799.60 L427.40,804.80 L432.90,802.20 Z" fill="#111"/>
<text x="406.00" y="820.02" font-size="13" text-anchor="middle" font-weight="bold" font-family="'Liberation Serif', serif" fill="#111" stroke="#111" stroke-width="0.22" >IFN-&#947;</text>
<rect x="457.80" y="739.60" width="57.80" height="44.00" fill="none" stroke="#444" stroke-width="0.8" />
<path d="M458.00,783.60 L458.00,770.01 L459.10,770.01 L459.10,760.87 L460.20,760.87 L460.20,760.79 L461.30,760.79 L461.30,759.83 L462.40,759.83 L462.40,757.73 L463.50,757.73 L463.50,756.29 L464.60,756.29 L464.60,754.76 L465.70,754.76 L465.70,757.41 L466.80,757.41 L466.80,757.61 L467.90,757.61 L467.90,758.98 L469.00,758.98 L469.00,761.44 L470.10,761.44 L470.10,762.92 L471.20,762.92 L471.20,762.75 L472.30,762.75 L472.30,771.15 L473.40,771.15 L473.40,775.33 L474.50,775.33 L474.50,777.07 L475.60,777.07 L475.60,776.11 L476.00,776.11 L476.00,783.60 Z" fill="#c9c9c9" stroke="#666" stroke-width="0.8" stroke-linejoin="round" />
<path d="M458.00,783.60 L458.00,769.86 L459.00,769.86 L459.00,758.91 L460.00,758.91 L460.00,752.07 L461.00,752.07 L461.00,760.69 L462.00,760.69 L462.00,755.71 L463.00,755.71 L463.00,755.41 L464.00,755.41 L464.00,757.64 L465.00,757.64 L465.00,757.89 L466.00,757.89 L466.00,754.03 L467.00,754.03 L467.00,757.48 L468.00,757.48 L468.00,756.24 L469.00,756.24 L469.00,763.19 L470.00,763.19 L470.00,756.21 L471.00,756.21 L471.00,765.28 L472.00,765.28 L472.00,771.72 L473.00,771.72 L473.00,775.37 L474.00,775.37 L474.00,779.15 L475.00,779.15 L475.00,780.17 L476.00,780.17 L476.00,783.60" fill="none" stroke="#555" stroke-width="0.8" stroke-linejoin="round" />
<path d="M458.00,760.00 L458.00,777.52 L459.00,777.52 L459.00,776.08 L460.00,776.08 L460.00,773.06 L461.00,773.06 L461.00,772.97 L462.00,772.97 L462.00,773.14 L463.00,773.14 L463.00,771.71 L464.00,771.71 L464.00,772.89 L465.00,772.89 L465.00,773.19 L466.00,773.19 L466.00,768.07 L467.00,768.07 L467.00,766.89 L468.00,766.89 L468.00,770.02 L469.00,770.02 L469.00,768.94 L470.00,768.94 L470.00,760.84 L471.00,760.84 L471.00,769.00 L472.00,769.00 L472.00,770.98 L473.00,770.98 L473.00,774.44 L474.00,774.44 L474.00,777.82 L475.00,777.82 L475.00,777.15 L476.00,777.15 L476.00,776.84 L477.00,776.84 L477.00,778.52 L478.00,778.52 L478.00,775.26 L479.00,775.26 L479.00,771.69 L480.00,771.69 L480.00,763.63 L481.00,763.63 L481.00,767.85 L482.00,767.85 L482.00,767.43 L483.00,767.43 L483.00,767.20 L484.00,767.20 L484.00,764.54 L485.00,764.54 L485.00,759.94 L486.00,759.94 L486.00,760.13 L487.00,760.13 L487.00,760.71 L488.00,760.71 L488.00,766.37 L489.00,766.37 L489.00,767.24 L490.00,767.24 L490.00,771.57 L491.00,771.57 L491.00,773.75 L492.00,773.75 L492.00,775.37 L493.00,775.37 L493.00,776.87 L494.00,776.87 L494.00,780.69 L495.00,780.69 L495.00,783.33 L496.00,783.33 L496.00,783.60 L497.00,783.60 L497.00,783.60 L498.00,783.60 L498.00,783.60 L499.00,783.60 L499.00,783.60 L500.00,783.60 L500.00,783.60 L501.00,783.60 L501.00,783.60 L502.00,783.60 L502.00,783.60 L503.00,783.60 L503.00,783.60 L504.00,783.60 L504.00,783.60 L505.00,783.60 L505.00,783.60 L506.00,783.60 L506.00,783.60 L507.00,783.60 L507.00,783.60 L508.00,783.60 L508.00,783.60 L509.00,783.60 L509.00,783.60 L510.00,783.60 L510.00,783.60 L511.00,783.60 L511.00,783.60 L512.00,783.60 L512.00,783.60 L513.00,783.60 L513.00,783.60 L514.00,783.60 L514.00,783.60 L515.00,783.60 L515.00,783.60 L515.60,783.60 L515.60,783.60" fill="none" stroke="#111" stroke-width="1.6" stroke-linejoin="round" />
<path d="M460.00,777.58 L460.00,774.56 L461.00,774.56 L461.00,774.47 L462.00,774.47 L462.00,774.64 L463.00,774.64 L463.00,773.21 L464.00,773.21 L464.00,774.39 L465.00,774.39 L465.00,774.69 L466.00,774.69 L466.00,769.57 L467.00,769.57 L467.00,768.39 L468.00,768.39 L468.00,771.52 L469.00,771.52 L469.00,770.44 L470.00,770.44 L470.00,762.34 L471.00,762.34 L471.00,770.50 L472.00,770.50 L472.00,772.48 L473.00,772.48 L473.00,775.94 L474.00,775.94 L474.00,779.32" fill="none" stroke="#111" stroke-width="2.2" stroke-linejoin="round" />
<path d="M461.00,776.06 L461.00,775.97 L462.00,775.97 L462.00,776.14 L463.00,776.14 L463.00,774.71 L464.00,774.71 L464.00,775.89 L465.00,775.89 L465.00,776.19 L466.00,776.19 L466.00,771.07 L467.00,771.07 L467.00,769.89 L468.00,769.89 L468.00,773.02 L469.00,773.02 L469.00,771.94 L470.00,771.94 L470.00,763.84 L471.00,763.84 L471.00,772.00 L472.00,772.00 L472.00,773.98 L473.00,773.98 L473.00,777.44" fill="none" stroke="#222" stroke-width="1.6" stroke-linejoin="round" />
<path d="M481.00,765.13 L481.00,769.35 L482.00,769.35 L482.00,768.93 L483.00,768.93 L483.00,768.70 L484.00,768.70 L484.00,766.04 L485.00,766.04 L485.00,761.44 L486.00,761.44 L486.00,761.63 L487.00,761.63 L487.00,762.21 L488.00,762.21 L488.00,767.87 L489.00,767.87 L489.00,768.74" fill="none" stroke="#111" stroke-width="2.2" stroke-linejoin="round" />
<path d="M482.00,770.85 L482.00,770.43 L483.00,770.43 L483.00,770.20 L484.00,770.20 L484.00,767.54 L485.00,767.54 L485.00,762.94 L486.00,762.94 L486.00,763.13 L487.00,763.13 L487.00,763.71 L488.00,763.71 L488.00,769.37" fill="none" stroke="#222" stroke-width="1.6" stroke-linejoin="round" />
<line x1="457.80" y1="783.60" x2="515.60" y2="783.60" stroke="#222" stroke-width="1.0" />
<line x1="458.10" y1="739.60" x2="458.10" y2="783.60" stroke="#111" stroke-width="1.6" />
<text x="455.60" y="742.30" font-size="5.3" text-anchor="end" font-weight="bold" font-family="'Liberation Sans', sans-serif" fill="#222" stroke="#222" stroke-width="0.1" >8</text>
<line x1="456.30" y1="740.50" x2="457.80" y2="740.50" stroke="#333" stroke-width="0.6" />
<text x="455.60" y="753.10" font-size="5.3" text-anchor="end" font-weight="bold" font-family="'Liberation Sans', sans-serif" fill="#222" stroke="#222" stroke-width="0.1" >6</text>
<line x1="456.30" y1="751.30" x2="457.80" y2="751.30" stroke="#333" stroke-width="0.6" />
<text x="455.60" y="763.80" font-size="5.3" text-anchor="end" font-weight="bold" font-family="'Liberation Sans', sans-serif" fill="#222" stroke="#222" stroke-width="0.1" >4</text>
<line x1="456.30" y1="762.00" x2="457.80" y2="762.00" stroke="#333" stroke-width="0.6" />
<text x="455.60" y="774.50" font-size="5.3" text-anchor="end" font-weight="bold" font-family="'Liberation Sans', sans-serif" fill="#222" stroke="#222" stroke-width="0.1" >2</text>
<line x1="456.30" y1="772.70" x2="457.80" y2="772.70" stroke="#333" stroke-width="0.6" />
<text x="455.60" y="785.10" font-size="5.3" text-anchor="end" font-weight="bold" font-family="'Liberation Sans', sans-serif" fill="#222" stroke="#222" stroke-width="0.1" >0</text>
<line x1="456.30" y1="783.30" x2="457.80" y2="783.30" stroke="#333" stroke-width="0.6" />
<text x="459.30" y="792.84" font-size="6" text-anchor="middle" font-weight="normal" font-family="'Liberation Sans', sans-serif" fill="#222">10<tspan font-size="4.20" dy="-2.40">0</tspan></text>
<text x="473.38" y="792.84" font-size="6" text-anchor="middle" font-weight="normal" font-family="'Liberation Sans', sans-serif" fill="#222">10<tspan font-size="4.20" dy="-2.40">1</tspan></text>
<text x="487.45" y="792.84" font-size="6" text-anchor="middle" font-weight="normal" font-family="'Liberation Sans', sans-serif" fill="#222">10<tspan font-size="4.20" dy="-2.40">2</tspan></text>
<text x="501.53" y="792.84" font-size="6" text-anchor="middle" font-weight="normal" font-family="'Liberation Sans', sans-serif" fill="#222">10<tspan font-size="4.20" dy="-2.40">3</tspan></text>
<text x="515.60" y="792.84" font-size="6" text-anchor="middle" font-weight="normal" font-family="'Liberation Sans', sans-serif" fill="#222">10<tspan font-size="4.20" dy="-2.40">4</tspan></text>
<text x="488.20" y="798.20" font-size="5.6" text-anchor="middle" font-weight="normal" font-family="'Liberation Sans', sans-serif" fill="#111" stroke="#111" stroke-width="0.15" >FL4-H</text>
<text x="0" y="0" transform="translate(447.64,762.50) rotate(-90)" font-size="5.4" text-anchor="middle" font-weight="normal" font-family="'Liberation Sans', sans-serif" fill="#222" >Counts</text>
<line x1="458.30" y1="802.20" x2="509.30" y2="802.20" stroke="#111" stroke-width="2.2" />
<path d="M508.80,799.60 L508.80,804.80 L514.30,802.20 Z" fill="#111"/>
<text x="488.00" y="820.02" font-size="13" text-anchor="middle" font-weight="bold" font-family="'Liberation Serif', serif" fill="#111" stroke="#111" stroke-width="0.22" >TNF-&#945;</text>
<path d="M520,785 L516.8,787.3 L520,789.6 Z" fill="#666"/>
</svg>
</body></html>
